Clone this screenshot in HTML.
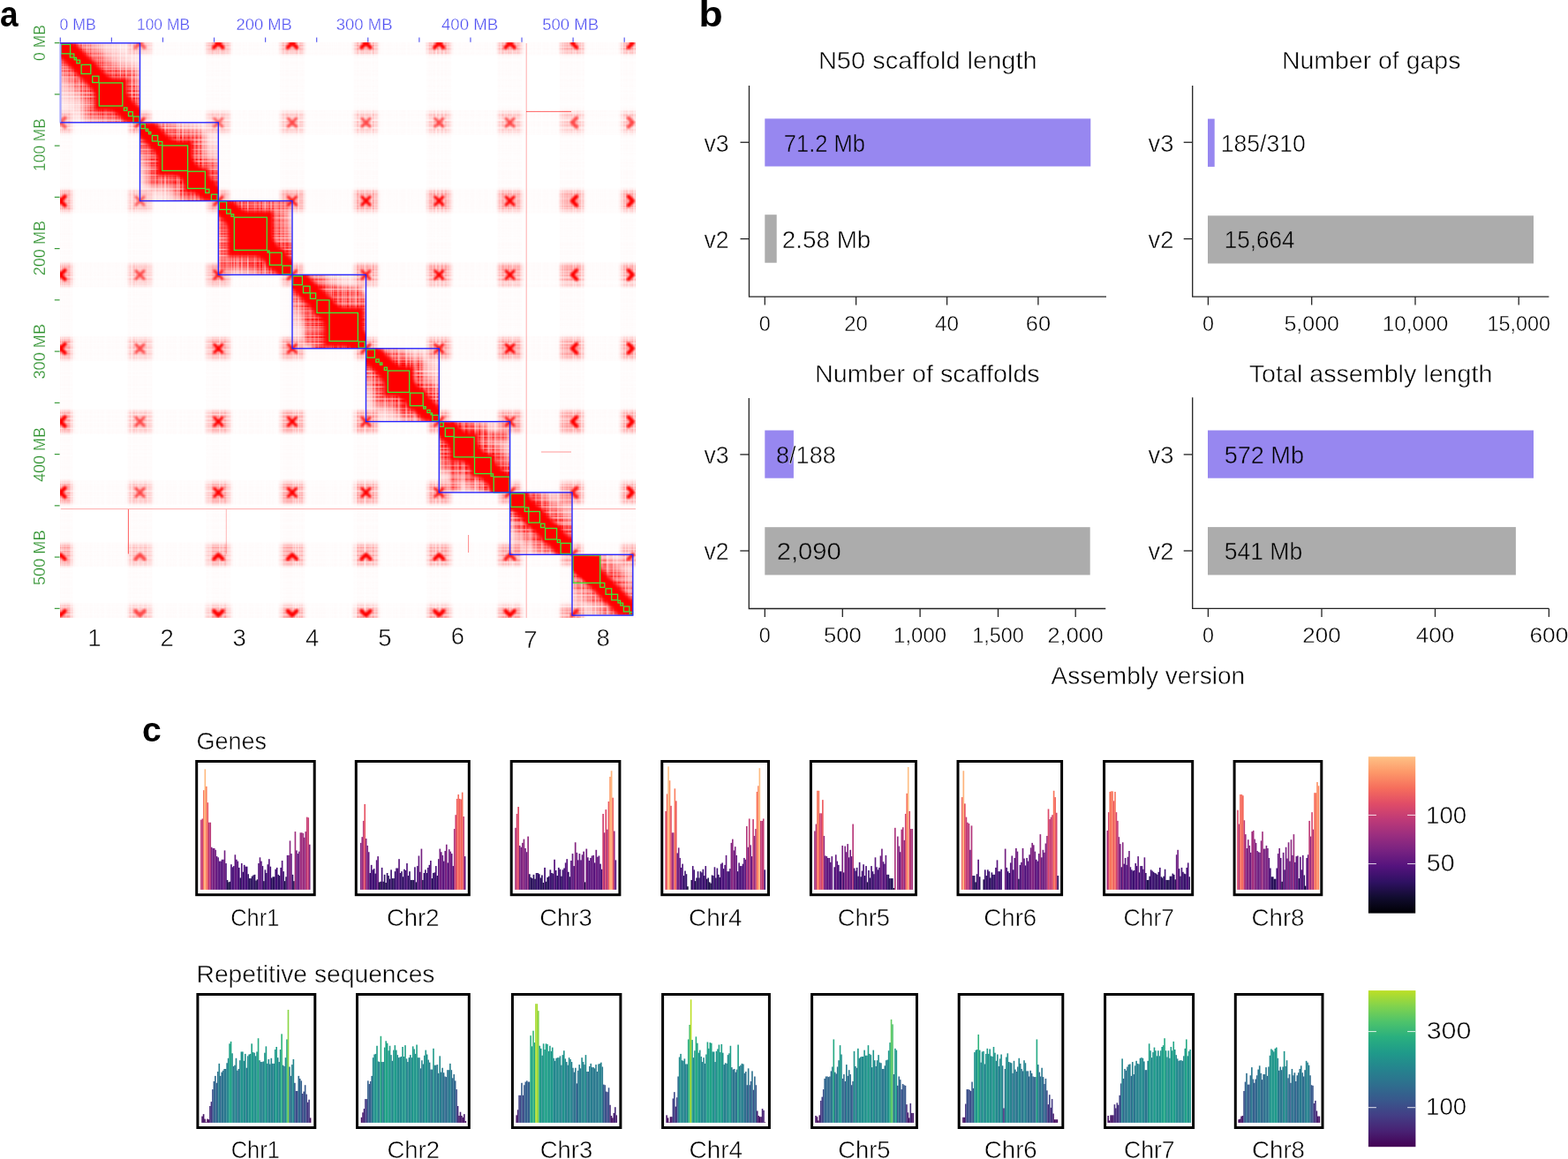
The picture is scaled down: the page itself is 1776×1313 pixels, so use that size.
<!DOCTYPE html>
<html><head><meta charset="utf-8"><title>Figure</title>
<style>html,body{margin:0;padding:0;background:#fff;}svg{display:block;}</style>
</head><body>
<svg width="1776" height="1313" viewBox="0 0 1776 1313" font-family="'Liberation Sans', Arial, sans-serif">
<rect width="1776" height="1313" fill="#fff"/>
<g id="panel-a">
<defs><clipPath id="cmap"><rect x="68.5" y="48.8" width="651.5" height="651.2"/></clipPath>
<filter id="bl1" x="-50%" y="-50%" width="200%" height="200%"><feGaussianBlur stdDeviation="0.8"/></filter>
<filter id="bl2" x="-50%" y="-50%" width="200%" height="200%"><feGaussianBlur stdDeviation="2.2"/></filter>
<filter id="bl4" x="-50%" y="-50%" width="200%" height="200%"><feGaussianBlur stdDeviation="4"/></filter>
<filter id="bl6" x="-50%" y="-50%" width="200%" height="200%"><feGaussianBlur stdDeviation="5"/></filter>
<filter id="bl8" x="-50%" y="-50%" width="200%" height="200%"><feGaussianBlur stdDeviation="9"/></filter>
<filter id="tex" filterUnits="userSpaceOnUse" x="68.5" y="48.8" width="651.5" height="651.2" color-interpolation-filters="sRGB"><feTurbulence type="fractalNoise" baseFrequency="0.45 0.0005" numOctaves="2" seed="7" result="nv"/><feTurbulence type="fractalNoise" baseFrequency="0.0005 0.45" numOctaves="2" seed="11" result="nh"/><feColorMatrix in="nv" type="matrix" values="0 0 0 0 0 0 0 0 0 0 0 0 0 0 0 1.5 0 0 0 0.05" result="av"/><feColorMatrix in="nh" type="matrix" values="0 0 0 0 0 0 0 0 0 0 0 0 0 0 0 1.5 0 0 0 0.05" result="ah"/><feComposite in="av" in2="ah" operator="arithmetic" k1="1.0" k2="0" k3="0" k4="0" result="g"/><feGaussianBlur in="g" stdDeviation="0.6" result="gb"/><feComposite in="SourceGraphic" in2="gb" operator="in"/></filter>
<clipPath id="cb0"><rect x="68.5" y="48.8" width="90.0" height="90.0"/></clipPath>
<clipPath id="cb1"><rect x="158.5" y="138.8" width="88.80000000000001" height="88.80000000000001"/></clipPath>
<clipPath id="cb2"><rect x="247.3" y="227.60000000000002" width="83.69999999999999" height="83.69999999999999"/></clipPath>
<clipPath id="cb3"><rect x="331.0" y="311.3" width="83.5" height="83.5"/></clipPath>
<clipPath id="cb4"><rect x="414.5" y="394.8" width="82.80000000000001" height="82.80000000000001"/></clipPath>
<clipPath id="cb5"><rect x="497.3" y="477.6" width="80.30000000000001" height="80.30000000000001"/></clipPath>
<clipPath id="cb6"><rect x="577.6" y="557.9" width="70.39999999999998" height="70.39999999999998"/></clipPath>
<clipPath id="cb7"><rect x="648.0" y="628.3" width="68.79999999999995" height="68.79999999999995"/></clipPath>
</defs>
<g clip-path="url(#cmap)">
<g filter="url(#tex)">
<rect x="68.5" y="34.8" width="651.5" height="28" fill="#ff0000" opacity="0.02"/>
<rect x="54.5" y="48.8" width="28" height="651.2" fill="#ff0000" opacity="0.02"/>
<rect x="68.5" y="124.80000000000001" width="651.5" height="28" fill="#ff0000" opacity="0.02"/>
<rect x="144.5" y="48.8" width="28" height="651.2" fill="#ff0000" opacity="0.02"/>
<rect x="68.5" y="213.60000000000002" width="651.5" height="28" fill="#ff0000" opacity="0.02"/>
<rect x="233.3" y="48.8" width="28" height="651.2" fill="#ff0000" opacity="0.02"/>
<rect x="68.5" y="297.3" width="651.5" height="28" fill="#ff0000" opacity="0.02"/>
<rect x="317.0" y="48.8" width="28" height="651.2" fill="#ff0000" opacity="0.02"/>
<rect x="68.5" y="380.8" width="651.5" height="28" fill="#ff0000" opacity="0.02"/>
<rect x="400.5" y="48.8" width="28" height="651.2" fill="#ff0000" opacity="0.02"/>
<rect x="68.5" y="463.6" width="651.5" height="28" fill="#ff0000" opacity="0.02"/>
<rect x="483.3" y="48.8" width="28" height="651.2" fill="#ff0000" opacity="0.02"/>
<rect x="68.5" y="543.9" width="651.5" height="28" fill="#ff0000" opacity="0.02"/>
<rect x="563.6" y="48.8" width="28" height="651.2" fill="#ff0000" opacity="0.02"/>
<rect x="68.5" y="614.3" width="651.5" height="28" fill="#ff0000" opacity="0.02"/>
<rect x="634.0" y="48.8" width="28" height="651.2" fill="#ff0000" opacity="0.02"/>
<rect x="68.5" y="683.0999999999999" width="651.5" height="28" fill="#ff0000" opacity="0.02"/>
<rect x="702.8" y="48.8" width="28" height="651.2" fill="#ff0000" opacity="0.02"/>
<rect x="145.5" y="36.8" width="26" height="24" fill="#ff0000" opacity="0.25" filter="url(#bl2)"/>
<rect x="234.3" y="36.8" width="26" height="24" fill="#ff0000" opacity="0.38" filter="url(#bl2)"/>
<rect x="318.0" y="36.8" width="26" height="24" fill="#ff0000" opacity="0.38" filter="url(#bl2)"/>
<rect x="401.5" y="36.8" width="26" height="24" fill="#ff0000" opacity="0.38" filter="url(#bl2)"/>
<rect x="484.3" y="36.8" width="26" height="24" fill="#ff0000" opacity="0.38" filter="url(#bl2)"/>
<rect x="564.6" y="36.8" width="26" height="24" fill="#ff0000" opacity="0.38" filter="url(#bl2)"/>
<rect x="635.0" y="36.8" width="26" height="24" fill="#ff0000" opacity="0.38" filter="url(#bl2)"/>
<rect x="703.8" y="36.8" width="26" height="24" fill="#ff0000" opacity="0.38" filter="url(#bl2)"/>
<rect x="55.5" y="126.80000000000001" width="26" height="24" fill="#ff0000" opacity="0.25" filter="url(#bl2)"/>
<rect x="234.3" y="126.80000000000001" width="26" height="24" fill="#ff0000" opacity="0.25" filter="url(#bl2)"/>
<rect x="318.0" y="126.80000000000001" width="26" height="24" fill="#ff0000" opacity="0.25" filter="url(#bl2)"/>
<rect x="401.5" y="126.80000000000001" width="26" height="24" fill="#ff0000" opacity="0.25" filter="url(#bl2)"/>
<rect x="484.3" y="126.80000000000001" width="26" height="24" fill="#ff0000" opacity="0.25" filter="url(#bl2)"/>
<rect x="564.6" y="126.80000000000001" width="26" height="24" fill="#ff0000" opacity="0.25" filter="url(#bl2)"/>
<rect x="635.0" y="126.80000000000001" width="26" height="24" fill="#ff0000" opacity="0.25" filter="url(#bl2)"/>
<rect x="703.8" y="126.80000000000001" width="26" height="24" fill="#ff0000" opacity="0.25" filter="url(#bl2)"/>
<rect x="55.5" y="215.60000000000002" width="26" height="24" fill="#ff0000" opacity="0.38" filter="url(#bl2)"/>
<rect x="145.5" y="215.60000000000002" width="26" height="24" fill="#ff0000" opacity="0.25" filter="url(#bl2)"/>
<rect x="318.0" y="215.60000000000002" width="26" height="24" fill="#ff0000" opacity="0.38" filter="url(#bl2)"/>
<rect x="401.5" y="215.60000000000002" width="26" height="24" fill="#ff0000" opacity="0.38" filter="url(#bl2)"/>
<rect x="484.3" y="215.60000000000002" width="26" height="24" fill="#ff0000" opacity="0.38" filter="url(#bl2)"/>
<rect x="564.6" y="215.60000000000002" width="26" height="24" fill="#ff0000" opacity="0.38" filter="url(#bl2)"/>
<rect x="635.0" y="215.60000000000002" width="26" height="24" fill="#ff0000" opacity="0.38" filter="url(#bl2)"/>
<rect x="703.8" y="215.60000000000002" width="26" height="24" fill="#ff0000" opacity="0.38" filter="url(#bl2)"/>
<rect x="55.5" y="299.3" width="26" height="24" fill="#ff0000" opacity="0.38" filter="url(#bl2)"/>
<rect x="145.5" y="299.3" width="26" height="24" fill="#ff0000" opacity="0.25" filter="url(#bl2)"/>
<rect x="234.3" y="299.3" width="26" height="24" fill="#ff0000" opacity="0.38" filter="url(#bl2)"/>
<rect x="401.5" y="299.3" width="26" height="24" fill="#ff0000" opacity="0.38" filter="url(#bl2)"/>
<rect x="484.3" y="299.3" width="26" height="24" fill="#ff0000" opacity="0.38" filter="url(#bl2)"/>
<rect x="564.6" y="299.3" width="26" height="24" fill="#ff0000" opacity="0.38" filter="url(#bl2)"/>
<rect x="635.0" y="299.3" width="26" height="24" fill="#ff0000" opacity="0.38" filter="url(#bl2)"/>
<rect x="703.8" y="299.3" width="26" height="24" fill="#ff0000" opacity="0.38" filter="url(#bl2)"/>
<rect x="55.5" y="382.8" width="26" height="24" fill="#ff0000" opacity="0.38" filter="url(#bl2)"/>
<rect x="145.5" y="382.8" width="26" height="24" fill="#ff0000" opacity="0.25" filter="url(#bl2)"/>
<rect x="234.3" y="382.8" width="26" height="24" fill="#ff0000" opacity="0.38" filter="url(#bl2)"/>
<rect x="318.0" y="382.8" width="26" height="24" fill="#ff0000" opacity="0.38" filter="url(#bl2)"/>
<rect x="484.3" y="382.8" width="26" height="24" fill="#ff0000" opacity="0.38" filter="url(#bl2)"/>
<rect x="564.6" y="382.8" width="26" height="24" fill="#ff0000" opacity="0.38" filter="url(#bl2)"/>
<rect x="635.0" y="382.8" width="26" height="24" fill="#ff0000" opacity="0.38" filter="url(#bl2)"/>
<rect x="703.8" y="382.8" width="26" height="24" fill="#ff0000" opacity="0.38" filter="url(#bl2)"/>
<rect x="55.5" y="465.6" width="26" height="24" fill="#ff0000" opacity="0.38" filter="url(#bl2)"/>
<rect x="145.5" y="465.6" width="26" height="24" fill="#ff0000" opacity="0.25" filter="url(#bl2)"/>
<rect x="234.3" y="465.6" width="26" height="24" fill="#ff0000" opacity="0.38" filter="url(#bl2)"/>
<rect x="318.0" y="465.6" width="26" height="24" fill="#ff0000" opacity="0.38" filter="url(#bl2)"/>
<rect x="401.5" y="465.6" width="26" height="24" fill="#ff0000" opacity="0.38" filter="url(#bl2)"/>
<rect x="564.6" y="465.6" width="26" height="24" fill="#ff0000" opacity="0.38" filter="url(#bl2)"/>
<rect x="635.0" y="465.6" width="26" height="24" fill="#ff0000" opacity="0.38" filter="url(#bl2)"/>
<rect x="703.8" y="465.6" width="26" height="24" fill="#ff0000" opacity="0.38" filter="url(#bl2)"/>
<rect x="55.5" y="545.9" width="26" height="24" fill="#ff0000" opacity="0.38" filter="url(#bl2)"/>
<rect x="145.5" y="545.9" width="26" height="24" fill="#ff0000" opacity="0.25" filter="url(#bl2)"/>
<rect x="234.3" y="545.9" width="26" height="24" fill="#ff0000" opacity="0.38" filter="url(#bl2)"/>
<rect x="318.0" y="545.9" width="26" height="24" fill="#ff0000" opacity="0.38" filter="url(#bl2)"/>
<rect x="401.5" y="545.9" width="26" height="24" fill="#ff0000" opacity="0.38" filter="url(#bl2)"/>
<rect x="484.3" y="545.9" width="26" height="24" fill="#ff0000" opacity="0.38" filter="url(#bl2)"/>
<rect x="635.0" y="545.9" width="26" height="24" fill="#ff0000" opacity="0.38" filter="url(#bl2)"/>
<rect x="703.8" y="545.9" width="26" height="24" fill="#ff0000" opacity="0.38" filter="url(#bl2)"/>
<rect x="55.5" y="616.3" width="26" height="24" fill="#ff0000" opacity="0.38" filter="url(#bl2)"/>
<rect x="145.5" y="616.3" width="26" height="24" fill="#ff0000" opacity="0.25" filter="url(#bl2)"/>
<rect x="234.3" y="616.3" width="26" height="24" fill="#ff0000" opacity="0.38" filter="url(#bl2)"/>
<rect x="318.0" y="616.3" width="26" height="24" fill="#ff0000" opacity="0.38" filter="url(#bl2)"/>
<rect x="401.5" y="616.3" width="26" height="24" fill="#ff0000" opacity="0.38" filter="url(#bl2)"/>
<rect x="484.3" y="616.3" width="26" height="24" fill="#ff0000" opacity="0.38" filter="url(#bl2)"/>
<rect x="564.6" y="616.3" width="26" height="24" fill="#ff0000" opacity="0.38" filter="url(#bl2)"/>
<rect x="703.8" y="616.3" width="26" height="24" fill="#ff0000" opacity="0.38" filter="url(#bl2)"/>
<rect x="55.5" y="685.0999999999999" width="26" height="24" fill="#ff0000" opacity="0.38" filter="url(#bl2)"/>
<rect x="145.5" y="685.0999999999999" width="26" height="24" fill="#ff0000" opacity="0.25" filter="url(#bl2)"/>
<rect x="234.3" y="685.0999999999999" width="26" height="24" fill="#ff0000" opacity="0.38" filter="url(#bl2)"/>
<rect x="318.0" y="685.0999999999999" width="26" height="24" fill="#ff0000" opacity="0.38" filter="url(#bl2)"/>
<rect x="401.5" y="685.0999999999999" width="26" height="24" fill="#ff0000" opacity="0.38" filter="url(#bl2)"/>
<rect x="484.3" y="685.0999999999999" width="26" height="24" fill="#ff0000" opacity="0.38" filter="url(#bl2)"/>
<rect x="564.6" y="685.0999999999999" width="26" height="24" fill="#ff0000" opacity="0.38" filter="url(#bl2)"/>
<rect x="635.0" y="685.0999999999999" width="26" height="24" fill="#ff0000" opacity="0.38" filter="url(#bl2)"/>
<rect x="158.5" y="126.80000000000001" width="12" height="12" fill="#ff0000" opacity="0.38" filter="url(#bl2)"/>
<rect x="146.5" y="138.8" width="12" height="12" fill="#ff0000" opacity="0.38" filter="url(#bl2)"/>
<rect x="247.3" y="215.60000000000002" width="12" height="12" fill="#ff0000" opacity="0.38" filter="url(#bl2)"/>
<rect x="235.3" y="227.60000000000002" width="12" height="12" fill="#ff0000" opacity="0.38" filter="url(#bl2)"/>
<rect x="331.0" y="299.3" width="12" height="12" fill="#ff0000" opacity="0.38" filter="url(#bl2)"/>
<rect x="319.0" y="311.3" width="12" height="12" fill="#ff0000" opacity="0.38" filter="url(#bl2)"/>
<rect x="414.5" y="382.8" width="12" height="12" fill="#ff0000" opacity="0.38" filter="url(#bl2)"/>
<rect x="402.5" y="394.8" width="12" height="12" fill="#ff0000" opacity="0.38" filter="url(#bl2)"/>
<rect x="497.3" y="465.6" width="12" height="12" fill="#ff0000" opacity="0.38" filter="url(#bl2)"/>
<rect x="485.3" y="477.6" width="12" height="12" fill="#ff0000" opacity="0.38" filter="url(#bl2)"/>
<rect x="577.6" y="545.9" width="12" height="12" fill="#ff0000" opacity="0.38" filter="url(#bl2)"/>
<rect x="565.6" y="557.9" width="12" height="12" fill="#ff0000" opacity="0.38" filter="url(#bl2)"/>
<rect x="648.0" y="616.3" width="12" height="12" fill="#ff0000" opacity="0.38" filter="url(#bl2)"/>
<rect x="636.0" y="628.3" width="12" height="12" fill="#ff0000" opacity="0.38" filter="url(#bl2)"/>
<g clip-path="url(#cb0)">
<rect x="68.5" y="48.8" width="90.0" height="90.0" fill="#ff0000" opacity="0.08"/>
<polygon points="14.5,48.8 122.5,48.8 212.5,138.8 104.5,138.8" fill="#ff0000" opacity="0.3" filter="url(#bl8)"/>
<polygon points="34.5,48.8 102.5,48.8 192.5,138.8 124.5,138.8" fill="#ff0000" opacity="0.7" filter="url(#bl6)"/>
<rect x="62.6" y="43.9" width="23.3" height="23.2" fill="#ff0000" opacity="0.8" filter="url(#bl4)"/>
<rect x="85.7" y="66.9" width="23.5" height="23.1" fill="#ff0000" opacity="0.8" filter="url(#bl4)"/>
<rect x="100.4" y="82.0" width="15.8" height="15.8" fill="#ff0000" opacity="0.8" filter="url(#bl4)"/>
<rect x="96.4" y="78.0" width="58.3" height="57.9" fill="#ff0000" opacity="0.8" filter="url(#bl4)"/>
<rect x="146.9" y="127.9" width="15.0" height="15.2" fill="#ff0000" opacity="0.8" filter="url(#bl4)"/>
</g>
<g clip-path="url(#cb1)">
<rect x="158.5" y="138.8" width="88.80000000000001" height="88.80000000000001" fill="#ff0000" opacity="0.08"/>
<polygon points="104.5,138.8 212.5,138.8 301.3,227.60000000000002 193.3,227.60000000000002" fill="#ff0000" opacity="0.3" filter="url(#bl8)"/>
<polygon points="124.5,138.8 192.5,138.8 281.3,227.60000000000002 213.3,227.60000000000002" fill="#ff0000" opacity="0.7" filter="url(#bl6)"/>
<rect x="168.6" y="149.7" width="13.9" height="14.0" fill="#ff0000" opacity="0.8" filter="url(#bl4)"/>
<rect x="166.5" y="147.6" width="63.4" height="63.1" fill="#ff0000" opacity="0.8" filter="url(#bl4)"/>
<rect x="200.7" y="182.3" width="43.6" height="43.1" fill="#ff0000" opacity="0.8" filter="url(#bl4)"/>
<rect x="235.4" y="216.2" width="14.7" height="14.7" fill="#ff0000" opacity="0.8" filter="url(#bl4)"/>
</g>
<g clip-path="url(#cb2)">
<rect x="247.3" y="227.60000000000002" width="83.69999999999999" height="83.69999999999999" fill="#ff0000" opacity="0.08"/>
<polygon points="193.3,227.60000000000002 301.3,227.60000000000002 385.0,311.3 277.0,311.3" fill="#ff0000" opacity="0.3" filter="url(#bl8)"/>
<polygon points="213.3,227.60000000000002 281.3,227.60000000000002 365.0,311.3 297.0,311.3" fill="#ff0000" opacity="0.7" filter="url(#bl6)"/>
<rect x="243.3" y="223.6" width="18.3" height="18.8" fill="#ff0000" opacity="0.8" filter="url(#bl4)"/>
<rect x="243.1" y="224.0" width="81.4" height="81.6" fill="#ff0000" opacity="0.8" filter="url(#bl4)"/>
<rect x="297.2" y="278.0" width="30.1" height="30.4" fill="#ff0000" opacity="0.8" filter="url(#bl4)"/>
<rect x="313.8" y="294.9" width="22.2" height="21.6" fill="#ff0000" opacity="0.8" filter="url(#bl4)"/>
</g>
<g clip-path="url(#cb3)">
<rect x="331.0" y="311.3" width="83.5" height="83.5" fill="#ff0000" opacity="0.08"/>
<polygon points="277.0,311.3 385.0,311.3 468.5,394.8 360.5,394.8" fill="#ff0000" opacity="0.3" filter="url(#bl8)"/>
<polygon points="297.0,311.3 365.0,311.3 448.5,394.8 380.5,394.8" fill="#ff0000" opacity="0.7" filter="url(#bl6)"/>
<rect x="345.5" y="333" width="11" height="57" fill="#ff0000" opacity="0.75" filter="url(#bl2)"/>
<rect x="352.7" y="325.8" width="57.0" height="11" fill="#ff0000" opacity="0.75" filter="url(#bl2)"/>
<rect x="325.3" y="306.4" width="23.5" height="22.7" fill="#ff0000" opacity="0.8" filter="url(#bl4)"/>
<rect x="339.0" y="319.7" width="16.5" height="16.6" fill="#ff0000" opacity="0.8" filter="url(#bl4)"/>
<rect x="347.7" y="328.3" width="13.6" height="13.8" fill="#ff0000" opacity="0.8" filter="url(#bl4)"/>
<rect x="350.6" y="331.6" width="30.8" height="31.2" fill="#ff0000" opacity="0.8" filter="url(#bl4)"/>
<rect x="353.6" y="335.0" width="71.3" height="70.9" fill="#ff0000" opacity="0.8" filter="url(#bl4)"/>
<rect x="402.0" y="382.8" width="15.4" height="15.4" fill="#ff0000" opacity="0.8" filter="url(#bl4)"/>
</g>
<g clip-path="url(#cb4)">
<rect x="414.5" y="394.8" width="82.80000000000001" height="82.80000000000001" fill="#ff0000" opacity="0.08"/>
<polygon points="360.5,394.8 468.5,394.8 551.3,477.6 443.3,477.6" fill="#ff0000" opacity="0.3" filter="url(#bl8)"/>
<polygon points="380.5,394.8 448.5,394.8 531.3,477.6 463.3,477.6" fill="#ff0000" opacity="0.7" filter="url(#bl6)"/>
<rect x="409.7" y="390.5" width="20.2" height="20.1" fill="#ff0000" opacity="0.8" filter="url(#bl4)"/>
<rect x="424.7" y="405.4" width="53.7" height="53.7" fill="#ff0000" opacity="0.8" filter="url(#bl4)"/>
<rect x="455.5" y="436.3" width="32.6" height="32.3" fill="#ff0000" opacity="0.8" filter="url(#bl4)"/>
<rect x="485.8" y="466.2" width="15.0" height="14.9" fill="#ff0000" opacity="0.8" filter="url(#bl4)"/>
</g>
<g clip-path="url(#cb5)">
<rect x="497.3" y="477.6" width="80.30000000000001" height="80.30000000000001" fill="#ff0000" opacity="0.08"/>
<polygon points="443.3,477.6 551.3,477.6 631.6,557.9 523.6,557.9" fill="#ff0000" opacity="0.3" filter="url(#bl8)"/>
<polygon points="463.3,477.6 531.3,477.6 611.6,557.9 543.6,557.9" fill="#ff0000" opacity="0.7" filter="url(#bl6)"/>
<rect x="510.0" y="497" width="10" height="59" fill="#ff0000" opacity="0.7" filter="url(#bl2)"/>
<rect x="516.7" y="490.3" width="59.0" height="10" fill="#ff0000" opacity="0.7" filter="url(#bl2)"/>
<rect x="498.4" y="479.1" width="21.8" height="21.4" fill="#ff0000" opacity="0.8" filter="url(#bl4)"/>
<rect x="500.5" y="481.6" width="50.4" height="50.0" fill="#ff0000" opacity="0.8" filter="url(#bl4)"/>
<rect x="526.3" y="507.1" width="40.9" height="40.6" fill="#ff0000" opacity="0.8" filter="url(#bl4)"/>
<rect x="548.5" y="529.5" width="39.4" height="39.2" fill="#ff0000" opacity="0.8" filter="url(#bl4)"/>
</g>
<g clip-path="url(#cb6)">
<rect x="577.6" y="557.9" width="70.39999999999998" height="70.39999999999998" fill="#ff0000" opacity="0.08"/>
<polygon points="523.6,557.9 631.6,557.9 702.0,628.3 594.0,628.3" fill="#ff0000" opacity="0.3" filter="url(#bl8)"/>
<polygon points="543.6,557.9 611.6,557.9 682.0,628.3 614.0,628.3" fill="#ff0000" opacity="0.7" filter="url(#bl6)"/>
<rect x="569.2" y="549.9" width="34.1" height="33.7" fill="#ff0000" opacity="0.8" filter="url(#bl4)"/>
<rect x="591.2" y="571.9" width="27.7" height="27.7" fill="#ff0000" opacity="0.8" filter="url(#bl4)"/>
<rect x="609.8" y="590.7" width="28.6" height="28.1" fill="#ff0000" opacity="0.8" filter="url(#bl4)"/>
<rect x="628.2" y="608.5" width="25.3" height="25.7" fill="#ff0000" opacity="0.8" filter="url(#bl4)"/>
</g>
<g clip-path="url(#cb7)">
<rect x="648.0" y="628.3" width="68.79999999999995" height="68.79999999999995" fill="#ff0000" opacity="0.08"/>
<polygon points="594.0,628.3 702.0,628.3 770.8,697.0999999999999 662.8,697.0999999999999" fill="#ff0000" opacity="0.3" filter="url(#bl8)"/>
<polygon points="614.0,628.3 682.0,628.3 750.8,697.0999999999999 682.8,697.0999999999999" fill="#ff0000" opacity="0.7" filter="url(#bl6)"/>
<rect x="682.1" y="662.8" width="14.5" height="14.4" fill="#ff0000" opacity="0.8" filter="url(#bl4)"/>
<rect x="688.6" y="669.2" width="15.2" height="14.8" fill="#ff0000" opacity="0.8" filter="url(#bl4)"/>
<rect x="702.5" y="683.1" width="14.3" height="13.7" fill="#ff0000" opacity="0.8" filter="url(#bl4)"/>
</g>
</g>
<g clip-path="url(#cb0)">
<polygon points="51.5,48.8 85.5,48.8 175.5,138.8 141.5,138.8" fill="#ff0000" filter="url(#bl2)"/>
<rect x="66.9" y="48.2" width="14.8" height="14.7" fill="#ff0000" filter="url(#bl2)"/>
<rect x="90.0" y="71.2" width="15.0" height="14.6" fill="#ff0000" filter="url(#bl2)"/>
<rect x="103.3" y="84.9" width="10.1" height="10.1" fill="#ff0000" filter="url(#bl2)"/>
<rect x="107.0" y="88.6" width="37.1" height="36.7" fill="#ff0000" filter="url(#bl2)"/>
<rect x="149.6" y="130.6" width="9.5" height="9.7" fill="#ff0000" filter="url(#bl2)"/>
</g>
<g clip-path="url(#cb1)">
<polygon points="141.5,138.8 175.5,138.8 264.3,227.60000000000002 230.3,227.60000000000002" fill="#ff0000" filter="url(#bl2)"/>
<rect x="171.1" y="152.2" width="8.8" height="8.9" fill="#ff0000" filter="url(#bl2)"/>
<rect x="178.0" y="159.1" width="40.3" height="40.0" fill="#ff0000" filter="url(#bl2)"/>
<rect x="208.6" y="190.2" width="27.7" height="27.2" fill="#ff0000" filter="url(#bl2)"/>
<rect x="238.1" y="218.9" width="9.4" height="9.4" fill="#ff0000" filter="url(#bl2)"/>
</g>
<g clip-path="url(#cb2)">
<polygon points="230.3,227.60000000000002 264.3,227.60000000000002 348.0,311.3 314.0,311.3" fill="#ff0000" filter="url(#bl2)"/>
<rect x="246.6" y="226.9" width="11.6" height="12.1" fill="#ff0000" filter="url(#bl2)"/>
<rect x="257.9" y="238.8" width="51.8" height="52.0" fill="#ff0000" filter="url(#bl2)"/>
<rect x="302.7" y="283.5" width="19.2" height="19.5" fill="#ff0000" filter="url(#bl2)"/>
<rect x="317.9" y="299.0" width="14.1" height="13.5" fill="#ff0000" filter="url(#bl2)"/>
</g>
<g clip-path="url(#cb3)">
<polygon points="314.0,311.3 348.0,311.3 431.5,394.8 397.5,394.8" fill="#ff0000" filter="url(#bl2)"/>
<rect x="329.6" y="310.7" width="15.0" height="14.2" fill="#ff0000" filter="url(#bl2)"/>
<rect x="342.0" y="322.7" width="10.5" height="10.6" fill="#ff0000" filter="url(#bl2)"/>
<rect x="350.2" y="330.8" width="8.7" height="8.9" fill="#ff0000" filter="url(#bl2)"/>
<rect x="356.2" y="337.2" width="19.6" height="20.0" fill="#ff0000" filter="url(#bl2)"/>
<rect x="366.5" y="347.9" width="45.4" height="45.0" fill="#ff0000" filter="url(#bl2)"/>
<rect x="404.8" y="385.6" width="9.8" height="9.8" fill="#ff0000" filter="url(#bl2)"/>
</g>
<g clip-path="url(#cb4)">
<polygon points="397.5,394.8 431.5,394.8 514.3,477.6 480.3,477.6" fill="#ff0000" filter="url(#bl2)"/>
<rect x="413.4" y="394.2" width="12.9" height="12.8" fill="#ff0000" filter="url(#bl2)"/>
<rect x="434.4" y="415.1" width="34.2" height="34.2" fill="#ff0000" filter="url(#bl2)"/>
<rect x="461.4" y="442.2" width="20.7" height="20.4" fill="#ff0000" filter="url(#bl2)"/>
<rect x="488.5" y="468.9" width="9.5" height="9.4" fill="#ff0000" filter="url(#bl2)"/>
</g>
<g clip-path="url(#cb5)">
<polygon points="480.3,477.6 514.3,477.6 594.6,557.9 560.6,557.9" fill="#ff0000" filter="url(#bl2)"/>
<rect x="502.3" y="483.0" width="13.9" height="13.5" fill="#ff0000" filter="url(#bl2)"/>
<rect x="509.6" y="490.7" width="32.1" height="31.7" fill="#ff0000" filter="url(#bl2)"/>
<rect x="533.8" y="514.6" width="26.0" height="25.7" fill="#ff0000" filter="url(#bl2)"/>
<rect x="555.6" y="536.6" width="25.1" height="24.9" fill="#ff0000" filter="url(#bl2)"/>
</g>
<g clip-path="url(#cb6)">
<polygon points="560.6,557.9 594.6,557.9 665.0,628.3 631.0,628.3" fill="#ff0000" filter="url(#bl2)"/>
<rect x="575.4" y="556.1" width="21.7" height="21.3" fill="#ff0000" filter="url(#bl2)"/>
<rect x="596.3" y="577.0" width="17.6" height="17.6" fill="#ff0000" filter="url(#bl2)"/>
<rect x="615.0" y="595.9" width="18.2" height="17.7" fill="#ff0000" filter="url(#bl2)"/>
<rect x="632.8" y="613.1" width="16.1" height="16.5" fill="#ff0000" filter="url(#bl2)"/>
</g>
<g clip-path="url(#cb7)">
<polygon points="631.0,628.3 665.0,628.3 733.8,697.0999999999999 699.8,697.0999999999999" fill="#ff0000" filter="url(#bl2)"/>
<rect x="684.8" y="665.5" width="9.2" height="9.1" fill="#ff0000" filter="url(#bl2)"/>
<rect x="691.3" y="671.9" width="9.7" height="9.3" fill="#ff0000" filter="url(#bl2)"/>
<rect x="705.1" y="685.7" width="9.1" height="8.5" fill="#ff0000" filter="url(#bl2)"/>
</g>
<path d="M158.5 48.8l-5.0 -5.0M158.5 48.8l-5.0 5.0M158.5 48.8l5.0 -5.0M158.5 48.8l5.0 5.0" stroke="#ff0000" stroke-width="4.4" stroke-linecap="round" opacity="0.55" filter="url(#bl1)"/>
<path d="M247.3 48.8l-5.0 -5.0M247.3 48.8l-5.0 5.0M247.3 48.8l5.0 -5.0M247.3 48.8l5.0 5.0" stroke="#ff0000" stroke-width="4.4" stroke-linecap="round" opacity="1.00" filter="url(#bl1)"/>
<path d="M331.0 48.8l-5.0 -5.0M331.0 48.8l-5.0 5.0M331.0 48.8l5.0 -5.0M331.0 48.8l5.0 5.0" stroke="#ff0000" stroke-width="4.4" stroke-linecap="round" opacity="1.00" filter="url(#bl1)"/>
<path d="M414.5 48.8l-5.0 -5.0M414.5 48.8l-5.0 5.0M414.5 48.8l5.0 -5.0M414.5 48.8l5.0 5.0" stroke="#ff0000" stroke-width="4.4" stroke-linecap="round" opacity="1.00" filter="url(#bl1)"/>
<path d="M497.3 48.8l-5.0 -5.0M497.3 48.8l-5.0 5.0M497.3 48.8l5.0 -5.0M497.3 48.8l5.0 5.0" stroke="#ff0000" stroke-width="4.4" stroke-linecap="round" opacity="1.00" filter="url(#bl1)"/>
<path d="M577.6 48.8l-5.0 -5.0M577.6 48.8l-5.0 5.0M577.6 48.8l5.0 -5.0M577.6 48.8l5.0 5.0" stroke="#ff0000" stroke-width="4.4" stroke-linecap="round" opacity="1.00" filter="url(#bl1)"/>
<path d="M648.0 48.8l5.0 -5.0M648.0 48.8l5.0 5.0" stroke="#ff0000" stroke-width="4.4" stroke-linecap="round" opacity="1.00" filter="url(#bl1)"/>
<path d="M716.8 48.8l-5.0 -5.0M716.8 48.8l-5.0 5.0" stroke="#ff0000" stroke-width="4.4" stroke-linecap="round" opacity="1.00" filter="url(#bl1)"/>
<path d="M68.5 138.8l-5.0 -5.0M68.5 138.8l-5.0 5.0M68.5 138.8l5.0 -5.0M68.5 138.8l5.0 5.0" stroke="#ff0000" stroke-width="4.4" stroke-linecap="round" opacity="0.55" filter="url(#bl1)"/>
<path d="M247.3 138.8l-4.4 -4.4M247.3 138.8l-4.4 4.4M247.3 138.8l4.4 -4.4M247.3 138.8l4.4 4.4" stroke="#ff0000" stroke-width="3.3" stroke-linecap="round" opacity="0.55" filter="url(#bl1)"/>
<path d="M331.0 138.8l-4.4 -4.4M331.0 138.8l-4.4 4.4M331.0 138.8l4.4 -4.4M331.0 138.8l4.4 4.4" stroke="#ff0000" stroke-width="3.3" stroke-linecap="round" opacity="0.65" filter="url(#bl1)"/>
<path d="M414.5 138.8l-4.4 -4.4M414.5 138.8l-4.4 4.4M414.5 138.8l4.4 -4.4M414.5 138.8l4.4 4.4" stroke="#ff0000" stroke-width="3.3" stroke-linecap="round" opacity="0.65" filter="url(#bl1)"/>
<path d="M497.3 138.8l-4.4 -4.4M497.3 138.8l-4.4 4.4M497.3 138.8l4.4 -4.4M497.3 138.8l4.4 4.4" stroke="#ff0000" stroke-width="3.3" stroke-linecap="round" opacity="0.65" filter="url(#bl1)"/>
<path d="M577.6 138.8l-4.4 -4.4M577.6 138.8l-4.4 4.4M577.6 138.8l4.4 -4.4M577.6 138.8l4.4 4.4" stroke="#ff0000" stroke-width="3.3" stroke-linecap="round" opacity="0.65" filter="url(#bl1)"/>
<path d="M648.0 138.8l5.0 -5.0M648.0 138.8l5.0 5.0" stroke="#ff0000" stroke-width="4.4" stroke-linecap="round" opacity="0.65" filter="url(#bl1)"/>
<path d="M716.8 138.8l-5.0 -5.0M716.8 138.8l-5.0 5.0" stroke="#ff0000" stroke-width="4.4" stroke-linecap="round" opacity="0.65" filter="url(#bl1)"/>
<path d="M68.5 227.6l-5.0 -5.0M68.5 227.6l-5.0 5.0M68.5 227.6l5.0 -5.0M68.5 227.6l5.0 5.0" stroke="#ff0000" stroke-width="4.4" stroke-linecap="round" opacity="1.00" filter="url(#bl1)"/>
<path d="M158.5 227.6l-4.4 -4.4M158.5 227.6l-4.4 4.4M158.5 227.6l4.4 -4.4M158.5 227.6l4.4 4.4" stroke="#ff0000" stroke-width="3.3" stroke-linecap="round" opacity="0.55" filter="url(#bl1)"/>
<path d="M331.0 227.6l-4.4 -4.4M331.0 227.6l-4.4 4.4M331.0 227.6l4.4 -4.4M331.0 227.6l4.4 4.4" stroke="#ff0000" stroke-width="3.3" stroke-linecap="round" opacity="0.85" filter="url(#bl1)"/>
<path d="M414.5 227.6l-4.4 -4.4M414.5 227.6l-4.4 4.4M414.5 227.6l4.4 -4.4M414.5 227.6l4.4 4.4" stroke="#ff0000" stroke-width="3.3" stroke-linecap="round" opacity="1.00" filter="url(#bl1)"/>
<path d="M497.3 227.6l-4.4 -4.4M497.3 227.6l-4.4 4.4M497.3 227.6l4.4 -4.4M497.3 227.6l4.4 4.4" stroke="#ff0000" stroke-width="3.3" stroke-linecap="round" opacity="1.00" filter="url(#bl1)"/>
<path d="M577.6 227.6l-4.4 -4.4M577.6 227.6l-4.4 4.4M577.6 227.6l4.4 -4.4M577.6 227.6l4.4 4.4" stroke="#ff0000" stroke-width="3.3" stroke-linecap="round" opacity="1.00" filter="url(#bl1)"/>
<path d="M648.0 227.6l5.0 -5.0M648.0 227.6l5.0 5.0" stroke="#ff0000" stroke-width="4.4" stroke-linecap="round" opacity="1.00" filter="url(#bl1)"/>
<path d="M716.8 227.6l-5.0 -5.0M716.8 227.6l-5.0 5.0" stroke="#ff0000" stroke-width="4.4" stroke-linecap="round" opacity="1.00" filter="url(#bl1)"/>
<path d="M68.5 311.3l-5.0 -5.0M68.5 311.3l-5.0 5.0M68.5 311.3l5.0 -5.0M68.5 311.3l5.0 5.0" stroke="#ff0000" stroke-width="4.4" stroke-linecap="round" opacity="1.00" filter="url(#bl1)"/>
<path d="M158.5 311.3l-4.4 -4.4M158.5 311.3l-4.4 4.4M158.5 311.3l4.4 -4.4M158.5 311.3l4.4 4.4" stroke="#ff0000" stroke-width="3.3" stroke-linecap="round" opacity="0.65" filter="url(#bl1)"/>
<path d="M247.3 311.3l-4.4 -4.4M247.3 311.3l-4.4 4.4M247.3 311.3l4.4 -4.4M247.3 311.3l4.4 4.4" stroke="#ff0000" stroke-width="3.3" stroke-linecap="round" opacity="0.85" filter="url(#bl1)"/>
<path d="M414.5 311.3l-4.4 -4.4M414.5 311.3l-4.4 4.4M414.5 311.3l4.4 -4.4M414.5 311.3l4.4 4.4" stroke="#ff0000" stroke-width="3.3" stroke-linecap="round" opacity="0.85" filter="url(#bl1)"/>
<path d="M497.3 311.3l-4.4 -4.4M497.3 311.3l-4.4 4.4M497.3 311.3l4.4 -4.4M497.3 311.3l4.4 4.4" stroke="#ff0000" stroke-width="3.3" stroke-linecap="round" opacity="1.00" filter="url(#bl1)"/>
<path d="M577.6 311.3l-4.4 -4.4M577.6 311.3l-4.4 4.4M577.6 311.3l4.4 -4.4M577.6 311.3l4.4 4.4" stroke="#ff0000" stroke-width="3.3" stroke-linecap="round" opacity="1.00" filter="url(#bl1)"/>
<path d="M648.0 311.3l5.0 -5.0M648.0 311.3l5.0 5.0" stroke="#ff0000" stroke-width="4.4" stroke-linecap="round" opacity="1.00" filter="url(#bl1)"/>
<path d="M716.8 311.3l-5.0 -5.0M716.8 311.3l-5.0 5.0" stroke="#ff0000" stroke-width="4.4" stroke-linecap="round" opacity="1.00" filter="url(#bl1)"/>
<path d="M68.5 394.8l-5.0 -5.0M68.5 394.8l-5.0 5.0M68.5 394.8l5.0 -5.0M68.5 394.8l5.0 5.0" stroke="#ff0000" stroke-width="4.4" stroke-linecap="round" opacity="1.00" filter="url(#bl1)"/>
<path d="M158.5 394.8l-4.4 -4.4M158.5 394.8l-4.4 4.4M158.5 394.8l4.4 -4.4M158.5 394.8l4.4 4.4" stroke="#ff0000" stroke-width="3.3" stroke-linecap="round" opacity="0.65" filter="url(#bl1)"/>
<path d="M247.3 394.8l-4.4 -4.4M247.3 394.8l-4.4 4.4M247.3 394.8l4.4 -4.4M247.3 394.8l4.4 4.4" stroke="#ff0000" stroke-width="3.3" stroke-linecap="round" opacity="1.00" filter="url(#bl1)"/>
<path d="M331.0 394.8l-4.4 -4.4M331.0 394.8l-4.4 4.4M331.0 394.8l4.4 -4.4M331.0 394.8l4.4 4.4" stroke="#ff0000" stroke-width="3.3" stroke-linecap="round" opacity="0.85" filter="url(#bl1)"/>
<path d="M497.3 394.8l-4.4 -4.4M497.3 394.8l-4.4 4.4M497.3 394.8l4.4 -4.4M497.3 394.8l4.4 4.4" stroke="#ff0000" stroke-width="3.3" stroke-linecap="round" opacity="0.85" filter="url(#bl1)"/>
<path d="M577.6 394.8l-4.4 -4.4M577.6 394.8l-4.4 4.4M577.6 394.8l4.4 -4.4M577.6 394.8l4.4 4.4" stroke="#ff0000" stroke-width="3.3" stroke-linecap="round" opacity="1.00" filter="url(#bl1)"/>
<path d="M648.0 394.8l5.0 -5.0M648.0 394.8l5.0 5.0" stroke="#ff0000" stroke-width="4.4" stroke-linecap="round" opacity="1.00" filter="url(#bl1)"/>
<path d="M716.8 394.8l-5.0 -5.0M716.8 394.8l-5.0 5.0" stroke="#ff0000" stroke-width="4.4" stroke-linecap="round" opacity="1.00" filter="url(#bl1)"/>
<path d="M68.5 477.6l-5.0 -5.0M68.5 477.6l-5.0 5.0M68.5 477.6l5.0 -5.0M68.5 477.6l5.0 5.0" stroke="#ff0000" stroke-width="4.4" stroke-linecap="round" opacity="1.00" filter="url(#bl1)"/>
<path d="M158.5 477.6l-4.4 -4.4M158.5 477.6l-4.4 4.4M158.5 477.6l4.4 -4.4M158.5 477.6l4.4 4.4" stroke="#ff0000" stroke-width="3.3" stroke-linecap="round" opacity="0.65" filter="url(#bl1)"/>
<path d="M247.3 477.6l-4.4 -4.4M247.3 477.6l-4.4 4.4M247.3 477.6l4.4 -4.4M247.3 477.6l4.4 4.4" stroke="#ff0000" stroke-width="3.3" stroke-linecap="round" opacity="1.00" filter="url(#bl1)"/>
<path d="M331.0 477.6l-4.4 -4.4M331.0 477.6l-4.4 4.4M331.0 477.6l4.4 -4.4M331.0 477.6l4.4 4.4" stroke="#ff0000" stroke-width="3.3" stroke-linecap="round" opacity="1.00" filter="url(#bl1)"/>
<path d="M414.5 477.6l-4.4 -4.4M414.5 477.6l-4.4 4.4M414.5 477.6l4.4 -4.4M414.5 477.6l4.4 4.4" stroke="#ff0000" stroke-width="3.3" stroke-linecap="round" opacity="0.85" filter="url(#bl1)"/>
<path d="M577.6 477.6l-4.4 -4.4M577.6 477.6l-4.4 4.4M577.6 477.6l4.4 -4.4M577.6 477.6l4.4 4.4" stroke="#ff0000" stroke-width="3.3" stroke-linecap="round" opacity="0.85" filter="url(#bl1)"/>
<path d="M648.0 477.6l5.0 -5.0M648.0 477.6l5.0 5.0" stroke="#ff0000" stroke-width="4.4" stroke-linecap="round" opacity="1.00" filter="url(#bl1)"/>
<path d="M716.8 477.6l-5.0 -5.0M716.8 477.6l-5.0 5.0" stroke="#ff0000" stroke-width="4.4" stroke-linecap="round" opacity="1.00" filter="url(#bl1)"/>
<path d="M68.5 557.9l-5.0 -5.0M68.5 557.9l-5.0 5.0M68.5 557.9l5.0 -5.0M68.5 557.9l5.0 5.0" stroke="#ff0000" stroke-width="4.4" stroke-linecap="round" opacity="1.00" filter="url(#bl1)"/>
<path d="M158.5 557.9l-4.4 -4.4M158.5 557.9l-4.4 4.4M158.5 557.9l4.4 -4.4M158.5 557.9l4.4 4.4" stroke="#ff0000" stroke-width="3.3" stroke-linecap="round" opacity="0.65" filter="url(#bl1)"/>
<path d="M247.3 557.9l-4.4 -4.4M247.3 557.9l-4.4 4.4M247.3 557.9l4.4 -4.4M247.3 557.9l4.4 4.4" stroke="#ff0000" stroke-width="3.3" stroke-linecap="round" opacity="1.00" filter="url(#bl1)"/>
<path d="M331.0 557.9l-4.4 -4.4M331.0 557.9l-4.4 4.4M331.0 557.9l4.4 -4.4M331.0 557.9l4.4 4.4" stroke="#ff0000" stroke-width="3.3" stroke-linecap="round" opacity="1.00" filter="url(#bl1)"/>
<path d="M414.5 557.9l-4.4 -4.4M414.5 557.9l-4.4 4.4M414.5 557.9l4.4 -4.4M414.5 557.9l4.4 4.4" stroke="#ff0000" stroke-width="3.3" stroke-linecap="round" opacity="1.00" filter="url(#bl1)"/>
<path d="M497.3 557.9l-4.4 -4.4M497.3 557.9l-4.4 4.4M497.3 557.9l4.4 -4.4M497.3 557.9l4.4 4.4" stroke="#ff0000" stroke-width="3.3" stroke-linecap="round" opacity="0.85" filter="url(#bl1)"/>
<path d="M648.0 557.9l5.0 -5.0M648.0 557.9l5.0 5.0" stroke="#ff0000" stroke-width="4.4" stroke-linecap="round" opacity="0.85" filter="url(#bl1)"/>
<path d="M716.8 557.9l-5.0 -5.0M716.8 557.9l-5.0 5.0" stroke="#ff0000" stroke-width="4.4" stroke-linecap="round" opacity="1.00" filter="url(#bl1)"/>
<path d="M68.5 628.3l-5.0 5.0M68.5 628.3l5.0 5.0" stroke="#ff0000" stroke-width="4.4" stroke-linecap="round" opacity="1.00" filter="url(#bl1)"/>
<path d="M158.5 628.3l-5.0 5.0M158.5 628.3l5.0 5.0" stroke="#ff0000" stroke-width="4.4" stroke-linecap="round" opacity="0.65" filter="url(#bl1)"/>
<path d="M247.3 628.3l-5.0 5.0M247.3 628.3l5.0 5.0" stroke="#ff0000" stroke-width="4.4" stroke-linecap="round" opacity="1.00" filter="url(#bl1)"/>
<path d="M331.0 628.3l-5.0 5.0M331.0 628.3l5.0 5.0" stroke="#ff0000" stroke-width="4.4" stroke-linecap="round" opacity="1.00" filter="url(#bl1)"/>
<path d="M414.5 628.3l-5.0 5.0M414.5 628.3l5.0 5.0" stroke="#ff0000" stroke-width="4.4" stroke-linecap="round" opacity="1.00" filter="url(#bl1)"/>
<path d="M497.3 628.3l-5.0 5.0M497.3 628.3l5.0 5.0" stroke="#ff0000" stroke-width="4.4" stroke-linecap="round" opacity="1.00" filter="url(#bl1)"/>
<path d="M577.6 628.3l-5.0 5.0M577.6 628.3l5.0 5.0" stroke="#ff0000" stroke-width="4.4" stroke-linecap="round" opacity="0.85" filter="url(#bl1)"/>
<path d="M716.8 628.3l-5.0 5.0" stroke="#ff0000" stroke-width="4.4" stroke-linecap="round" opacity="0.85" filter="url(#bl1)"/>
<path d="M68.5 697.1l-5.0 -5.0M68.5 697.1l5.0 -5.0" stroke="#ff0000" stroke-width="4.4" stroke-linecap="round" opacity="1.00" filter="url(#bl1)"/>
<path d="M158.5 697.1l-5.0 -5.0M158.5 697.1l5.0 -5.0" stroke="#ff0000" stroke-width="4.4" stroke-linecap="round" opacity="0.65" filter="url(#bl1)"/>
<path d="M247.3 697.1l-5.0 -5.0M247.3 697.1l5.0 -5.0" stroke="#ff0000" stroke-width="4.4" stroke-linecap="round" opacity="1.00" filter="url(#bl1)"/>
<path d="M331.0 697.1l-5.0 -5.0M331.0 697.1l5.0 -5.0" stroke="#ff0000" stroke-width="4.4" stroke-linecap="round" opacity="1.00" filter="url(#bl1)"/>
<path d="M414.5 697.1l-5.0 -5.0M414.5 697.1l5.0 -5.0" stroke="#ff0000" stroke-width="4.4" stroke-linecap="round" opacity="1.00" filter="url(#bl1)"/>
<path d="M497.3 697.1l-5.0 -5.0M497.3 697.1l5.0 -5.0" stroke="#ff0000" stroke-width="4.4" stroke-linecap="round" opacity="1.00" filter="url(#bl1)"/>
<path d="M577.6 697.1l-5.0 -5.0M577.6 697.1l5.0 -5.0" stroke="#ff0000" stroke-width="4.4" stroke-linecap="round" opacity="1.00" filter="url(#bl1)"/>
<path d="M648.0 697.1l5.0 -5.0" stroke="#ff0000" stroke-width="4.4" stroke-linecap="round" opacity="0.85" filter="url(#bl1)"/>
<path d="M158.5 138.8l4.4 -4.4M158.5 138.8l-4.4 4.4" stroke="#ff0000" stroke-width="3.6" stroke-linecap="round" opacity="0.8" filter="url(#bl1)"/>
<path d="M247.3 227.6l4.4 -4.4M247.3 227.6l-4.4 4.4" stroke="#ff0000" stroke-width="3.6" stroke-linecap="round" opacity="0.8" filter="url(#bl1)"/>
<path d="M331.0 311.3l4.4 -4.4M331.0 311.3l-4.4 4.4" stroke="#ff0000" stroke-width="3.6" stroke-linecap="round" opacity="0.8" filter="url(#bl1)"/>
<path d="M414.5 394.8l4.4 -4.4M414.5 394.8l-4.4 4.4" stroke="#ff0000" stroke-width="3.6" stroke-linecap="round" opacity="0.8" filter="url(#bl1)"/>
<path d="M497.3 477.6l4.4 -4.4M497.3 477.6l-4.4 4.4" stroke="#ff0000" stroke-width="3.6" stroke-linecap="round" opacity="0.8" filter="url(#bl1)"/>
<path d="M577.6 557.9l4.4 -4.4M577.6 557.9l-4.4 4.4" stroke="#ff0000" stroke-width="3.6" stroke-linecap="round" opacity="0.8" filter="url(#bl1)"/>
<path d="M648.0 628.3l4.4 -4.4" stroke="#ff0000" stroke-width="3.6" stroke-linecap="round" opacity="0.8" filter="url(#bl1)"/>
<path d="M596.2 48.8V700.0M68.5 576.6H720.0" stroke="#ff0000" stroke-width="1" opacity="0.33"/>
<path d="M145.4 577V627.5" stroke="#ff0000" stroke-width="0.9" opacity="0.7"/>
<path d="M256.3 577V627.5" stroke="#ff0000" stroke-width="0.8" opacity="0.35"/>
<path d="M613 512H647" stroke="#ff0000" stroke-width="0.9" opacity="0.45"/>
<path d="M530.6 606V626" stroke="#ff0000" stroke-width="0.9" opacity="0.5"/>
<path d="M596 126.4H647" stroke="#ff0000" stroke-width="1" opacity="0.6"/>
</g>
<rect x="69" y="50.3" width="10.6" height="10.5" fill="#ff0000" opacity="1"/>
<rect x="79.4" y="61" width="4.4" height="4.0" fill="#ff0000" opacity="1"/>
<rect x="84.2" y="65.4" width="2.3" height="2.3" fill="#ff0000" opacity="1"/>
<rect x="86.9" y="68.1" width="3.6" height="3.6" fill="#ff0000" opacity="1"/>
<rect x="92.1" y="73.3" width="10.7" height="10.3" fill="#ff0000" opacity="1"/>
<rect x="104.7" y="86.3" width="7.2" height="7.2" fill="#ff0000" opacity="1"/>
<rect x="112.3" y="93.9" width="26.5" height="26.1" fill="#ff0000" opacity="1"/>
<rect x="140.4" y="122" width="3.5" height="3.2" fill="#ff0000" opacity="1"/>
<rect x="145.5" y="126.7" width="4.8" height="4.8" fill="#ff0000" opacity="1"/>
<rect x="151" y="132" width="6.8" height="7.0" fill="#ff0000" opacity="1"/>
<rect x="159.3" y="140.6" width="5.0" height="5.0" fill="#ff0000" opacity="1"/>
<rect x="165.3" y="146.1" width="2.4" height="2.4" fill="#ff0000" opacity="1"/>
<rect x="168.5" y="149.5" width="2.3" height="2.3" fill="#ff0000" opacity="1"/>
<rect x="172.4" y="153.5" width="6.3" height="6.4" fill="#ff0000" opacity="1"/>
<rect x="179.4" y="160.4" width="4.4" height="4.1" fill="#ff0000" opacity="1"/>
<rect x="183.8" y="164.9" width="28.8" height="28.5" fill="#ff0000" opacity="1"/>
<rect x="212.6" y="194.2" width="19.8" height="19.3" fill="#ff0000" opacity="1"/>
<rect x="232.7" y="214.3" width="4.2" height="4.2" fill="#ff0000" opacity="1"/>
<rect x="239.4" y="220.2" width="6.7" height="6.7" fill="#ff0000" opacity="1"/>
<rect x="248.3" y="228.6" width="8.3" height="8.8" fill="#ff0000" opacity="0.8"/>
<rect x="256.6" y="237.4" width="4.6" height="4.6" fill="#ff0000" opacity="1"/>
<rect x="262" y="242.7" width="2.7" height="2.6" fill="#ff0000" opacity="1"/>
<rect x="265.3" y="246.2" width="37.0" height="37.2" fill="#ff0000" opacity="1"/>
<rect x="303" y="284" width="2.0" height="2.0" fill="#ff0000" opacity="1"/>
<rect x="305.4" y="286.2" width="13.7" height="14.0" fill="#ff0000" opacity="1"/>
<rect x="319.9" y="301" width="10.1" height="9.5" fill="#ff0000" opacity="1"/>
<rect x="331.7" y="312.8" width="10.7" height="9.9" fill="#ff0000" opacity="1"/>
<rect x="343.5" y="324.2" width="7.5" height="7.6" fill="#ff0000" opacity="1"/>
<rect x="351.4" y="332" width="6.2" height="6.4" fill="#ff0000" opacity="1"/>
<rect x="359" y="340" width="14.0" height="14.4" fill="#ff0000" opacity="1"/>
<rect x="373" y="354.4" width="32.4" height="32.0" fill="#ff0000" opacity="1"/>
<rect x="406.2" y="387" width="7.0" height="7.0" fill="#ff0000" opacity="1"/>
<rect x="415.2" y="396" width="9.2" height="9.1" fill="#ff0000" opacity="1"/>
<rect x="425.9" y="407" width="3.3" height="3.2" fill="#ff0000" opacity="1"/>
<rect x="430.5" y="411" width="2.3" height="2.3" fill="#ff0000" opacity="1"/>
<rect x="435.3" y="416.2" width="3.1" height="3.1" fill="#ff0000" opacity="1"/>
<rect x="439.3" y="420" width="24.4" height="24.4" fill="#ff0000" opacity="1"/>
<rect x="464.4" y="445.2" width="14.8" height="14.5" fill="#ff0000" opacity="1"/>
<rect x="479.7" y="460.7" width="2.5" height="2.3" fill="#ff0000" opacity="1"/>
<rect x="484" y="464.5" width="3.0" height="3.0" fill="#ff0000" opacity="1"/>
<rect x="488" y="468" width="1.5" height="1.8" fill="#ff0000" opacity="1"/>
<rect x="489.9" y="470.3" width="6.8" height="6.7" fill="#ff0000" opacity="1"/>
<rect x="497.8" y="478.7" width="4.5" height="4.6" fill="#ff0000" opacity="1"/>
<rect x="504.3" y="485" width="9.9" height="9.5" fill="#ff0000" opacity="1"/>
<rect x="514.2" y="495.3" width="22.9" height="22.5" fill="#ff0000" opacity="1"/>
<rect x="537.5" y="518.3" width="18.6" height="18.3" fill="#ff0000" opacity="1"/>
<rect x="556.1" y="536.8" width="2.4" height="2.7" fill="#ff0000" opacity="1"/>
<rect x="559.2" y="540.2" width="17.9" height="17.7" fill="#ff0000" opacity="1"/>
<rect x="578.5" y="559.2" width="15.5" height="15.1" fill="#ff0000" opacity="0.8"/>
<rect x="594.3" y="575" width="4.5" height="4.5" fill="#ff0000" opacity="1"/>
<rect x="598.8" y="579.5" width="12.6" height="12.6" fill="#ff0000" opacity="1"/>
<rect x="612.5" y="593.2" width="4.4" height="4.4" fill="#ff0000" opacity="1"/>
<rect x="617.6" y="598.5" width="13.0" height="12.5" fill="#ff0000" opacity="1"/>
<rect x="631.3" y="611.5" width="3.2" height="3.0" fill="#ff0000" opacity="1"/>
<rect x="635.1" y="615.4" width="11.5" height="11.9" fill="#ff0000" opacity="1"/>
<polygon points="649,629 680,629 680,660.4 666,660.4 649,646" fill="#ff0000" filter="url(#bl1)"/>
<rect x="679.7" y="660.4" width="5.1" height="5.0" fill="#ff0000" opacity="1"/>
<rect x="686.1" y="666.8" width="6.6" height="6.5" fill="#ff0000" opacity="1"/>
<rect x="692.7" y="673.3" width="6.9" height="6.5" fill="#ff0000" opacity="1"/>
<rect x="700" y="680.3" width="2.6" height="2.7" fill="#ff0000" opacity="1"/>
<rect x="702.8" y="683.2" width="2.8" height="2.8" fill="#ff0000" opacity="1"/>
<rect x="706.4" y="687" width="6.5" height="5.9" fill="#ff0000" opacity="1"/>
<rect x="713.5" y="693.5" width="3.0" height="3.0" fill="#ff0000" opacity="1"/>
<rect x="69" y="50.3" width="10.6" height="10.5" fill="none" stroke="#38ee38" stroke-width="1.3"/>
<rect x="79.4" y="61" width="4.4" height="4.0" fill="none" stroke="#38ee38" stroke-width="1.3"/>
<rect x="84.2" y="65.4" width="2.3" height="2.3" fill="none" stroke="#38ee38" stroke-width="1.3"/>
<rect x="86.9" y="68.1" width="3.6" height="3.6" fill="none" stroke="#38ee38" stroke-width="1.3"/>
<rect x="92.1" y="73.3" width="10.7" height="10.3" fill="none" stroke="#38ee38" stroke-width="1.3"/>
<rect x="104.7" y="86.3" width="7.2" height="7.2" fill="none" stroke="#38ee38" stroke-width="1.3"/>
<rect x="112.3" y="93.9" width="26.5" height="26.1" fill="none" stroke="#38ee38" stroke-width="1.3"/>
<rect x="140.4" y="122" width="3.5" height="3.2" fill="none" stroke="#38ee38" stroke-width="1.3"/>
<rect x="145.5" y="126.7" width="4.8" height="4.8" fill="none" stroke="#38ee38" stroke-width="1.3"/>
<rect x="151" y="132" width="6.8" height="7.0" fill="none" stroke="#38ee38" stroke-width="1.3"/>
<rect x="159.3" y="140.6" width="5.0" height="5.0" fill="none" stroke="#38ee38" stroke-width="1.3"/>
<rect x="165.3" y="146.1" width="2.4" height="2.4" fill="none" stroke="#38ee38" stroke-width="1.3"/>
<rect x="168.5" y="149.5" width="2.3" height="2.3" fill="none" stroke="#38ee38" stroke-width="1.3"/>
<rect x="172.4" y="153.5" width="6.3" height="6.4" fill="none" stroke="#38ee38" stroke-width="1.3"/>
<rect x="179.4" y="160.4" width="4.4" height="4.1" fill="none" stroke="#38ee38" stroke-width="1.3"/>
<rect x="183.8" y="164.9" width="28.8" height="28.5" fill="none" stroke="#38ee38" stroke-width="1.3"/>
<rect x="212.6" y="194.2" width="19.8" height="19.3" fill="none" stroke="#38ee38" stroke-width="1.3"/>
<rect x="232.7" y="214.3" width="4.2" height="4.2" fill="none" stroke="#38ee38" stroke-width="1.3"/>
<rect x="239.4" y="220.2" width="6.7" height="6.7" fill="none" stroke="#38ee38" stroke-width="1.3"/>
<rect x="248.3" y="228.6" width="8.3" height="8.8" fill="none" stroke="#38ee38" stroke-width="1.3"/>
<rect x="256.6" y="237.4" width="4.6" height="4.6" fill="none" stroke="#38ee38" stroke-width="1.3"/>
<rect x="262" y="242.7" width="2.7" height="2.6" fill="none" stroke="#38ee38" stroke-width="1.3"/>
<rect x="265.3" y="246.2" width="37.0" height="37.2" fill="none" stroke="#38ee38" stroke-width="1.3"/>
<rect x="303" y="284" width="2.0" height="2.0" fill="none" stroke="#38ee38" stroke-width="1.3"/>
<rect x="305.4" y="286.2" width="13.7" height="14.0" fill="none" stroke="#38ee38" stroke-width="1.3"/>
<rect x="319.9" y="301" width="10.1" height="9.5" fill="none" stroke="#38ee38" stroke-width="1.3"/>
<rect x="331.7" y="312.8" width="10.7" height="9.9" fill="none" stroke="#38ee38" stroke-width="1.3"/>
<rect x="343.5" y="324.2" width="7.5" height="7.6" fill="none" stroke="#38ee38" stroke-width="1.3"/>
<rect x="351.4" y="332" width="6.2" height="6.4" fill="none" stroke="#38ee38" stroke-width="1.3"/>
<rect x="359" y="340" width="14.0" height="14.4" fill="none" stroke="#38ee38" stroke-width="1.3"/>
<rect x="373" y="354.4" width="32.4" height="32.0" fill="none" stroke="#38ee38" stroke-width="1.3"/>
<rect x="406.2" y="387" width="7.0" height="7.0" fill="none" stroke="#38ee38" stroke-width="1.3"/>
<rect x="415.2" y="396" width="9.2" height="9.1" fill="none" stroke="#38ee38" stroke-width="1.3"/>
<rect x="425.9" y="407" width="3.3" height="3.2" fill="none" stroke="#38ee38" stroke-width="1.3"/>
<rect x="430.5" y="411" width="2.3" height="2.3" fill="none" stroke="#38ee38" stroke-width="1.3"/>
<rect x="435.3" y="416.2" width="3.1" height="3.1" fill="none" stroke="#38ee38" stroke-width="1.3"/>
<rect x="439.3" y="420" width="24.4" height="24.4" fill="none" stroke="#38ee38" stroke-width="1.3"/>
<rect x="464.4" y="445.2" width="14.8" height="14.5" fill="none" stroke="#38ee38" stroke-width="1.3"/>
<rect x="479.7" y="460.7" width="2.5" height="2.3" fill="none" stroke="#38ee38" stroke-width="1.3"/>
<rect x="484" y="464.5" width="3.0" height="3.0" fill="none" stroke="#38ee38" stroke-width="1.3"/>
<rect x="488" y="468" width="1.5" height="1.8" fill="none" stroke="#38ee38" stroke-width="1.3"/>
<rect x="489.9" y="470.3" width="6.8" height="6.7" fill="none" stroke="#38ee38" stroke-width="1.3"/>
<rect x="497.8" y="478.7" width="4.5" height="4.6" fill="none" stroke="#38ee38" stroke-width="1.3"/>
<rect x="504.3" y="485" width="9.9" height="9.5" fill="none" stroke="#38ee38" stroke-width="1.3"/>
<rect x="514.2" y="495.3" width="22.9" height="22.5" fill="none" stroke="#38ee38" stroke-width="1.3"/>
<rect x="537.5" y="518.3" width="18.6" height="18.3" fill="none" stroke="#38ee38" stroke-width="1.3"/>
<rect x="556.1" y="536.8" width="2.4" height="2.7" fill="none" stroke="#38ee38" stroke-width="1.3"/>
<rect x="559.2" y="540.2" width="17.9" height="17.7" fill="none" stroke="#38ee38" stroke-width="1.3"/>
<rect x="578.5" y="559.2" width="15.5" height="15.1" fill="none" stroke="#38ee38" stroke-width="1.3"/>
<rect x="594.3" y="575" width="4.5" height="4.5" fill="none" stroke="#38ee38" stroke-width="1.3"/>
<rect x="598.8" y="579.5" width="12.6" height="12.6" fill="none" stroke="#38ee38" stroke-width="1.3"/>
<rect x="612.5" y="593.2" width="4.4" height="4.4" fill="none" stroke="#38ee38" stroke-width="1.3"/>
<rect x="617.6" y="598.5" width="13.0" height="12.5" fill="none" stroke="#38ee38" stroke-width="1.3"/>
<rect x="631.3" y="611.5" width="3.2" height="3.0" fill="none" stroke="#38ee38" stroke-width="1.3"/>
<rect x="635.1" y="615.4" width="11.5" height="11.9" fill="none" stroke="#38ee38" stroke-width="1.3"/>
<rect x="649" y="629" width="30.7" height="31.4" fill="none" stroke="#38ee38" stroke-width="1.3"/>
<rect x="679.7" y="660.4" width="5.1" height="5.0" fill="none" stroke="#38ee38" stroke-width="1.3"/>
<rect x="686.1" y="666.8" width="6.6" height="6.5" fill="none" stroke="#38ee38" stroke-width="1.3"/>
<rect x="692.7" y="673.3" width="6.9" height="6.5" fill="none" stroke="#38ee38" stroke-width="1.3"/>
<rect x="700" y="680.3" width="2.6" height="2.7" fill="none" stroke="#38ee38" stroke-width="1.3"/>
<rect x="702.8" y="683.2" width="2.8" height="2.8" fill="none" stroke="#38ee38" stroke-width="1.3"/>
<rect x="706.4" y="687" width="6.5" height="5.9" fill="none" stroke="#38ee38" stroke-width="1.3"/>
<rect x="713.5" y="693.5" width="3.0" height="3.0" fill="none" stroke="#38ee38" stroke-width="1.3"/>
<rect x="68.5" y="48.8" width="90.0" height="90.0" fill="none" stroke="#2222ff" stroke-width="1.35"/>
<rect x="158.5" y="138.8" width="88.8" height="88.8" fill="none" stroke="#2222ff" stroke-width="1.35"/>
<rect x="247.3" y="227.60000000000002" width="83.7" height="83.7" fill="none" stroke="#2222ff" stroke-width="1.35"/>
<rect x="331.0" y="311.3" width="83.5" height="83.5" fill="none" stroke="#2222ff" stroke-width="1.35"/>
<rect x="414.5" y="394.8" width="82.8" height="82.8" fill="none" stroke="#2222ff" stroke-width="1.35"/>
<rect x="497.3" y="477.6" width="80.3" height="80.3" fill="none" stroke="#2222ff" stroke-width="1.35"/>
<rect x="577.6" y="557.9" width="70.4" height="70.4" fill="none" stroke="#2222ff" stroke-width="1.35"/>
<rect x="648.0" y="628.3" width="68.8" height="68.8" fill="none" stroke="#2222ff" stroke-width="1.35"/>
<path d="M68.5 49.5V138.5" stroke="#a8a8ff" stroke-width="1.6"/>
<path d="M68.30 42.5V47.7" stroke="#5a5af0" stroke-width="1.2"/>
<path d="M126.38 42.5V47.7" stroke="#5a5af0" stroke-width="1.2"/>
<path d="M184.46 42.5V47.7" stroke="#5a5af0" stroke-width="1.2"/>
<path d="M242.54 42.5V47.7" stroke="#5a5af0" stroke-width="1.2"/>
<path d="M300.62 42.5V47.7" stroke="#5a5af0" stroke-width="1.2"/>
<path d="M358.70 42.5V47.7" stroke="#5a5af0" stroke-width="1.2"/>
<path d="M416.78 42.5V47.7" stroke="#5a5af0" stroke-width="1.2"/>
<path d="M474.86 42.5V47.7" stroke="#5a5af0" stroke-width="1.2"/>
<path d="M532.94 42.5V47.7" stroke="#5a5af0" stroke-width="1.2"/>
<path d="M591.02 42.5V47.7" stroke="#5a5af0" stroke-width="1.2"/>
<path d="M649.10 42.5V47.7" stroke="#5a5af0" stroke-width="1.2"/>
<path d="M707.18 42.5V47.7" stroke="#5a5af0" stroke-width="1.2"/>
<path d="M61.8 48.60H67.6" stroke="#3a9a3a" stroke-width="1.2"/>
<path d="M61.8 106.85H67.6" stroke="#3a9a3a" stroke-width="1.2"/>
<path d="M61.8 165.10H67.6" stroke="#3a9a3a" stroke-width="1.2"/>
<path d="M61.8 223.35H67.6" stroke="#3a9a3a" stroke-width="1.2"/>
<path d="M61.8 281.60H67.6" stroke="#3a9a3a" stroke-width="1.2"/>
<path d="M61.8 339.85H67.6" stroke="#3a9a3a" stroke-width="1.2"/>
<path d="M61.8 398.10H67.6" stroke="#3a9a3a" stroke-width="1.2"/>
<path d="M61.8 456.35H67.6" stroke="#3a9a3a" stroke-width="1.2"/>
<path d="M61.8 514.60H67.6" stroke="#3a9a3a" stroke-width="1.2"/>
<path d="M61.8 572.85H67.6" stroke="#3a9a3a" stroke-width="1.2"/>
<path d="M61.8 631.10H67.6" stroke="#3a9a3a" stroke-width="1.2"/>
<path d="M61.8 689.35H67.6" stroke="#3a9a3a" stroke-width="1.2"/>
</g>
<text x="0.00" y="29.50" font-size="40" fill="#000" text-anchor="start" font-weight="bold" textLength="20.6" lengthAdjust="spacingAndGlyphs">a</text>
<text x="67.50" y="34.25" font-size="18" fill="#4f4ff2" text-anchor="start" font-weight="normal" textLength="41.2" lengthAdjust="spacingAndGlyphs" stroke="#fff" stroke-width="0.3">0 MB</text>
<text x="155.00" y="34.25" font-size="18" fill="#4f4ff2" text-anchor="start" font-weight="normal" textLength="60.0" lengthAdjust="spacingAndGlyphs" stroke="#fff" stroke-width="0.3">100 MB</text>
<text x="267.50" y="34.25" font-size="18" fill="#4f4ff2" text-anchor="start" font-weight="normal" textLength="63.2" lengthAdjust="spacingAndGlyphs" stroke="#fff" stroke-width="0.3">200 MB</text>
<text x="380.75" y="34.25" font-size="18" fill="#4f4ff2" text-anchor="start" font-weight="normal" textLength="63.8" lengthAdjust="spacingAndGlyphs" stroke="#fff" stroke-width="0.3">300 MB</text>
<text x="500.00" y="34.25" font-size="18" fill="#4f4ff2" text-anchor="start" font-weight="normal" textLength="64.2" lengthAdjust="spacingAndGlyphs" stroke="#fff" stroke-width="0.3">400 MB</text>
<text x="614.25" y="34.25" font-size="18" fill="#4f4ff2" text-anchor="start" font-weight="normal" textLength="63.8" lengthAdjust="spacingAndGlyphs" stroke="#fff" stroke-width="0.3">500 MB</text>
<text transform="translate(50.9 68.90) rotate(-90)" font-size="18" fill="#2a8f2a" stroke="#fff" stroke-width="0.25" textLength="40.7" lengthAdjust="spacingAndGlyphs">0 MB</text>
<text transform="translate(50.9 193.90) rotate(-90)" font-size="18" fill="#2a8f2a" stroke="#fff" stroke-width="0.25" textLength="59.8" lengthAdjust="spacingAndGlyphs">100 MB</text>
<text transform="translate(50.9 312.20) rotate(-90)" font-size="18" fill="#2a8f2a" stroke="#fff" stroke-width="0.25" textLength="62.2" lengthAdjust="spacingAndGlyphs">200 MB</text>
<text transform="translate(50.9 429.50) rotate(-90)" font-size="18" fill="#2a8f2a" stroke="#fff" stroke-width="0.25" textLength="62.5" lengthAdjust="spacingAndGlyphs">300 MB</text>
<text transform="translate(50.9 546.00) rotate(-90)" font-size="18" fill="#2a8f2a" stroke="#fff" stroke-width="0.25" textLength="62.0" lengthAdjust="spacingAndGlyphs">400 MB</text>
<text transform="translate(50.9 663.00) rotate(-90)" font-size="18" fill="#2a8f2a" stroke="#fff" stroke-width="0.25" textLength="62.5" lengthAdjust="spacingAndGlyphs">500 MB</text>
<text x="106.88" y="732.00" font-size="27.5" fill="#000" text-anchor="middle" font-weight="normal" stroke="#fff" stroke-width="0.5">1</text>
<text x="189.12" y="732.00" font-size="27.5" fill="#000" text-anchor="middle" font-weight="normal" stroke="#fff" stroke-width="0.5">2</text>
<text x="271.25" y="732.00" font-size="27.5" fill="#000" text-anchor="middle" font-weight="normal" stroke="#fff" stroke-width="0.5">3</text>
<text x="353.75" y="732.00" font-size="27.5" fill="#000" text-anchor="middle" font-weight="normal" stroke="#fff" stroke-width="0.5">4</text>
<text x="435.88" y="732.00" font-size="27.5" fill="#000" text-anchor="middle" font-weight="normal" stroke="#fff" stroke-width="0.5">5</text>
<text x="518.50" y="730.00" font-size="27.5" fill="#000" text-anchor="middle" font-weight="normal" stroke="#fff" stroke-width="0.5">6</text>
<text x="600.88" y="733.50" font-size="27.5" fill="#000" text-anchor="middle" font-weight="normal" stroke="#fff" stroke-width="0.5">7</text>
<text x="683.12" y="732.00" font-size="27.5" fill="#000" text-anchor="middle" font-weight="normal" stroke="#fff" stroke-width="0.5">8</text>
<g id="panel-b">
<rect x="866.3" y="134.4" width="369.0" height="54.1" fill="#9787f0"/>
<rect x="866.3" y="243.2" width="13.4" height="54.5" fill="#acacac"/>
<path d="M848.5 96.9V336.1H1253" fill="none" stroke="#222" stroke-width="1.3"/>
<path d="M838.5 161.25H848.5" stroke="#222" stroke-width="1.3"/>
<path d="M838.5 270.6H848.5" stroke="#222" stroke-width="1.3"/>
<path d="M866.3 336.1V345.6" stroke="#222" stroke-width="1.3"/>
<text x="866.30" y="374.90" font-size="23" fill="#000" text-anchor="middle" font-weight="normal" textLength="13.0" lengthAdjust="spacingAndGlyphs" stroke="#fff" stroke-width="0.4">0</text>
<path d="M969.6 336.1V345.6" stroke="#222" stroke-width="1.3"/>
<text x="969.60" y="374.90" font-size="23" fill="#000" text-anchor="middle" font-weight="normal" textLength="26.5" lengthAdjust="spacingAndGlyphs" stroke="#fff" stroke-width="0.4">20</text>
<path d="M1072.6 336.1V345.6" stroke="#222" stroke-width="1.3"/>
<text x="1072.60" y="374.90" font-size="23" fill="#000" text-anchor="middle" font-weight="normal" textLength="27.0" lengthAdjust="spacingAndGlyphs" stroke="#fff" stroke-width="0.4">40</text>
<path d="M1175.9 336.1V345.6" stroke="#222" stroke-width="1.3"/>
<text x="1175.90" y="374.90" font-size="23" fill="#000" text-anchor="middle" font-weight="normal" textLength="28.3" lengthAdjust="spacingAndGlyphs" stroke="#fff" stroke-width="0.4">60</text>
<rect x="1368" y="134.6" width="7.7" height="54.3" fill="#9787f0"/>
<rect x="1368" y="244.3" width="369.0" height="54.2" fill="#acacac"/>
<path d="M1350.7 96.9V336.1H1754.4" fill="none" stroke="#222" stroke-width="1.3"/>
<path d="M1340.7 161.25H1350.7" stroke="#222" stroke-width="1.3"/>
<path d="M1340.7 270.6H1350.7" stroke="#222" stroke-width="1.3"/>
<path d="M1368.4 336.1V345.6" stroke="#222" stroke-width="1.3"/>
<text x="1368.40" y="374.90" font-size="23" fill="#000" text-anchor="middle" font-weight="normal" textLength="13.0" lengthAdjust="spacingAndGlyphs" stroke="#fff" stroke-width="0.4">0</text>
<path d="M1485.7 336.1V345.6" stroke="#222" stroke-width="1.3"/>
<text x="1485.70" y="374.90" font-size="23" fill="#000" text-anchor="middle" font-weight="normal" textLength="62.5" lengthAdjust="spacingAndGlyphs" stroke="#fff" stroke-width="0.4">5,000</text>
<path d="M1603 336.1V345.6" stroke="#222" stroke-width="1.3"/>
<text x="1603.00" y="374.90" font-size="23" fill="#000" text-anchor="middle" font-weight="normal" textLength="74.5" lengthAdjust="spacingAndGlyphs" stroke="#fff" stroke-width="0.4">10,000</text>
<path d="M1720.2 336.1V345.6" stroke="#222" stroke-width="1.3"/>
<text x="1720.20" y="374.90" font-size="23" fill="#000" text-anchor="middle" font-weight="normal" textLength="71.6" lengthAdjust="spacingAndGlyphs" stroke="#fff" stroke-width="0.4">15,000</text>
<rect x="866.3" y="487.5" width="32.6" height="54.2" fill="#9787f0"/>
<rect x="866.3" y="597.2" width="368.4" height="54.2" fill="#acacac"/>
<path d="M848.3 450.9V689.5H1252.3" fill="none" stroke="#222" stroke-width="1.3"/>
<path d="M838.3 514.9H848.3" stroke="#222" stroke-width="1.3"/>
<path d="M838.3 624H848.3" stroke="#222" stroke-width="1.3"/>
<path d="M866.3 689.5V699.0" stroke="#222" stroke-width="1.3"/>
<text x="866.30" y="728.30" font-size="23" fill="#000" text-anchor="middle" font-weight="normal" textLength="13.0" lengthAdjust="spacingAndGlyphs" stroke="#fff" stroke-width="0.4">0</text>
<path d="M954.3 689.5V699.0" stroke="#222" stroke-width="1.3"/>
<text x="954.30" y="728.30" font-size="23" fill="#000" text-anchor="middle" font-weight="normal" textLength="42.7" lengthAdjust="spacingAndGlyphs" stroke="#fff" stroke-width="0.4">500</text>
<path d="M1042.1 689.5V699.0" stroke="#222" stroke-width="1.3"/>
<text x="1042.10" y="728.30" font-size="23" fill="#000" text-anchor="middle" font-weight="normal" textLength="60.0" lengthAdjust="spacingAndGlyphs" stroke="#fff" stroke-width="0.4">1,000</text>
<path d="M1130.5 689.5V699.0" stroke="#222" stroke-width="1.3"/>
<text x="1130.50" y="728.30" font-size="23" fill="#000" text-anchor="middle" font-weight="normal" textLength="58.5" lengthAdjust="spacingAndGlyphs" stroke="#fff" stroke-width="0.4">1,500</text>
<path d="M1218.2 689.5V699.0" stroke="#222" stroke-width="1.3"/>
<text x="1218.20" y="728.30" font-size="23" fill="#000" text-anchor="middle" font-weight="normal" textLength="63.4" lengthAdjust="spacingAndGlyphs" stroke="#fff" stroke-width="0.4">2,000</text>
<rect x="1368" y="487.5" width="369.0" height="54.2" fill="#9787f0"/>
<rect x="1368" y="597.1" width="348.9" height="54.3" fill="#acacac"/>
<path d="M1350.7 450.3V689.4H1754.4" fill="none" stroke="#222" stroke-width="1.3"/>
<path d="M1340.7 514.9H1350.7" stroke="#222" stroke-width="1.3"/>
<path d="M1340.7 624H1350.7" stroke="#222" stroke-width="1.3"/>
<path d="M1368.4 689.4V698.9" stroke="#222" stroke-width="1.3"/>
<text x="1368.40" y="728.20" font-size="23" fill="#000" text-anchor="middle" font-weight="normal" textLength="13.0" lengthAdjust="spacingAndGlyphs" stroke="#fff" stroke-width="0.4">0</text>
<path d="M1497 689.4V698.9" stroke="#222" stroke-width="1.3"/>
<text x="1497.00" y="728.20" font-size="23" fill="#000" text-anchor="middle" font-weight="normal" textLength="43.3" lengthAdjust="spacingAndGlyphs" stroke="#fff" stroke-width="0.4">200</text>
<path d="M1625.5 689.4V698.9" stroke="#222" stroke-width="1.3"/>
<text x="1625.50" y="728.20" font-size="23" fill="#000" text-anchor="middle" font-weight="normal" textLength="43.5" lengthAdjust="spacingAndGlyphs" stroke="#fff" stroke-width="0.4">400</text>
<path d="M1754.4 689.4V698.9" stroke="#222" stroke-width="1.3"/>
<text x="1754.40" y="728.20" font-size="23" fill="#000" text-anchor="middle" font-weight="normal" textLength="44.0" lengthAdjust="spacingAndGlyphs" stroke="#fff" stroke-width="0.4">600</text>
</g>
<text x="791.50" y="29.80" font-size="40" fill="#000" text-anchor="start" font-weight="bold" textLength="27.2" lengthAdjust="spacingAndGlyphs">b</text>
<text x="926.90" y="77.50" font-size="27.5" fill="#000" text-anchor="start" font-weight="normal" textLength="247.7" lengthAdjust="spacingAndGlyphs" stroke="#fff" stroke-width="0.5">N50 scaffold length</text>
<text x="1451.90" y="77.50" font-size="27.5" fill="#000" text-anchor="start" font-weight="normal" textLength="202.5" lengthAdjust="spacingAndGlyphs" stroke="#fff" stroke-width="0.5">Number of gaps</text>
<text x="923.00" y="432.50" font-size="27.5" fill="#000" text-anchor="start" font-weight="normal" textLength="254.7" lengthAdjust="spacingAndGlyphs" stroke="#fff" stroke-width="0.5">Number of scaffolds</text>
<text x="1414.70" y="432.50" font-size="27.5" fill="#000" text-anchor="start" font-weight="normal" textLength="275.7" lengthAdjust="spacingAndGlyphs" stroke="#fff" stroke-width="0.5">Total assembly length</text>
<text x="797.50" y="171.50" font-size="27.5" fill="#000" text-anchor="start" font-weight="normal" textLength="28.1" lengthAdjust="spacingAndGlyphs" stroke="#fff" stroke-width="0.5">v3</text>
<text x="797.50" y="280.80" font-size="27.5" fill="#000" text-anchor="start" font-weight="normal" textLength="28.1" lengthAdjust="spacingAndGlyphs" stroke="#fff" stroke-width="0.5">v2</text>
<text x="1300.50" y="171.50" font-size="27.5" fill="#000" text-anchor="start" font-weight="normal" textLength="28.9" lengthAdjust="spacingAndGlyphs" stroke="#fff" stroke-width="0.5">v3</text>
<text x="1300.50" y="280.80" font-size="27.5" fill="#000" text-anchor="start" font-weight="normal" textLength="28.9" lengthAdjust="spacingAndGlyphs" stroke="#fff" stroke-width="0.5">v2</text>
<text x="797.50" y="525.00" font-size="27.5" fill="#000" text-anchor="start" font-weight="normal" textLength="28.1" lengthAdjust="spacingAndGlyphs" stroke="#fff" stroke-width="0.5">v3</text>
<text x="797.50" y="634.20" font-size="27.5" fill="#000" text-anchor="start" font-weight="normal" textLength="28.1" lengthAdjust="spacingAndGlyphs" stroke="#fff" stroke-width="0.5">v2</text>
<text x="1300.50" y="525.00" font-size="27.5" fill="#000" text-anchor="start" font-weight="normal" textLength="28.9" lengthAdjust="spacingAndGlyphs" stroke="#fff" stroke-width="0.5">v3</text>
<text x="1300.50" y="634.20" font-size="27.5" fill="#000" text-anchor="start" font-weight="normal" textLength="28.9" lengthAdjust="spacingAndGlyphs" stroke="#fff" stroke-width="0.5">v2</text>
<text x="887.75" y="171.50" font-size="27.5" fill="#000" text-anchor="start" font-weight="normal" textLength="92.2" lengthAdjust="spacingAndGlyphs" stroke="#9787f0" stroke-width="0.5">71.2 Mb</text>
<text x="885.80" y="280.80" font-size="27.5" fill="#000" text-anchor="start" font-weight="normal" textLength="100.5" lengthAdjust="spacingAndGlyphs" stroke="#fff" stroke-width="0.5">2.58 Mb</text>
<text x="1382.70" y="171.50" font-size="27.5" fill="#000" text-anchor="start" font-weight="normal" textLength="96.0" lengthAdjust="spacingAndGlyphs" stroke="#fff" stroke-width="0.5">185/310</text>
<text x="1386.70" y="280.80" font-size="27.5" fill="#000" text-anchor="start" font-weight="normal" textLength="79.8" lengthAdjust="spacingAndGlyphs" stroke="#acacac" stroke-width="0.5">15,664</text>
<text x="879.1" y="525.0" font-size="27.5" fill="#000" textLength="67.6" lengthAdjust="spacingAndGlyphs" stroke-width="0.5"><tspan stroke="#9787f0">8</tspan><tspan stroke="#fff">/188</tspan></text>
<text x="879.70" y="634.20" font-size="27.5" fill="#000" text-anchor="start" font-weight="normal" textLength="73.1" lengthAdjust="spacingAndGlyphs" stroke="#acacac" stroke-width="0.5">2,090</text>
<text x="1386.70" y="525.00" font-size="27.5" fill="#000" text-anchor="start" font-weight="normal" textLength="90.3" lengthAdjust="spacingAndGlyphs" stroke="#9787f0" stroke-width="0.5">572 Mb</text>
<text x="1386.70" y="634.20" font-size="27.5" fill="#000" text-anchor="start" font-weight="normal" textLength="88.5" lengthAdjust="spacingAndGlyphs" stroke="#acacac" stroke-width="0.5">541 Mb</text>
<text x="1190.50" y="774.60" font-size="27.5" fill="#000" text-anchor="start" font-weight="normal" textLength="219.6" lengthAdjust="spacingAndGlyphs" stroke="#fff" stroke-width="0.5">Assembly version</text>
<g id="panel-c">
<rect x="227.07" y="928.68" width="1.63" height="79.21" fill="#c23b75"/>
<rect x="228.55" y="927.46" width="1.63" height="80.43" fill="#c53c74"/>
<rect x="230.03" y="895.17" width="1.63" height="112.72" fill="#f9785d"/>
<rect x="231.51" y="871.40" width="1.63" height="136.49" fill="#feb97f"/>
<rect x="232.99" y="890.90" width="1.63" height="116.99" fill="#fb8560"/>
<rect x="234.47" y="909.18" width="1.63" height="98.71" fill="#ea5661"/>
<rect x="235.95" y="931.73" width="1.63" height="76.16" fill="#ba3878"/>
<rect x="237.43" y="931.73" width="1.63" height="76.16" fill="#ba3878"/>
<rect x="238.91" y="959.75" width="1.63" height="48.14" fill="#792282"/>
<rect x="240.39" y="960.97" width="1.63" height="46.92" fill="#762181"/>
<rect x="241.87" y="960.97" width="1.63" height="46.92" fill="#762181"/>
<rect x="243.35" y="962.80" width="1.63" height="45.09" fill="#721f81"/>
<rect x="244.83" y="970.11" width="1.63" height="37.78" fill="#621980"/>
<rect x="246.30" y="971.33" width="1.63" height="36.56" fill="#5f187f"/>
<rect x="247.78" y="975.60" width="1.63" height="32.29" fill="#56147d"/>
<rect x="249.26" y="975.60" width="1.63" height="32.29" fill="#56147d"/>
<rect x="250.74" y="973.77" width="1.63" height="34.12" fill="#59157e"/>
<rect x="252.22" y="973.77" width="1.63" height="34.12" fill="#59157e"/>
<rect x="253.70" y="963.41" width="1.63" height="44.48" fill="#701f81"/>
<rect x="255.18" y="978.03" width="1.63" height="29.86" fill="#4f127b"/>
<rect x="256.66" y="996.92" width="1.63" height="10.97" fill="#221150"/>
<rect x="258.14" y="999.36" width="1.63" height="8.53" fill="#1d1147"/>
<rect x="259.62" y="998.75" width="1.63" height="9.14" fill="#1e1149"/>
<rect x="261.10" y="979.25" width="1.63" height="28.64" fill="#4c117a"/>
<rect x="262.58" y="982.30" width="1.63" height="25.59" fill="#451077"/>
<rect x="264.06" y="981.08" width="1.63" height="26.81" fill="#491078"/>
<rect x="265.54" y="968.29" width="1.63" height="39.61" fill="#651a80"/>
<rect x="267.02" y="973.77" width="1.63" height="34.12" fill="#59157e"/>
<rect x="268.50" y="975.60" width="1.63" height="32.29" fill="#56147d"/>
<rect x="269.98" y="982.91" width="1.63" height="24.98" fill="#440f76"/>
<rect x="271.46" y="994.49" width="1.63" height="13.40" fill="#271258"/>
<rect x="272.94" y="978.03" width="1.63" height="29.86" fill="#4f127b"/>
<rect x="274.42" y="987.78" width="1.63" height="20.11" fill="#38106c"/>
<rect x="275.90" y="979.86" width="1.63" height="28.03" fill="#4c117a"/>
<rect x="277.38" y="981.69" width="1.63" height="26.20" fill="#471078"/>
<rect x="278.86" y="981.69" width="1.63" height="26.20" fill="#471078"/>
<rect x="280.34" y="990.22" width="1.63" height="17.67" fill="#331067"/>
<rect x="281.82" y="995.09" width="1.63" height="12.80" fill="#271258"/>
<rect x="283.30" y="995.09" width="1.63" height="12.80" fill="#271258"/>
<rect x="284.78" y="992.66" width="1.63" height="15.23" fill="#2c115f"/>
<rect x="286.26" y="991.44" width="1.63" height="16.45" fill="#2f1163"/>
<rect x="287.74" y="990.83" width="1.63" height="17.06" fill="#311165"/>
<rect x="289.22" y="997.53" width="1.63" height="10.36" fill="#21114e"/>
<rect x="290.70" y="996.31" width="1.63" height="11.58" fill="#241253"/>
<rect x="292.18" y="978.03" width="1.63" height="29.86" fill="#4f127b"/>
<rect x="293.66" y="971.33" width="1.63" height="36.56" fill="#5f187f"/>
<rect x="295.14" y="975.60" width="1.63" height="32.29" fill="#56147d"/>
<rect x="296.62" y="981.08" width="1.63" height="26.81" fill="#491078"/>
<rect x="298.10" y="998.14" width="1.63" height="9.75" fill="#20114b"/>
<rect x="299.58" y="985.35" width="1.63" height="22.54" fill="#3f0f72"/>
<rect x="301.06" y="989.00" width="1.63" height="18.89" fill="#341069"/>
<rect x="302.54" y="979.25" width="1.63" height="28.64" fill="#4c117a"/>
<rect x="304.02" y="973.16" width="1.63" height="34.73" fill="#5a167e"/>
<rect x="305.49" y="981.69" width="1.63" height="26.20" fill="#471078"/>
<rect x="306.97" y="994.49" width="1.63" height="13.40" fill="#271258"/>
<rect x="308.45" y="993.27" width="1.63" height="14.62" fill="#2a115c"/>
<rect x="309.93" y="993.27" width="1.63" height="14.62" fill="#2a115c"/>
<rect x="311.41" y="984.74" width="1.63" height="23.15" fill="#400f74"/>
<rect x="312.89" y="982.91" width="1.63" height="24.98" fill="#440f76"/>
<rect x="314.37" y="990.83" width="1.63" height="17.06" fill="#311165"/>
<rect x="315.85" y="992.05" width="1.63" height="15.84" fill="#2d1161"/>
<rect x="317.33" y="982.91" width="1.63" height="24.98" fill="#440f76"/>
<rect x="318.81" y="974.99" width="1.63" height="32.90" fill="#57157e"/>
<rect x="320.29" y="987.17" width="1.63" height="20.72" fill="#390f6e"/>
<rect x="321.77" y="998.14" width="1.63" height="9.75" fill="#20114b"/>
<rect x="323.25" y="993.27" width="1.63" height="14.62" fill="#2a115c"/>
<rect x="324.73" y="968.89" width="1.63" height="39.00" fill="#651a80"/>
<rect x="326.21" y="968.89" width="1.63" height="39.00" fill="#651a80"/>
<rect x="327.69" y="952.44" width="1.63" height="55.45" fill="#892881"/>
<rect x="329.17" y="967.07" width="1.63" height="40.82" fill="#681c81"/>
<rect x="330.65" y="990.83" width="1.63" height="17.06" fill="#311165"/>
<rect x="332.13" y="998.14" width="1.63" height="9.75" fill="#20114b"/>
<rect x="333.61" y="942.08" width="1.63" height="65.81" fill="#a1307e"/>
<rect x="335.09" y="963.41" width="1.63" height="44.48" fill="#701f81"/>
<rect x="336.57" y="967.07" width="1.63" height="40.82" fill="#681c81"/>
<rect x="338.05" y="964.63" width="1.63" height="43.26" fill="#6e1e81"/>
<rect x="339.53" y="943.30" width="1.63" height="64.59" fill="#a02f7f"/>
<rect x="341.01" y="943.30" width="1.63" height="64.59" fill="#a02f7f"/>
<rect x="342.49" y="943.91" width="1.63" height="63.98" fill="#9e2f7f"/>
<rect x="343.97" y="948.79" width="1.63" height="59.10" fill="#932b80"/>
<rect x="345.45" y="942.08" width="1.63" height="65.81" fill="#a1307e"/>
<rect x="346.93" y="925.63" width="1.63" height="82.26" fill="#c83e73"/>
<rect x="348.41" y="926.24" width="1.63" height="81.65" fill="#c73d73"/>
<rect x="349.89" y="956.71" width="1.63" height="51.18" fill="#802582"/>
<rect x="407.92" y="954.88" width="1.64" height="53.01" fill="#842681"/>
<rect x="409.41" y="948.18" width="1.64" height="59.71" fill="#942c80"/>
<rect x="410.91" y="929.90" width="1.64" height="77.99" fill="#bf3a77"/>
<rect x="412.40" y="911.01" width="1.64" height="96.88" fill="#e75263"/>
<rect x="413.89" y="950.01" width="1.64" height="57.88" fill="#902a81"/>
<rect x="415.39" y="957.93" width="1.64" height="49.96" fill="#7c2382"/>
<rect x="416.88" y="965.24" width="1.64" height="42.65" fill="#6d1d81"/>
<rect x="418.37" y="989.00" width="1.64" height="18.89" fill="#341069"/>
<rect x="419.86" y="979.86" width="1.64" height="28.03" fill="#4c117a"/>
<rect x="421.36" y="985.35" width="1.64" height="22.54" fill="#3f0f72"/>
<rect x="422.85" y="984.13" width="1.64" height="23.76" fill="#400f74"/>
<rect x="424.34" y="989.61" width="1.64" height="18.28" fill="#331067"/>
<rect x="425.83" y="974.38" width="1.64" height="33.51" fill="#59157e"/>
<rect x="427.33" y="970.11" width="1.64" height="37.78" fill="#621980"/>
<rect x="428.82" y="999.36" width="1.64" height="8.53" fill="#1d1147"/>
<rect x="430.31" y="998.75" width="1.64" height="9.14" fill="#1e1149"/>
<rect x="431.81" y="982.91" width="1.64" height="24.98" fill="#440f76"/>
<rect x="433.30" y="998.75" width="1.64" height="9.14" fill="#1e1149"/>
<rect x="434.79" y="990.83" width="1.64" height="17.06" fill="#311165"/>
<rect x="436.28" y="999.97" width="1.64" height="7.92" fill="#1c1044"/>
<rect x="437.78" y="989.00" width="1.64" height="18.89" fill="#341069"/>
<rect x="439.27" y="992.05" width="1.64" height="15.84" fill="#2d1161"/>
<rect x="440.76" y="995.70" width="1.64" height="12.19" fill="#251255"/>
<rect x="442.26" y="985.35" width="1.64" height="22.54" fill="#3f0f72"/>
<rect x="443.75" y="995.09" width="1.64" height="12.80" fill="#271258"/>
<rect x="445.24" y="995.09" width="1.64" height="12.80" fill="#271258"/>
<rect x="446.73" y="987.17" width="1.64" height="20.72" fill="#390f6e"/>
<rect x="448.23" y="983.52" width="1.64" height="24.37" fill="#420f75"/>
<rect x="449.72" y="983.52" width="1.64" height="24.37" fill="#420f75"/>
<rect x="451.21" y="973.16" width="1.64" height="34.73" fill="#5a167e"/>
<rect x="452.71" y="989.00" width="1.64" height="18.89" fill="#341069"/>
<rect x="454.20" y="987.17" width="1.64" height="20.72" fill="#390f6e"/>
<rect x="455.69" y="993.27" width="1.64" height="14.62" fill="#2a115c"/>
<rect x="457.18" y="984.74" width="1.64" height="23.15" fill="#400f74"/>
<rect x="458.68" y="985.96" width="1.64" height="21.94" fill="#3d0f71"/>
<rect x="460.17" y="978.03" width="1.64" height="29.86" fill="#4f127b"/>
<rect x="461.66" y="992.05" width="1.64" height="15.84" fill="#2d1161"/>
<rect x="463.16" y="987.17" width="1.64" height="20.72" fill="#390f6e"/>
<rect x="464.65" y="996.92" width="1.64" height="10.97" fill="#221150"/>
<rect x="466.14" y="996.92" width="1.64" height="10.97" fill="#221150"/>
<rect x="467.63" y="996.92" width="1.64" height="10.97" fill="#221150"/>
<rect x="469.13" y="982.30" width="1.64" height="25.59" fill="#451077"/>
<rect x="470.62" y="999.36" width="1.64" height="8.53" fill="#1d1147"/>
<rect x="472.11" y="981.08" width="1.64" height="26.81" fill="#491078"/>
<rect x="473.60" y="969.50" width="1.64" height="38.39" fill="#641a80"/>
<rect x="475.10" y="987.78" width="1.64" height="20.11" fill="#38106c"/>
<rect x="476.59" y="961.58" width="1.64" height="46.31" fill="#752181"/>
<rect x="478.08" y="996.92" width="1.64" height="10.97" fill="#221150"/>
<rect x="479.58" y="989.00" width="1.64" height="18.89" fill="#341069"/>
<rect x="481.07" y="985.35" width="1.64" height="22.54" fill="#3f0f72"/>
<rect x="482.56" y="989.00" width="1.64" height="18.89" fill="#341069"/>
<rect x="484.05" y="982.91" width="1.64" height="24.98" fill="#440f76"/>
<rect x="485.55" y="979.86" width="1.64" height="28.03" fill="#4c117a"/>
<rect x="487.04" y="974.99" width="1.64" height="32.90" fill="#57157e"/>
<rect x="488.53" y="995.09" width="1.64" height="12.80" fill="#271258"/>
<rect x="490.03" y="989.00" width="1.64" height="18.89" fill="#341069"/>
<rect x="491.52" y="988.39" width="1.64" height="19.50" fill="#36106b"/>
<rect x="493.01" y="981.08" width="1.64" height="26.81" fill="#491078"/>
<rect x="494.50" y="992.05" width="1.64" height="15.84" fill="#2d1161"/>
<rect x="496.00" y="973.16" width="1.64" height="34.73" fill="#5a167e"/>
<rect x="497.49" y="961.58" width="1.64" height="46.31" fill="#752181"/>
<rect x="498.98" y="965.24" width="1.64" height="42.65" fill="#6d1d81"/>
<rect x="500.48" y="968.89" width="1.64" height="39.00" fill="#651a80"/>
<rect x="501.97" y="975.60" width="1.64" height="32.29" fill="#56147d"/>
<rect x="503.46" y="964.02" width="1.64" height="43.87" fill="#701f81"/>
<rect x="504.95" y="956.71" width="1.64" height="51.18" fill="#802582"/>
<rect x="506.45" y="977.42" width="1.64" height="30.47" fill="#51127c"/>
<rect x="507.94" y="962.19" width="1.64" height="45.70" fill="#732081"/>
<rect x="509.43" y="964.63" width="1.64" height="43.26" fill="#6e1e81"/>
<rect x="510.92" y="967.07" width="1.64" height="40.82" fill="#681c81"/>
<rect x="512.42" y="981.08" width="1.64" height="26.81" fill="#491078"/>
<rect x="513.91" y="939.04" width="1.64" height="68.85" fill="#aa337d"/>
<rect x="515.40" y="923.20" width="1.64" height="84.69" fill="#cf4070"/>
<rect x="516.90" y="904.92" width="1.64" height="102.97" fill="#f05f5e"/>
<rect x="518.39" y="900.04" width="1.64" height="107.85" fill="#f56b5c"/>
<rect x="519.88" y="904.92" width="1.64" height="102.97" fill="#f05f5e"/>
<rect x="521.37" y="905.53" width="1.64" height="102.36" fill="#ef5d5e"/>
<rect x="522.87" y="897.61" width="1.64" height="110.29" fill="#f7725c"/>
<rect x="524.36" y="925.02" width="1.64" height="82.87" fill="#ca3e72"/>
<rect x="525.85" y="970.11" width="1.64" height="37.78" fill="#621980"/>
<rect x="583.14" y="937.82" width="1.72" height="70.07" fill="#ad347c"/>
<rect x="584.71" y="921.98" width="1.72" height="85.91" fill="#d2426f"/>
<rect x="586.29" y="914.06" width="1.72" height="93.83" fill="#e24d66"/>
<rect x="587.86" y="957.93" width="1.72" height="49.96" fill="#7c2382"/>
<rect x="589.44" y="959.75" width="1.72" height="48.14" fill="#792282"/>
<rect x="591.01" y="954.88" width="1.72" height="53.01" fill="#842681"/>
<rect x="592.58" y="950.62" width="1.72" height="57.28" fill="#8e2a81"/>
<rect x="594.16" y="960.97" width="1.72" height="46.92" fill="#762181"/>
<rect x="595.73" y="965.24" width="1.72" height="42.65" fill="#6d1d81"/>
<rect x="597.31" y="947.57" width="1.72" height="60.32" fill="#942c80"/>
<rect x="598.88" y="990.22" width="1.72" height="17.67" fill="#331067"/>
<rect x="600.46" y="993.88" width="1.72" height="14.01" fill="#29115a"/>
<rect x="602.03" y="995.09" width="1.72" height="12.80" fill="#271258"/>
<rect x="603.60" y="990.83" width="1.72" height="17.06" fill="#311165"/>
<rect x="605.18" y="995.70" width="1.72" height="12.19" fill="#251255"/>
<rect x="606.75" y="989.00" width="1.72" height="18.89" fill="#341069"/>
<rect x="608.33" y="989.00" width="1.72" height="18.89" fill="#341069"/>
<rect x="609.90" y="990.22" width="1.72" height="17.67" fill="#331067"/>
<rect x="611.48" y="994.49" width="1.72" height="13.40" fill="#271258"/>
<rect x="613.05" y="991.44" width="1.72" height="16.45" fill="#2f1163"/>
<rect x="614.62" y="999.97" width="1.72" height="7.92" fill="#1c1044"/>
<rect x="616.20" y="982.91" width="1.72" height="24.98" fill="#440f76"/>
<rect x="617.77" y="998.75" width="1.72" height="9.14" fill="#1e1149"/>
<rect x="619.35" y="993.88" width="1.72" height="14.01" fill="#29115a"/>
<rect x="620.92" y="992.66" width="1.72" height="15.23" fill="#2c115f"/>
<rect x="622.49" y="985.35" width="1.72" height="22.54" fill="#3f0f72"/>
<rect x="624.07" y="989.00" width="1.72" height="18.89" fill="#341069"/>
<rect x="625.64" y="989.61" width="1.72" height="18.28" fill="#331067"/>
<rect x="627.22" y="973.77" width="1.72" height="34.12" fill="#59157e"/>
<rect x="628.79" y="985.96" width="1.72" height="21.94" fill="#3d0f71"/>
<rect x="630.37" y="992.05" width="1.72" height="15.84" fill="#2d1161"/>
<rect x="631.94" y="982.91" width="1.72" height="24.98" fill="#440f76"/>
<rect x="633.51" y="984.74" width="1.72" height="23.15" fill="#400f74"/>
<rect x="635.09" y="992.66" width="1.72" height="15.23" fill="#2c115f"/>
<rect x="636.66" y="985.35" width="1.72" height="22.54" fill="#3f0f72"/>
<rect x="638.24" y="983.52" width="1.72" height="24.37" fill="#420f75"/>
<rect x="639.81" y="977.42" width="1.72" height="30.47" fill="#51127c"/>
<rect x="641.38" y="973.16" width="1.72" height="34.73" fill="#5a167e"/>
<rect x="642.96" y="987.78" width="1.72" height="20.11" fill="#38106c"/>
<rect x="644.53" y="993.27" width="1.72" height="14.62" fill="#2a115c"/>
<rect x="646.11" y="974.99" width="1.72" height="32.90" fill="#57157e"/>
<rect x="647.68" y="967.07" width="1.72" height="40.82" fill="#681c81"/>
<rect x="649.26" y="981.08" width="1.72" height="26.81" fill="#491078"/>
<rect x="650.83" y="954.27" width="1.72" height="53.62" fill="#862781"/>
<rect x="652.40" y="965.85" width="1.72" height="42.04" fill="#6b1d81"/>
<rect x="653.98" y="974.38" width="1.72" height="33.51" fill="#59157e"/>
<rect x="655.55" y="967.07" width="1.72" height="40.82" fill="#681c81"/>
<rect x="657.13" y="974.38" width="1.72" height="33.51" fill="#59157e"/>
<rect x="658.70" y="968.29" width="1.72" height="39.61" fill="#651a80"/>
<rect x="660.27" y="964.63" width="1.72" height="43.26" fill="#6e1e81"/>
<rect x="661.85" y="999.36" width="1.72" height="8.53" fill="#1d1147"/>
<rect x="663.42" y="961.58" width="1.72" height="46.31" fill="#752181"/>
<rect x="665.00" y="971.33" width="1.72" height="36.56" fill="#5f187f"/>
<rect x="666.57" y="974.99" width="1.72" height="32.90" fill="#57157e"/>
<rect x="668.15" y="971.94" width="1.72" height="35.95" fill="#5d177f"/>
<rect x="669.72" y="969.50" width="1.72" height="38.39" fill="#641a80"/>
<rect x="671.29" y="968.89" width="1.72" height="39.00" fill="#651a80"/>
<rect x="672.87" y="977.42" width="1.72" height="30.47" fill="#51127c"/>
<rect x="674.44" y="962.80" width="1.72" height="45.09" fill="#721f81"/>
<rect x="676.02" y="970.72" width="1.72" height="37.17" fill="#601880"/>
<rect x="677.59" y="969.50" width="1.72" height="38.39" fill="#641a80"/>
<rect x="679.17" y="978.64" width="1.72" height="29.25" fill="#4e117b"/>
<rect x="680.74" y="984.74" width="1.72" height="23.15" fill="#400f74"/>
<rect x="682.31" y="921.98" width="1.72" height="85.91" fill="#d2426f"/>
<rect x="683.89" y="943.30" width="1.72" height="64.59" fill="#a02f7f"/>
<rect x="685.46" y="917.10" width="1.72" height="90.79" fill="#dc4869"/>
<rect x="687.04" y="939.65" width="1.72" height="68.24" fill="#a8327d"/>
<rect x="688.61" y="907.96" width="1.72" height="99.93" fill="#ec5860"/>
<rect x="690.18" y="879.94" width="1.72" height="127.96" fill="#fea16e"/>
<rect x="691.76" y="873.23" width="1.72" height="134.66" fill="#feb47b"/>
<rect x="693.33" y="903.70" width="1.72" height="104.19" fill="#f2625d"/>
<rect x="694.91" y="941.48" width="1.72" height="66.41" fill="#a3307e"/>
<rect x="696.48" y="974.38" width="1.72" height="33.51" fill="#59157e"/>
<rect x="753.38" y="918.93" width="1.60" height="88.96" fill="#d8456c"/>
<rect x="754.84" y="899.43" width="1.60" height="108.46" fill="#f66c5c"/>
<rect x="756.29" y="868.36" width="1.60" height="139.53" fill="#fec185"/>
<rect x="757.75" y="884.20" width="1.60" height="123.69" fill="#fd9668"/>
<rect x="759.20" y="912.84" width="1.60" height="95.05" fill="#e44f64"/>
<rect x="760.66" y="943.30" width="1.60" height="64.59" fill="#a02f7f"/>
<rect x="762.11" y="943.30" width="1.60" height="64.59" fill="#a02f7f"/>
<rect x="763.57" y="893.34" width="1.60" height="114.55" fill="#fa7d5e"/>
<rect x="765.02" y="907.35" width="1.60" height="100.54" fill="#ed5a5f"/>
<rect x="766.47" y="966.46" width="1.60" height="41.43" fill="#6a1c81"/>
<rect x="767.93" y="960.36" width="1.60" height="47.53" fill="#782281"/>
<rect x="769.38" y="971.94" width="1.60" height="35.95" fill="#5d177f"/>
<rect x="770.84" y="982.91" width="1.60" height="24.98" fill="#440f76"/>
<rect x="772.29" y="978.64" width="1.60" height="29.25" fill="#4e117b"/>
<rect x="773.75" y="992.05" width="1.60" height="15.84" fill="#2d1161"/>
<rect x="775.20" y="986.56" width="1.60" height="21.33" fill="#3b0f70"/>
<rect x="776.66" y="990.22" width="1.60" height="17.67" fill="#331067"/>
<rect x="778.11" y="1004.23" width="1.60" height="3.66" fill="#140e36"/>
<rect x="782.47" y="996.92" width="1.60" height="10.97" fill="#221150"/>
<rect x="783.93" y="981.08" width="1.60" height="26.81" fill="#491078"/>
<rect x="785.38" y="985.35" width="1.60" height="22.54" fill="#3f0f72"/>
<rect x="786.84" y="998.14" width="1.60" height="9.75" fill="#20114b"/>
<rect x="788.29" y="994.49" width="1.60" height="13.40" fill="#271258"/>
<rect x="789.75" y="987.17" width="1.60" height="20.72" fill="#390f6e"/>
<rect x="791.20" y="994.49" width="1.60" height="13.40" fill="#271258"/>
<rect x="792.66" y="987.17" width="1.60" height="20.72" fill="#390f6e"/>
<rect x="794.11" y="988.39" width="1.60" height="19.50" fill="#36106b"/>
<rect x="795.56" y="984.74" width="1.60" height="23.15" fill="#400f74"/>
<rect x="797.02" y="992.05" width="1.60" height="15.84" fill="#2d1161"/>
<rect x="798.47" y="981.08" width="1.60" height="26.81" fill="#491078"/>
<rect x="799.93" y="995.70" width="1.60" height="12.19" fill="#251255"/>
<rect x="801.38" y="994.49" width="1.60" height="13.40" fill="#271258"/>
<rect x="802.84" y="999.36" width="1.60" height="8.53" fill="#1d1147"/>
<rect x="804.29" y="1000.58" width="1.60" height="7.31" fill="#1c1044"/>
<rect x="805.75" y="991.44" width="1.60" height="16.45" fill="#2f1163"/>
<rect x="807.20" y="992.05" width="1.60" height="15.84" fill="#2d1161"/>
<rect x="808.66" y="982.30" width="1.60" height="25.59" fill="#451077"/>
<rect x="810.11" y="994.49" width="1.60" height="13.40" fill="#271258"/>
<rect x="811.56" y="983.52" width="1.60" height="24.37" fill="#420f75"/>
<rect x="813.02" y="990.83" width="1.60" height="17.06" fill="#311165"/>
<rect x="814.47" y="993.88" width="1.60" height="14.01" fill="#29115a"/>
<rect x="815.93" y="978.64" width="1.60" height="29.25" fill="#4e117b"/>
<rect x="817.38" y="977.42" width="1.60" height="30.47" fill="#51127c"/>
<rect x="818.84" y="984.13" width="1.60" height="23.76" fill="#400f74"/>
<rect x="820.29" y="979.86" width="1.60" height="28.03" fill="#4c117a"/>
<rect x="821.75" y="968.89" width="1.60" height="39.00" fill="#651a80"/>
<rect x="823.20" y="987.17" width="1.60" height="20.72" fill="#390f6e"/>
<rect x="824.66" y="987.17" width="1.60" height="20.72" fill="#390f6e"/>
<rect x="826.11" y="984.13" width="1.60" height="23.76" fill="#400f74"/>
<rect x="827.56" y="954.88" width="1.60" height="53.01" fill="#842681"/>
<rect x="829.02" y="950.62" width="1.60" height="57.28" fill="#8e2a81"/>
<rect x="830.47" y="963.41" width="1.60" height="44.48" fill="#701f81"/>
<rect x="831.93" y="959.15" width="1.60" height="48.74" fill="#7b2382"/>
<rect x="833.38" y="968.89" width="1.60" height="39.00" fill="#651a80"/>
<rect x="834.84" y="987.17" width="1.60" height="20.72" fill="#390f6e"/>
<rect x="836.29" y="977.42" width="1.60" height="30.47" fill="#51127c"/>
<rect x="837.75" y="981.08" width="1.60" height="26.81" fill="#491078"/>
<rect x="839.20" y="981.08" width="1.60" height="26.81" fill="#491078"/>
<rect x="840.66" y="978.64" width="1.60" height="29.25" fill="#4e117b"/>
<rect x="842.11" y="971.94" width="1.60" height="35.95" fill="#5d177f"/>
<rect x="843.56" y="973.77" width="1.60" height="34.12" fill="#59157e"/>
<rect x="845.02" y="935.99" width="1.60" height="71.90" fill="#b0357b"/>
<rect x="846.47" y="959.75" width="1.60" height="48.14" fill="#792282"/>
<rect x="847.93" y="927.46" width="1.60" height="80.43" fill="#c53c74"/>
<rect x="849.38" y="957.32" width="1.60" height="50.57" fill="#7e2482"/>
<rect x="850.84" y="970.11" width="1.60" height="37.78" fill="#621980"/>
<rect x="852.29" y="928.07" width="1.60" height="79.82" fill="#c43c75"/>
<rect x="853.75" y="946.96" width="1.60" height="60.93" fill="#962c80"/>
<rect x="855.20" y="939.04" width="1.60" height="68.85" fill="#aa337d"/>
<rect x="856.66" y="897.00" width="1.60" height="110.89" fill="#f8745c"/>
<rect x="858.11" y="890.29" width="1.60" height="117.60" fill="#fb8560"/>
<rect x="859.56" y="870.19" width="1.60" height="137.70" fill="#febd82"/>
<rect x="861.02" y="929.90" width="1.60" height="77.99" fill="#bf3a77"/>
<rect x="862.47" y="929.90" width="1.60" height="77.99" fill="#bf3a77"/>
<rect x="863.93" y="927.46" width="1.60" height="80.43" fill="#c53c74"/>
<rect x="865.38" y="985.35" width="1.60" height="22.54" fill="#3f0f72"/>
<rect x="922.11" y="941.48" width="1.64" height="66.41" fill="#a3307e"/>
<rect x="923.60" y="933.55" width="1.64" height="74.34" fill="#b73779"/>
<rect x="925.09" y="895.78" width="1.64" height="112.11" fill="#f8765c"/>
<rect x="926.58" y="895.78" width="1.64" height="112.11" fill="#f8765c"/>
<rect x="928.07" y="921.37" width="1.64" height="86.52" fill="#d2426f"/>
<rect x="929.56" y="921.37" width="1.64" height="86.52" fill="#d2426f"/>
<rect x="931.05" y="906.14" width="1.64" height="101.75" fill="#ee5b5e"/>
<rect x="932.54" y="946.96" width="1.64" height="60.93" fill="#962c80"/>
<rect x="934.03" y="969.50" width="1.64" height="38.39" fill="#641a80"/>
<rect x="935.52" y="970.11" width="1.64" height="37.78" fill="#621980"/>
<rect x="937.01" y="971.94" width="1.64" height="35.95" fill="#5d177f"/>
<rect x="938.50" y="971.94" width="1.64" height="35.95" fill="#5d177f"/>
<rect x="939.99" y="976.82" width="1.64" height="31.07" fill="#52137c"/>
<rect x="941.48" y="970.11" width="1.64" height="37.78" fill="#621980"/>
<rect x="944.46" y="982.30" width="1.64" height="25.59" fill="#451077"/>
<rect x="945.95" y="968.29" width="1.64" height="39.61" fill="#651a80"/>
<rect x="947.44" y="975.60" width="1.64" height="32.29" fill="#56147d"/>
<rect x="948.93" y="979.86" width="1.64" height="28.03" fill="#4c117a"/>
<rect x="950.42" y="987.17" width="1.64" height="20.72" fill="#390f6e"/>
<rect x="951.91" y="987.17" width="1.64" height="20.72" fill="#390f6e"/>
<rect x="953.40" y="957.93" width="1.64" height="49.96" fill="#7c2382"/>
<rect x="954.89" y="988.39" width="1.64" height="19.50" fill="#36106b"/>
<rect x="956.38" y="958.54" width="1.64" height="49.35" fill="#7c2382"/>
<rect x="957.87" y="965.24" width="1.64" height="42.65" fill="#6d1d81"/>
<rect x="959.36" y="956.10" width="1.64" height="51.79" fill="#812581"/>
<rect x="960.85" y="971.33" width="1.64" height="36.56" fill="#5f187f"/>
<rect x="962.34" y="962.80" width="1.64" height="45.09" fill="#721f81"/>
<rect x="963.83" y="970.11" width="1.64" height="37.78" fill="#621980"/>
<rect x="965.32" y="933.55" width="1.64" height="74.34" fill="#b73779"/>
<rect x="966.81" y="983.52" width="1.64" height="24.37" fill="#420f75"/>
<rect x="968.30" y="986.56" width="1.64" height="21.33" fill="#3b0f70"/>
<rect x="969.79" y="982.91" width="1.64" height="24.98" fill="#440f76"/>
<rect x="971.28" y="992.66" width="1.64" height="15.23" fill="#2c115f"/>
<rect x="972.77" y="976.82" width="1.64" height="31.07" fill="#52137c"/>
<rect x="974.26" y="993.27" width="1.64" height="14.62" fill="#2a115c"/>
<rect x="975.75" y="986.56" width="1.64" height="21.33" fill="#3b0f70"/>
<rect x="977.24" y="979.25" width="1.64" height="28.64" fill="#4c117a"/>
<rect x="978.73" y="992.05" width="1.64" height="15.84" fill="#2d1161"/>
<rect x="980.22" y="981.08" width="1.64" height="26.81" fill="#491078"/>
<rect x="981.71" y="999.36" width="1.64" height="8.53" fill="#1d1147"/>
<rect x="983.20" y="985.96" width="1.64" height="21.94" fill="#3d0f71"/>
<rect x="984.69" y="994.49" width="1.64" height="13.40" fill="#271258"/>
<rect x="986.18" y="981.08" width="1.64" height="26.81" fill="#491078"/>
<rect x="987.67" y="987.17" width="1.64" height="20.72" fill="#390f6e"/>
<rect x="989.16" y="990.22" width="1.64" height="17.67" fill="#331067"/>
<rect x="990.65" y="971.33" width="1.64" height="36.56" fill="#5f187f"/>
<rect x="992.14" y="982.30" width="1.64" height="25.59" fill="#451077"/>
<rect x="993.63" y="985.35" width="1.64" height="22.54" fill="#3f0f72"/>
<rect x="995.12" y="982.91" width="1.64" height="24.98" fill="#440f76"/>
<rect x="996.61" y="969.50" width="1.64" height="38.39" fill="#641a80"/>
<rect x="998.10" y="961.58" width="1.64" height="46.31" fill="#752181"/>
<rect x="999.59" y="976.21" width="1.64" height="31.68" fill="#54137d"/>
<rect x="1001.08" y="978.64" width="1.64" height="29.25" fill="#4e117b"/>
<rect x="1002.57" y="968.89" width="1.64" height="39.00" fill="#651a80"/>
<rect x="1004.06" y="990.83" width="1.64" height="17.06" fill="#311165"/>
<rect x="1005.55" y="990.83" width="1.64" height="17.06" fill="#311165"/>
<rect x="1007.04" y="995.09" width="1.64" height="12.80" fill="#271258"/>
<rect x="1008.53" y="995.09" width="1.64" height="12.80" fill="#271258"/>
<rect x="1010.02" y="995.09" width="1.64" height="12.80" fill="#271258"/>
<rect x="1011.51" y="1006.06" width="1.64" height="1.83" fill="#120d31"/>
<rect x="1013.00" y="937.82" width="1.64" height="70.07" fill="#ad347c"/>
<rect x="1015.98" y="947.57" width="1.64" height="60.32" fill="#942c80"/>
<rect x="1017.47" y="958.54" width="1.64" height="49.35" fill="#7c2382"/>
<rect x="1018.96" y="965.24" width="1.64" height="42.65" fill="#6d1d81"/>
<rect x="1020.45" y="939.65" width="1.64" height="68.24" fill="#a8327d"/>
<rect x="1021.94" y="937.21" width="1.64" height="70.68" fill="#ad347c"/>
<rect x="1023.43" y="951.83" width="1.64" height="56.06" fill="#8b2981"/>
<rect x="1024.92" y="921.98" width="1.64" height="85.91" fill="#d2426f"/>
<rect x="1026.41" y="898.82" width="1.64" height="109.07" fill="#f66e5c"/>
<rect x="1027.90" y="868.97" width="1.64" height="138.92" fill="#febf84"/>
<rect x="1029.39" y="918.93" width="1.64" height="88.96" fill="#d8456c"/>
<rect x="1030.88" y="939.04" width="1.64" height="68.85" fill="#aa337d"/>
<rect x="1032.37" y="939.04" width="1.64" height="68.85" fill="#aa337d"/>
<rect x="1088.97" y="903.09" width="1.68" height="104.80" fill="#f2645c"/>
<rect x="1090.49" y="873.23" width="1.68" height="134.66" fill="#feb47b"/>
<rect x="1092.02" y="910.40" width="1.68" height="97.49" fill="#e85362"/>
<rect x="1093.55" y="925.63" width="1.68" height="82.26" fill="#c83e73"/>
<rect x="1095.07" y="931.73" width="1.68" height="76.16" fill="#ba3878"/>
<rect x="1096.60" y="932.95" width="1.68" height="74.95" fill="#b83779"/>
<rect x="1098.13" y="962.80" width="1.68" height="45.09" fill="#721f81"/>
<rect x="1099.65" y="935.38" width="1.68" height="72.51" fill="#b2357b"/>
<rect x="1101.18" y="992.05" width="1.68" height="15.84" fill="#2d1161"/>
<rect x="1102.71" y="992.05" width="1.68" height="15.84" fill="#2d1161"/>
<rect x="1104.23" y="999.36" width="1.68" height="8.53" fill="#1d1147"/>
<rect x="1105.76" y="990.22" width="1.68" height="17.67" fill="#331067"/>
<rect x="1107.29" y="973.77" width="1.68" height="34.12" fill="#59157e"/>
<rect x="1108.81" y="993.27" width="1.68" height="14.62" fill="#2a115c"/>
<rect x="1113.39" y="996.31" width="1.68" height="11.58" fill="#241253"/>
<rect x="1114.92" y="985.35" width="1.68" height="22.54" fill="#3f0f72"/>
<rect x="1116.45" y="992.05" width="1.68" height="15.84" fill="#2d1161"/>
<rect x="1117.97" y="985.35" width="1.68" height="22.54" fill="#3f0f72"/>
<rect x="1119.50" y="987.17" width="1.68" height="20.72" fill="#390f6e"/>
<rect x="1121.03" y="994.49" width="1.68" height="13.40" fill="#271258"/>
<rect x="1122.55" y="988.39" width="1.68" height="19.50" fill="#36106b"/>
<rect x="1124.08" y="990.83" width="1.68" height="17.06" fill="#311165"/>
<rect x="1125.61" y="990.83" width="1.68" height="17.06" fill="#311165"/>
<rect x="1127.13" y="982.91" width="1.68" height="24.98" fill="#440f76"/>
<rect x="1128.66" y="974.38" width="1.68" height="33.51" fill="#59157e"/>
<rect x="1130.19" y="987.17" width="1.68" height="20.72" fill="#390f6e"/>
<rect x="1131.71" y="987.17" width="1.68" height="20.72" fill="#390f6e"/>
<rect x="1133.24" y="984.74" width="1.68" height="23.15" fill="#400f74"/>
<rect x="1137.82" y="961.58" width="1.68" height="46.31" fill="#752181"/>
<rect x="1139.35" y="982.91" width="1.68" height="24.98" fill="#440f76"/>
<rect x="1140.87" y="987.17" width="1.68" height="20.72" fill="#390f6e"/>
<rect x="1142.40" y="989.00" width="1.68" height="18.89" fill="#341069"/>
<rect x="1143.93" y="977.42" width="1.68" height="30.47" fill="#51127c"/>
<rect x="1145.45" y="969.50" width="1.68" height="38.39" fill="#641a80"/>
<rect x="1146.98" y="985.35" width="1.68" height="22.54" fill="#3f0f72"/>
<rect x="1148.51" y="971.94" width="1.68" height="35.95" fill="#5d177f"/>
<rect x="1150.03" y="960.97" width="1.68" height="46.92" fill="#762181"/>
<rect x="1151.56" y="964.63" width="1.68" height="43.26" fill="#6e1e81"/>
<rect x="1153.09" y="995.70" width="1.68" height="12.19" fill="#251255"/>
<rect x="1154.61" y="979.86" width="1.68" height="28.03" fill="#4c117a"/>
<rect x="1156.14" y="976.82" width="1.68" height="31.07" fill="#52137c"/>
<rect x="1157.67" y="960.97" width="1.68" height="46.92" fill="#762181"/>
<rect x="1159.19" y="972.55" width="1.68" height="35.34" fill="#5c167f"/>
<rect x="1160.72" y="980.47" width="1.68" height="27.42" fill="#4a1079"/>
<rect x="1162.25" y="971.94" width="1.68" height="35.95" fill="#5d177f"/>
<rect x="1163.77" y="975.60" width="1.68" height="32.29" fill="#56147d"/>
<rect x="1165.30" y="968.29" width="1.68" height="39.61" fill="#651a80"/>
<rect x="1166.83" y="960.36" width="1.68" height="47.53" fill="#782281"/>
<rect x="1168.35" y="954.88" width="1.68" height="53.01" fill="#842681"/>
<rect x="1169.88" y="957.32" width="1.68" height="50.57" fill="#7e2482"/>
<rect x="1171.41" y="964.63" width="1.68" height="43.26" fill="#6e1e81"/>
<rect x="1172.93" y="973.77" width="1.68" height="34.12" fill="#59157e"/>
<rect x="1174.46" y="975.60" width="1.68" height="32.29" fill="#56147d"/>
<rect x="1175.99" y="967.07" width="1.68" height="40.82" fill="#681c81"/>
<rect x="1177.51" y="945.13" width="1.68" height="62.76" fill="#9b2e7f"/>
<rect x="1179.04" y="971.33" width="1.68" height="36.56" fill="#5f187f"/>
<rect x="1180.57" y="962.80" width="1.68" height="45.09" fill="#721f81"/>
<rect x="1182.09" y="965.85" width="1.68" height="42.04" fill="#6b1d81"/>
<rect x="1183.62" y="955.49" width="1.68" height="52.40" fill="#832681"/>
<rect x="1185.15" y="946.96" width="1.68" height="60.93" fill="#962c80"/>
<rect x="1186.67" y="916.49" width="1.68" height="91.40" fill="#dc4869"/>
<rect x="1188.20" y="928.07" width="1.68" height="79.82" fill="#c43c75"/>
<rect x="1189.73" y="925.63" width="1.68" height="82.26" fill="#c83e73"/>
<rect x="1191.25" y="923.20" width="1.68" height="84.69" fill="#cf4070"/>
<rect x="1192.78" y="895.78" width="1.68" height="112.11" fill="#f8765c"/>
<rect x="1194.31" y="903.09" width="1.68" height="104.80" fill="#f2645c"/>
<rect x="1195.83" y="920.76" width="1.68" height="87.13" fill="#d3436e"/>
<rect x="1197.36" y="992.05" width="1.68" height="15.84" fill="#2d1161"/>
<rect x="1253.51" y="940.87" width="1.60" height="67.02" fill="#a5317e"/>
<rect x="1254.96" y="920.15" width="1.60" height="87.74" fill="#d5446d"/>
<rect x="1256.41" y="897.00" width="1.60" height="110.89" fill="#f8745c"/>
<rect x="1257.86" y="896.39" width="1.60" height="111.50" fill="#f8765c"/>
<rect x="1259.31" y="896.39" width="1.60" height="111.50" fill="#f8765c"/>
<rect x="1260.76" y="907.35" width="1.60" height="100.54" fill="#ed5a5f"/>
<rect x="1262.21" y="897.00" width="1.60" height="110.89" fill="#f8745c"/>
<rect x="1263.66" y="920.15" width="1.60" height="87.74" fill="#d5446d"/>
<rect x="1265.11" y="929.90" width="1.60" height="77.99" fill="#bf3a77"/>
<rect x="1266.57" y="948.18" width="1.60" height="59.71" fill="#942c80"/>
<rect x="1268.02" y="956.10" width="1.60" height="51.79" fill="#812581"/>
<rect x="1269.47" y="982.30" width="1.60" height="25.59" fill="#451077"/>
<rect x="1270.92" y="954.27" width="1.60" height="53.62" fill="#862781"/>
<rect x="1272.37" y="978.64" width="1.60" height="29.25" fill="#4e117b"/>
<rect x="1273.82" y="971.94" width="1.60" height="35.95" fill="#5d177f"/>
<rect x="1275.27" y="979.86" width="1.60" height="28.03" fill="#4c117a"/>
<rect x="1276.72" y="970.72" width="1.60" height="37.17" fill="#601880"/>
<rect x="1278.17" y="964.02" width="1.60" height="43.87" fill="#701f81"/>
<rect x="1279.62" y="982.30" width="1.60" height="25.59" fill="#451077"/>
<rect x="1281.08" y="985.35" width="1.60" height="22.54" fill="#3f0f72"/>
<rect x="1282.53" y="986.56" width="1.60" height="21.33" fill="#3b0f70"/>
<rect x="1283.98" y="985.96" width="1.60" height="21.94" fill="#3d0f71"/>
<rect x="1285.43" y="978.03" width="1.60" height="29.86" fill="#4f127b"/>
<rect x="1286.88" y="981.08" width="1.60" height="26.81" fill="#491078"/>
<rect x="1288.33" y="970.11" width="1.60" height="37.78" fill="#621980"/>
<rect x="1289.78" y="988.39" width="1.60" height="19.50" fill="#36106b"/>
<rect x="1291.23" y="981.08" width="1.60" height="26.81" fill="#491078"/>
<rect x="1292.68" y="981.08" width="1.60" height="26.81" fill="#491078"/>
<rect x="1294.14" y="984.74" width="1.60" height="23.15" fill="#400f74"/>
<rect x="1295.59" y="971.33" width="1.60" height="36.56" fill="#5f187f"/>
<rect x="1297.04" y="989.00" width="1.60" height="18.89" fill="#341069"/>
<rect x="1298.49" y="996.92" width="1.60" height="10.97" fill="#221150"/>
<rect x="1299.94" y="996.92" width="1.60" height="10.97" fill="#221150"/>
<rect x="1301.39" y="992.66" width="1.60" height="15.23" fill="#2c115f"/>
<rect x="1302.84" y="985.35" width="1.60" height="22.54" fill="#3f0f72"/>
<rect x="1304.29" y="986.56" width="1.60" height="21.33" fill="#3b0f70"/>
<rect x="1305.74" y="987.78" width="1.60" height="20.11" fill="#38106c"/>
<rect x="1307.20" y="989.00" width="1.60" height="18.89" fill="#341069"/>
<rect x="1308.65" y="989.61" width="1.60" height="18.28" fill="#331067"/>
<rect x="1310.10" y="990.83" width="1.60" height="17.06" fill="#311165"/>
<rect x="1311.55" y="987.78" width="1.60" height="20.11" fill="#38106c"/>
<rect x="1313.00" y="982.91" width="1.60" height="24.98" fill="#440f76"/>
<rect x="1314.45" y="993.27" width="1.60" height="14.62" fill="#2a115c"/>
<rect x="1315.90" y="994.49" width="1.60" height="13.40" fill="#271258"/>
<rect x="1317.35" y="992.66" width="1.60" height="15.23" fill="#2c115f"/>
<rect x="1318.80" y="984.74" width="1.60" height="23.15" fill="#400f74"/>
<rect x="1320.26" y="996.92" width="1.60" height="10.97" fill="#221150"/>
<rect x="1321.71" y="996.92" width="1.60" height="10.97" fill="#221150"/>
<rect x="1323.16" y="996.92" width="1.60" height="10.97" fill="#221150"/>
<rect x="1324.61" y="992.66" width="1.60" height="15.23" fill="#2c115f"/>
<rect x="1326.06" y="992.66" width="1.60" height="15.23" fill="#2c115f"/>
<rect x="1327.51" y="989.61" width="1.60" height="18.28" fill="#331067"/>
<rect x="1328.96" y="990.83" width="1.60" height="17.06" fill="#311165"/>
<rect x="1330.41" y="996.31" width="1.60" height="11.58" fill="#241253"/>
<rect x="1331.86" y="968.29" width="1.60" height="39.61" fill="#651a80"/>
<rect x="1333.32" y="962.80" width="1.60" height="45.09" fill="#721f81"/>
<rect x="1334.77" y="984.13" width="1.60" height="23.76" fill="#400f74"/>
<rect x="1336.22" y="992.66" width="1.60" height="15.23" fill="#2c115f"/>
<rect x="1337.67" y="982.91" width="1.60" height="24.98" fill="#440f76"/>
<rect x="1339.12" y="987.78" width="1.60" height="20.11" fill="#38106c"/>
<rect x="1340.57" y="989.61" width="1.60" height="18.28" fill="#331067"/>
<rect x="1342.02" y="990.22" width="1.60" height="17.67" fill="#331067"/>
<rect x="1343.47" y="982.91" width="1.60" height="24.98" fill="#440f76"/>
<rect x="1344.92" y="977.42" width="1.60" height="30.47" fill="#51127c"/>
<rect x="1346.38" y="993.27" width="1.60" height="14.62" fill="#2a115c"/>
<rect x="1401.14" y="917.71" width="1.63" height="90.18" fill="#db476a"/>
<rect x="1402.62" y="933.55" width="1.63" height="74.34" fill="#b73779"/>
<rect x="1404.09" y="900.04" width="1.63" height="107.85" fill="#f56b5c"/>
<rect x="1405.57" y="900.04" width="1.63" height="107.85" fill="#f56b5c"/>
<rect x="1407.04" y="901.26" width="1.63" height="106.63" fill="#f4695c"/>
<rect x="1408.52" y="929.29" width="1.63" height="78.60" fill="#c03a76"/>
<rect x="1409.99" y="945.13" width="1.63" height="62.76" fill="#9b2e7f"/>
<rect x="1411.47" y="960.97" width="1.63" height="46.92" fill="#762181"/>
<rect x="1412.95" y="951.22" width="1.63" height="56.67" fill="#8c2981"/>
<rect x="1414.42" y="957.93" width="1.63" height="49.96" fill="#7c2382"/>
<rect x="1415.90" y="965.85" width="1.63" height="42.04" fill="#6b1d81"/>
<rect x="1417.37" y="942.08" width="1.63" height="65.81" fill="#a1307e"/>
<rect x="1418.85" y="940.87" width="1.63" height="67.02" fill="#a5317e"/>
<rect x="1420.33" y="950.62" width="1.63" height="57.28" fill="#8e2a81"/>
<rect x="1421.80" y="954.88" width="1.63" height="53.01" fill="#842681"/>
<rect x="1423.28" y="964.02" width="1.63" height="43.87" fill="#701f81"/>
<rect x="1424.75" y="965.24" width="1.63" height="42.65" fill="#6d1d81"/>
<rect x="1426.23" y="965.85" width="1.63" height="42.04" fill="#6b1d81"/>
<rect x="1427.71" y="952.44" width="1.63" height="55.45" fill="#892881"/>
<rect x="1429.18" y="942.08" width="1.63" height="65.81" fill="#a1307e"/>
<rect x="1430.66" y="961.58" width="1.63" height="46.31" fill="#752181"/>
<rect x="1432.13" y="961.58" width="1.63" height="46.31" fill="#752181"/>
<rect x="1433.61" y="957.93" width="1.63" height="49.96" fill="#7c2382"/>
<rect x="1435.09" y="960.97" width="1.63" height="46.92" fill="#762181"/>
<rect x="1436.56" y="971.94" width="1.63" height="35.95" fill="#5d177f"/>
<rect x="1438.04" y="983.52" width="1.63" height="24.37" fill="#420f75"/>
<rect x="1439.51" y="993.27" width="1.63" height="14.62" fill="#2a115c"/>
<rect x="1440.99" y="993.27" width="1.63" height="14.62" fill="#2a115c"/>
<rect x="1442.46" y="995.70" width="1.63" height="12.19" fill="#251255"/>
<rect x="1443.94" y="995.70" width="1.63" height="12.19" fill="#251255"/>
<rect x="1445.42" y="983.52" width="1.63" height="24.37" fill="#420f75"/>
<rect x="1446.89" y="967.07" width="1.63" height="40.82" fill="#681c81"/>
<rect x="1448.37" y="960.97" width="1.63" height="46.92" fill="#762181"/>
<rect x="1449.84" y="971.94" width="1.63" height="35.95" fill="#5d177f"/>
<rect x="1451.32" y="998.75" width="1.63" height="9.14" fill="#1e1149"/>
<rect x="1452.80" y="965.85" width="1.63" height="42.04" fill="#6b1d81"/>
<rect x="1454.27" y="985.35" width="1.63" height="22.54" fill="#3f0f72"/>
<rect x="1455.75" y="959.75" width="1.63" height="48.14" fill="#792282"/>
<rect x="1457.22" y="972.55" width="1.63" height="35.34" fill="#5c167f"/>
<rect x="1458.70" y="954.27" width="1.63" height="53.62" fill="#862781"/>
<rect x="1460.18" y="975.60" width="1.63" height="32.29" fill="#56147d"/>
<rect x="1461.65" y="951.22" width="1.63" height="56.67" fill="#8c2981"/>
<rect x="1463.13" y="968.89" width="1.63" height="39.00" fill="#651a80"/>
<rect x="1464.60" y="945.13" width="1.63" height="62.76" fill="#9b2e7f"/>
<rect x="1466.08" y="976.82" width="1.63" height="31.07" fill="#52137c"/>
<rect x="1467.55" y="970.11" width="1.63" height="37.78" fill="#621980"/>
<rect x="1469.03" y="969.50" width="1.63" height="38.39" fill="#641a80"/>
<rect x="1470.51" y="995.09" width="1.63" height="12.80" fill="#271258"/>
<rect x="1471.98" y="970.72" width="1.63" height="37.17" fill="#601880"/>
<rect x="1473.46" y="985.35" width="1.63" height="22.54" fill="#3f0f72"/>
<rect x="1474.93" y="968.89" width="1.63" height="39.00" fill="#651a80"/>
<rect x="1476.41" y="991.44" width="1.63" height="16.45" fill="#2f1163"/>
<rect x="1477.89" y="1003.63" width="1.63" height="4.27" fill="#150e38"/>
<rect x="1479.36" y="971.94" width="1.63" height="35.95" fill="#5d177f"/>
<rect x="1480.84" y="968.29" width="1.63" height="39.61" fill="#651a80"/>
<rect x="1482.31" y="929.90" width="1.63" height="77.99" fill="#bf3a77"/>
<rect x="1483.79" y="947.57" width="1.63" height="60.32" fill="#942c80"/>
<rect x="1485.27" y="920.15" width="1.63" height="87.74" fill="#d5446d"/>
<rect x="1486.74" y="939.65" width="1.63" height="68.24" fill="#a8327d"/>
<rect x="1488.22" y="898.21" width="1.63" height="109.68" fill="#f7705c"/>
<rect x="1489.69" y="898.21" width="1.63" height="109.68" fill="#f7705c"/>
<rect x="1491.17" y="886.03" width="1.63" height="121.86" fill="#fd9266"/>
<rect x="1492.64" y="890.29" width="1.63" height="117.60" fill="#fb8560"/>
<rect x="228.29" y="1264.58" width="1.63" height="7.31" fill="#471365"/>
<rect x="229.76" y="1262.14" width="1.63" height="9.75" fill="#48186a"/>
<rect x="231.24" y="1267.63" width="1.63" height="4.27" fill="#460b5e"/>
<rect x="232.71" y="1271.28" width="1.63" height="0.61" fill="#440256"/>
<rect x="234.19" y="1267.63" width="1.63" height="4.27" fill="#460b5e"/>
<rect x="235.66" y="1268.23" width="1.63" height="3.66" fill="#460a5d"/>
<rect x="237.14" y="1253.00" width="1.63" height="18.89" fill="#472c7a"/>
<rect x="238.61" y="1248.13" width="1.63" height="23.76" fill="#453581"/>
<rect x="240.09" y="1234.11" width="1.63" height="37.78" fill="#3c508b"/>
<rect x="241.57" y="1224.97" width="1.63" height="46.92" fill="#34608d"/>
<rect x="243.04" y="1218.88" width="1.63" height="53.01" fill="#306a8e"/>
<rect x="244.52" y="1226.80" width="1.63" height="45.09" fill="#365d8d"/>
<rect x="245.99" y="1214.01" width="1.63" height="57.88" fill="#2c718e"/>
<rect x="247.47" y="1204.87" width="1.63" height="67.02" fill="#27808e"/>
<rect x="248.94" y="1218.88" width="1.63" height="53.01" fill="#306a8e"/>
<rect x="250.42" y="1214.62" width="1.63" height="57.28" fill="#2d718e"/>
<rect x="251.89" y="1212.79" width="1.63" height="59.10" fill="#2c738e"/>
<rect x="253.37" y="1210.96" width="1.63" height="60.93" fill="#2a768e"/>
<rect x="254.84" y="1210.96" width="1.63" height="60.93" fill="#2a768e"/>
<rect x="256.32" y="1204.26" width="1.63" height="67.63" fill="#26818e"/>
<rect x="257.79" y="1198.77" width="1.63" height="73.12" fill="#23898e"/>
<rect x="259.27" y="1182.32" width="1.63" height="89.57" fill="#1fa287"/>
<rect x="260.75" y="1179.88" width="1.63" height="92.01" fill="#21a685"/>
<rect x="262.22" y="1193.29" width="1.63" height="78.60" fill="#20928c"/>
<rect x="263.70" y="1207.91" width="1.63" height="63.98" fill="#297b8e"/>
<rect x="265.17" y="1206.69" width="1.63" height="65.20" fill="#287d8e"/>
<rect x="266.65" y="1198.77" width="1.63" height="73.12" fill="#23898e"/>
<rect x="268.12" y="1212.79" width="1.63" height="59.10" fill="#2c738e"/>
<rect x="269.60" y="1210.96" width="1.63" height="60.93" fill="#2a768e"/>
<rect x="271.07" y="1201.21" width="1.63" height="70.68" fill="#25858e"/>
<rect x="272.55" y="1191.46" width="1.63" height="80.43" fill="#1f948c"/>
<rect x="274.02" y="1191.46" width="1.63" height="80.43" fill="#1f948c"/>
<rect x="275.50" y="1201.82" width="1.63" height="70.07" fill="#25848e"/>
<rect x="276.97" y="1193.90" width="1.63" height="77.99" fill="#21918c"/>
<rect x="278.45" y="1209.74" width="1.63" height="62.15" fill="#2a788e"/>
<rect x="279.93" y="1196.34" width="1.63" height="75.55" fill="#228d8d"/>
<rect x="281.40" y="1194.51" width="1.63" height="77.38" fill="#21908d"/>
<rect x="282.88" y="1193.90" width="1.63" height="77.99" fill="#21918c"/>
<rect x="284.35" y="1182.32" width="1.63" height="89.57" fill="#1fa287"/>
<rect x="285.83" y="1192.07" width="1.63" height="79.82" fill="#20938c"/>
<rect x="287.30" y="1192.68" width="1.63" height="79.21" fill="#20928c"/>
<rect x="288.78" y="1196.34" width="1.63" height="75.55" fill="#228d8d"/>
<rect x="290.25" y="1191.46" width="1.63" height="80.43" fill="#1f948c"/>
<rect x="291.73" y="1176.23" width="1.63" height="95.66" fill="#25ac82"/>
<rect x="293.20" y="1201.21" width="1.63" height="70.68" fill="#25858e"/>
<rect x="294.68" y="1203.04" width="1.63" height="68.85" fill="#26828e"/>
<rect x="296.16" y="1203.04" width="1.63" height="68.85" fill="#26828e"/>
<rect x="297.63" y="1202.43" width="1.63" height="69.46" fill="#25838e"/>
<rect x="299.11" y="1192.68" width="1.63" height="79.21" fill="#20928c"/>
<rect x="300.58" y="1185.37" width="1.63" height="86.52" fill="#1f9e89"/>
<rect x="302.06" y="1204.87" width="1.63" height="67.02" fill="#27808e"/>
<rect x="303.53" y="1199.99" width="1.63" height="71.90" fill="#24878e"/>
<rect x="305.01" y="1205.48" width="1.63" height="66.41" fill="#277f8e"/>
<rect x="306.48" y="1198.77" width="1.63" height="73.12" fill="#23898e"/>
<rect x="307.96" y="1204.87" width="1.63" height="67.02" fill="#27808e"/>
<rect x="309.43" y="1204.87" width="1.63" height="67.02" fill="#27808e"/>
<rect x="310.91" y="1189.02" width="1.63" height="82.87" fill="#1f988b"/>
<rect x="312.38" y="1185.98" width="1.63" height="85.91" fill="#1e9d89"/>
<rect x="313.86" y="1198.16" width="1.63" height="73.73" fill="#238a8d"/>
<rect x="315.34" y="1203.04" width="1.63" height="68.85" fill="#26828e"/>
<rect x="316.81" y="1189.02" width="1.63" height="82.87" fill="#1f988b"/>
<rect x="318.29" y="1171.35" width="1.63" height="100.54" fill="#2fb47c"/>
<rect x="319.76" y="1206.69" width="1.63" height="65.20" fill="#287d8e"/>
<rect x="321.24" y="1207.91" width="1.63" height="63.98" fill="#297b8e"/>
<rect x="322.71" y="1198.16" width="1.63" height="73.73" fill="#238a8d"/>
<rect x="324.19" y="1177.45" width="1.63" height="94.44" fill="#24aa83"/>
<rect x="325.66" y="1143.94" width="1.63" height="127.96" fill="#8bd646"/>
<rect x="327.14" y="1208.52" width="1.63" height="63.37" fill="#297a8e"/>
<rect x="328.61" y="1218.88" width="1.63" height="53.01" fill="#306a8e"/>
<rect x="330.09" y="1206.08" width="1.63" height="65.81" fill="#277e8e"/>
<rect x="331.56" y="1199.99" width="1.63" height="71.90" fill="#24878e"/>
<rect x="333.04" y="1226.80" width="1.63" height="45.09" fill="#365d8d"/>
<rect x="334.52" y="1235.94" width="1.63" height="35.95" fill="#3d4d8a"/>
<rect x="335.99" y="1235.94" width="1.63" height="35.95" fill="#3d4d8a"/>
<rect x="337.47" y="1218.88" width="1.63" height="53.01" fill="#306a8e"/>
<rect x="338.94" y="1221.93" width="1.63" height="49.96" fill="#32658e"/>
<rect x="340.42" y="1224.36" width="1.63" height="47.53" fill="#34618d"/>
<rect x="341.89" y="1238.99" width="1.63" height="32.90" fill="#3f4788"/>
<rect x="343.37" y="1236.55" width="1.63" height="35.34" fill="#3e4c8a"/>
<rect x="344.84" y="1229.24" width="1.63" height="42.65" fill="#38598c"/>
<rect x="346.32" y="1239.60" width="1.63" height="32.29" fill="#404688"/>
<rect x="347.79" y="1248.74" width="1.63" height="23.15" fill="#463480"/>
<rect x="349.27" y="1245.69" width="1.63" height="26.20" fill="#443a83"/>
<rect x="350.74" y="1266.41" width="1.63" height="5.48" fill="#470e61"/>
<rect x="408.77" y="1265.80" width="1.60" height="6.09" fill="#471063"/>
<rect x="410.23" y="1260.31" width="1.60" height="11.58" fill="#481c6e"/>
<rect x="411.68" y="1256.05" width="1.60" height="15.84" fill="#482576"/>
<rect x="413.13" y="1245.08" width="1.60" height="26.81" fill="#443b84"/>
<rect x="414.59" y="1245.08" width="1.60" height="26.81" fill="#443b84"/>
<rect x="416.04" y="1224.36" width="1.60" height="47.53" fill="#34618d"/>
<rect x="417.49" y="1228.02" width="1.60" height="43.87" fill="#375b8d"/>
<rect x="418.95" y="1224.97" width="1.60" height="46.92" fill="#34608d"/>
<rect x="420.40" y="1218.88" width="1.60" height="53.01" fill="#306a8e"/>
<rect x="421.85" y="1198.16" width="1.60" height="73.73" fill="#238a8d"/>
<rect x="423.31" y="1194.51" width="1.60" height="77.38" fill="#21908d"/>
<rect x="424.76" y="1193.90" width="1.60" height="77.99" fill="#21918c"/>
<rect x="426.22" y="1184.76" width="1.60" height="87.13" fill="#1f9f88"/>
<rect x="427.67" y="1202.43" width="1.60" height="69.46" fill="#25838e"/>
<rect x="429.12" y="1203.04" width="1.60" height="68.85" fill="#26828e"/>
<rect x="430.58" y="1173.79" width="1.60" height="98.10" fill="#29af7f"/>
<rect x="432.03" y="1203.04" width="1.60" height="68.85" fill="#26828e"/>
<rect x="433.48" y="1203.04" width="1.60" height="68.85" fill="#26828e"/>
<rect x="434.94" y="1186.59" width="1.60" height="85.30" fill="#1e9c89"/>
<rect x="436.39" y="1179.28" width="1.60" height="92.62" fill="#22a785"/>
<rect x="437.84" y="1181.71" width="1.60" height="90.18" fill="#20a386"/>
<rect x="439.30" y="1190.24" width="1.60" height="81.65" fill="#1f968b"/>
<rect x="440.75" y="1184.76" width="1.60" height="87.13" fill="#1f9f88"/>
<rect x="442.20" y="1195.12" width="1.60" height="76.77" fill="#218f8d"/>
<rect x="443.66" y="1201.82" width="1.60" height="70.07" fill="#25848e"/>
<rect x="445.11" y="1189.63" width="1.60" height="82.26" fill="#1f978b"/>
<rect x="446.56" y="1184.15" width="1.60" height="87.74" fill="#1fa088"/>
<rect x="448.02" y="1189.63" width="1.60" height="82.26" fill="#1f978b"/>
<rect x="449.47" y="1195.12" width="1.60" height="76.77" fill="#218f8d"/>
<rect x="450.92" y="1198.16" width="1.60" height="73.73" fill="#238a8d"/>
<rect x="452.38" y="1197.55" width="1.60" height="74.34" fill="#228b8d"/>
<rect x="453.83" y="1196.95" width="1.60" height="74.95" fill="#228c8d"/>
<rect x="455.28" y="1185.98" width="1.60" height="85.91" fill="#1e9d89"/>
<rect x="456.74" y="1196.95" width="1.60" height="74.95" fill="#228c8d"/>
<rect x="458.19" y="1184.15" width="1.60" height="87.74" fill="#1fa088"/>
<rect x="459.64" y="1199.38" width="1.60" height="72.51" fill="#23888e"/>
<rect x="461.10" y="1203.04" width="1.60" height="68.85" fill="#26828e"/>
<rect x="462.55" y="1198.16" width="1.60" height="73.73" fill="#238a8d"/>
<rect x="464.00" y="1195.12" width="1.60" height="76.77" fill="#218f8d"/>
<rect x="465.46" y="1198.16" width="1.60" height="73.73" fill="#238a8d"/>
<rect x="466.91" y="1185.37" width="1.60" height="86.52" fill="#1f9e89"/>
<rect x="468.36" y="1188.41" width="1.60" height="83.48" fill="#1f998a"/>
<rect x="469.82" y="1193.90" width="1.60" height="77.99" fill="#21918c"/>
<rect x="471.27" y="1183.54" width="1.60" height="88.35" fill="#1fa188"/>
<rect x="472.72" y="1198.16" width="1.60" height="73.73" fill="#238a8d"/>
<rect x="474.18" y="1198.16" width="1.60" height="73.73" fill="#238a8d"/>
<rect x="475.63" y="1210.35" width="1.60" height="61.54" fill="#2a778e"/>
<rect x="477.09" y="1201.21" width="1.60" height="70.68" fill="#25858e"/>
<rect x="478.54" y="1205.48" width="1.60" height="66.41" fill="#277f8e"/>
<rect x="479.99" y="1195.73" width="1.60" height="76.16" fill="#218e8d"/>
<rect x="481.45" y="1189.63" width="1.60" height="82.26" fill="#1f978b"/>
<rect x="482.90" y="1194.51" width="1.60" height="77.38" fill="#21908d"/>
<rect x="484.35" y="1200.60" width="1.60" height="71.29" fill="#24868e"/>
<rect x="485.81" y="1203.65" width="1.60" height="68.24" fill="#26828e"/>
<rect x="487.26" y="1211.57" width="1.60" height="60.32" fill="#2b758e"/>
<rect x="488.71" y="1211.57" width="1.60" height="60.32" fill="#2b758e"/>
<rect x="490.17" y="1187.81" width="1.60" height="84.08" fill="#1f9a8a"/>
<rect x="491.62" y="1206.69" width="1.60" height="65.20" fill="#287d8e"/>
<rect x="493.07" y="1206.69" width="1.60" height="65.20" fill="#287d8e"/>
<rect x="494.53" y="1206.08" width="1.60" height="65.81" fill="#277e8e"/>
<rect x="495.98" y="1215.83" width="1.60" height="56.06" fill="#2e6f8e"/>
<rect x="497.43" y="1196.34" width="1.60" height="75.55" fill="#228d8d"/>
<rect x="498.89" y="1214.62" width="1.60" height="57.28" fill="#2d718e"/>
<rect x="500.34" y="1209.74" width="1.60" height="62.15" fill="#2a788e"/>
<rect x="501.79" y="1215.22" width="1.60" height="56.67" fill="#2d708e"/>
<rect x="503.25" y="1219.49" width="1.60" height="52.40" fill="#30698e"/>
<rect x="504.70" y="1220.10" width="1.60" height="51.79" fill="#31688e"/>
<rect x="506.15" y="1212.18" width="1.60" height="59.71" fill="#2b748e"/>
<rect x="507.61" y="1212.18" width="1.60" height="59.71" fill="#2b748e"/>
<rect x="509.06" y="1204.87" width="1.60" height="67.02" fill="#27808e"/>
<rect x="510.51" y="1212.18" width="1.60" height="59.71" fill="#2b748e"/>
<rect x="511.97" y="1221.32" width="1.60" height="50.57" fill="#31668e"/>
<rect x="513.42" y="1217.05" width="1.60" height="54.84" fill="#2e6d8e"/>
<rect x="514.87" y="1224.36" width="1.60" height="47.53" fill="#34618d"/>
<rect x="516.33" y="1234.11" width="1.60" height="37.78" fill="#3c508b"/>
<rect x="517.78" y="1253.00" width="1.60" height="18.89" fill="#472c7a"/>
<rect x="519.23" y="1263.97" width="1.60" height="7.92" fill="#481467"/>
<rect x="520.69" y="1259.70" width="1.60" height="12.19" fill="#481d6f"/>
<rect x="522.14" y="1263.97" width="1.60" height="7.92" fill="#481467"/>
<rect x="523.59" y="1265.80" width="1.60" height="6.09" fill="#471063"/>
<rect x="525.05" y="1262.14" width="1.60" height="9.75" fill="#48186a"/>
<rect x="526.50" y="1270.06" width="1.60" height="1.83" fill="#450559"/>
<rect x="584.36" y="1263.36" width="1.60" height="8.53" fill="#481668"/>
<rect x="585.81" y="1257.27" width="1.60" height="14.62" fill="#482374"/>
<rect x="587.26" y="1240.82" width="1.60" height="31.07" fill="#414487"/>
<rect x="588.71" y="1240.82" width="1.60" height="31.07" fill="#414487"/>
<rect x="590.16" y="1226.80" width="1.60" height="45.09" fill="#365d8d"/>
<rect x="591.61" y="1240.82" width="1.60" height="31.07" fill="#414487"/>
<rect x="593.06" y="1229.24" width="1.60" height="42.65" fill="#38598c"/>
<rect x="594.51" y="1225.58" width="1.60" height="46.31" fill="#355f8d"/>
<rect x="595.96" y="1224.36" width="1.60" height="47.53" fill="#34618d"/>
<rect x="597.41" y="1225.58" width="1.60" height="46.31" fill="#355f8d"/>
<rect x="598.86" y="1225.58" width="1.60" height="46.31" fill="#355f8d"/>
<rect x="600.31" y="1173.18" width="1.60" height="98.71" fill="#2ab07f"/>
<rect x="601.76" y="1185.37" width="1.60" height="86.52" fill="#1f9e89"/>
<rect x="603.21" y="1167.70" width="1.60" height="104.19" fill="#38b977"/>
<rect x="604.66" y="1181.10" width="1.60" height="90.79" fill="#20a486"/>
<rect x="606.11" y="1137.23" width="1.60" height="134.66" fill="#a8db34"/>
<rect x="607.56" y="1137.23" width="1.60" height="134.66" fill="#a8db34"/>
<rect x="609.01" y="1145.15" width="1.60" height="126.74" fill="#86d549"/>
<rect x="610.46" y="1184.76" width="1.60" height="87.13" fill="#1f9f88"/>
<rect x="611.91" y="1187.81" width="1.60" height="84.08" fill="#1f9a8a"/>
<rect x="613.36" y="1195.73" width="1.60" height="76.16" fill="#218e8d"/>
<rect x="614.81" y="1182.32" width="1.60" height="89.57" fill="#1fa287"/>
<rect x="616.26" y="1189.02" width="1.60" height="82.87" fill="#1f988b"/>
<rect x="617.71" y="1182.32" width="1.60" height="89.57" fill="#1fa287"/>
<rect x="619.16" y="1182.93" width="1.60" height="88.96" fill="#1fa187"/>
<rect x="620.61" y="1190.85" width="1.60" height="81.04" fill="#1f958b"/>
<rect x="622.06" y="1184.76" width="1.60" height="87.13" fill="#1f9f88"/>
<rect x="623.51" y="1190.85" width="1.60" height="81.04" fill="#1f958b"/>
<rect x="624.96" y="1186.59" width="1.60" height="85.30" fill="#1e9c89"/>
<rect x="626.41" y="1198.77" width="1.60" height="73.12" fill="#23898e"/>
<rect x="627.86" y="1201.82" width="1.60" height="70.07" fill="#25848e"/>
<rect x="629.31" y="1198.77" width="1.60" height="73.12" fill="#23898e"/>
<rect x="630.76" y="1198.16" width="1.60" height="73.73" fill="#238a8d"/>
<rect x="632.21" y="1198.16" width="1.60" height="73.73" fill="#238a8d"/>
<rect x="633.66" y="1196.34" width="1.60" height="75.55" fill="#228d8d"/>
<rect x="635.11" y="1206.69" width="1.60" height="65.20" fill="#287d8e"/>
<rect x="636.56" y="1195.12" width="1.60" height="76.77" fill="#218f8d"/>
<rect x="638.01" y="1190.24" width="1.60" height="81.65" fill="#1f968b"/>
<rect x="639.46" y="1199.38" width="1.60" height="72.51" fill="#23888e"/>
<rect x="640.91" y="1203.04" width="1.60" height="68.85" fill="#26828e"/>
<rect x="642.36" y="1206.69" width="1.60" height="65.20" fill="#287d8e"/>
<rect x="643.81" y="1198.16" width="1.60" height="73.73" fill="#238a8d"/>
<rect x="645.26" y="1199.99" width="1.60" height="71.90" fill="#24878e"/>
<rect x="646.71" y="1203.04" width="1.60" height="68.85" fill="#26828e"/>
<rect x="648.16" y="1209.74" width="1.60" height="62.15" fill="#2a788e"/>
<rect x="649.61" y="1214.62" width="1.60" height="57.28" fill="#2d718e"/>
<rect x="651.06" y="1209.74" width="1.60" height="62.15" fill="#2a788e"/>
<rect x="652.51" y="1227.41" width="1.60" height="44.48" fill="#365c8d"/>
<rect x="653.96" y="1212.79" width="1.60" height="59.10" fill="#2c738e"/>
<rect x="655.41" y="1206.08" width="1.60" height="65.81" fill="#277e8e"/>
<rect x="656.86" y="1210.35" width="1.60" height="61.54" fill="#2a778e"/>
<rect x="658.31" y="1198.16" width="1.60" height="73.73" fill="#238a8d"/>
<rect x="659.76" y="1203.04" width="1.60" height="68.85" fill="#26828e"/>
<rect x="661.21" y="1206.08" width="1.60" height="65.81" fill="#277e8e"/>
<rect x="662.66" y="1195.12" width="1.60" height="76.77" fill="#218f8d"/>
<rect x="664.11" y="1214.01" width="1.60" height="57.88" fill="#2c718e"/>
<rect x="665.56" y="1214.01" width="1.60" height="57.88" fill="#2c718e"/>
<rect x="667.01" y="1207.91" width="1.60" height="63.98" fill="#297b8e"/>
<rect x="668.46" y="1204.87" width="1.60" height="67.02" fill="#27808e"/>
<rect x="669.91" y="1209.13" width="1.60" height="62.76" fill="#29798e"/>
<rect x="671.36" y="1209.13" width="1.60" height="62.76" fill="#29798e"/>
<rect x="672.81" y="1210.35" width="1.60" height="61.54" fill="#2a778e"/>
<rect x="674.26" y="1206.08" width="1.60" height="65.81" fill="#277e8e"/>
<rect x="675.71" y="1214.01" width="1.60" height="57.88" fill="#2c718e"/>
<rect x="677.16" y="1205.48" width="1.60" height="66.41" fill="#277f8e"/>
<rect x="678.61" y="1204.87" width="1.60" height="67.02" fill="#27808e"/>
<rect x="680.06" y="1203.65" width="1.60" height="68.24" fill="#26828e"/>
<rect x="681.51" y="1208.52" width="1.60" height="63.37" fill="#297a8e"/>
<rect x="682.96" y="1228.63" width="1.60" height="43.26" fill="#375a8c"/>
<rect x="684.41" y="1229.24" width="1.60" height="42.65" fill="#38598c"/>
<rect x="685.86" y="1236.55" width="1.60" height="35.34" fill="#3e4c8a"/>
<rect x="687.31" y="1237.16" width="1.60" height="34.73" fill="#3e4a89"/>
<rect x="688.76" y="1232.29" width="1.60" height="39.61" fill="#3a538b"/>
<rect x="690.21" y="1251.78" width="1.60" height="20.11" fill="#472e7c"/>
<rect x="691.66" y="1263.97" width="1.60" height="7.92" fill="#481467"/>
<rect x="693.11" y="1266.41" width="1.60" height="5.48" fill="#470e61"/>
<rect x="694.56" y="1260.92" width="1.60" height="10.97" fill="#481b6d"/>
<rect x="696.01" y="1254.22" width="1.60" height="17.67" fill="#482979"/>
<rect x="697.46" y="1263.36" width="1.60" height="8.53" fill="#481668"/>
<rect x="754.36" y="1263.36" width="1.60" height="8.53" fill="#481668"/>
<rect x="755.80" y="1266.41" width="1.60" height="5.48" fill="#470e61"/>
<rect x="757.25" y="1271.28" width="1.60" height="0.61" fill="#440256"/>
<rect x="758.69" y="1265.19" width="1.60" height="6.70" fill="#471164"/>
<rect x="760.14" y="1265.19" width="1.60" height="6.70" fill="#471164"/>
<rect x="761.58" y="1244.47" width="1.60" height="27.42" fill="#433d84"/>
<rect x="763.03" y="1237.16" width="1.60" height="34.73" fill="#3e4a89"/>
<rect x="764.47" y="1253.61" width="1.60" height="18.28" fill="#472a7a"/>
<rect x="765.92" y="1243.25" width="1.60" height="28.64" fill="#423f85"/>
<rect x="767.36" y="1219.49" width="1.60" height="52.40" fill="#30698e"/>
<rect x="768.81" y="1197.55" width="1.60" height="74.34" fill="#228b8d"/>
<rect x="770.26" y="1193.90" width="1.60" height="77.99" fill="#21918c"/>
<rect x="771.70" y="1201.21" width="1.60" height="70.68" fill="#25858e"/>
<rect x="773.15" y="1201.82" width="1.60" height="70.07" fill="#25848e"/>
<rect x="774.59" y="1199.38" width="1.60" height="72.51" fill="#23888e"/>
<rect x="776.04" y="1205.48" width="1.60" height="66.41" fill="#277f8e"/>
<rect x="777.48" y="1205.48" width="1.60" height="66.41" fill="#277f8e"/>
<rect x="778.93" y="1177.45" width="1.60" height="94.44" fill="#24aa83"/>
<rect x="780.37" y="1161.00" width="1.60" height="110.89" fill="#4cc26c"/>
<rect x="781.82" y="1132.36" width="1.60" height="139.53" fill="#bddf26"/>
<rect x="783.26" y="1178.06" width="1.60" height="93.83" fill="#23a983"/>
<rect x="784.71" y="1198.16" width="1.60" height="73.73" fill="#238a8d"/>
<rect x="786.15" y="1190.24" width="1.60" height="81.65" fill="#1f968b"/>
<rect x="787.60" y="1174.40" width="1.60" height="97.49" fill="#28ae80"/>
<rect x="789.04" y="1181.71" width="1.60" height="90.18" fill="#20a386"/>
<rect x="790.49" y="1192.68" width="1.60" height="79.21" fill="#20928c"/>
<rect x="791.93" y="1189.63" width="1.60" height="82.26" fill="#1f978b"/>
<rect x="793.38" y="1196.95" width="1.60" height="74.95" fill="#228c8d"/>
<rect x="794.82" y="1203.04" width="1.60" height="68.85" fill="#26828e"/>
<rect x="796.27" y="1198.16" width="1.60" height="73.73" fill="#238a8d"/>
<rect x="797.71" y="1204.87" width="1.60" height="67.02" fill="#27808e"/>
<rect x="799.16" y="1194.51" width="1.60" height="77.38" fill="#21908d"/>
<rect x="800.60" y="1180.49" width="1.60" height="91.40" fill="#21a585"/>
<rect x="802.05" y="1187.81" width="1.60" height="84.08" fill="#1f9a8a"/>
<rect x="803.49" y="1181.10" width="1.60" height="90.79" fill="#20a486"/>
<rect x="804.94" y="1181.71" width="1.60" height="90.18" fill="#20a386"/>
<rect x="806.38" y="1191.46" width="1.60" height="80.43" fill="#1f948c"/>
<rect x="807.83" y="1191.46" width="1.60" height="80.43" fill="#1f948c"/>
<rect x="809.27" y="1203.04" width="1.60" height="68.85" fill="#26828e"/>
<rect x="810.72" y="1190.85" width="1.60" height="81.04" fill="#1f958b"/>
<rect x="812.16" y="1188.41" width="1.60" height="83.48" fill="#1f998a"/>
<rect x="813.61" y="1183.54" width="1.60" height="88.35" fill="#1fa188"/>
<rect x="815.05" y="1192.07" width="1.60" height="79.82" fill="#20938c"/>
<rect x="816.50" y="1182.93" width="1.60" height="88.96" fill="#1fa187"/>
<rect x="817.95" y="1192.68" width="1.60" height="79.21" fill="#20928c"/>
<rect x="819.39" y="1206.08" width="1.60" height="65.81" fill="#277e8e"/>
<rect x="820.84" y="1204.26" width="1.60" height="67.63" fill="#26818e"/>
<rect x="822.28" y="1204.87" width="1.60" height="67.02" fill="#27808e"/>
<rect x="823.73" y="1195.12" width="1.60" height="76.77" fill="#218f8d"/>
<rect x="825.17" y="1193.29" width="1.60" height="78.60" fill="#20928c"/>
<rect x="826.62" y="1184.76" width="1.60" height="87.13" fill="#1f9f88"/>
<rect x="828.06" y="1209.13" width="1.60" height="62.76" fill="#29798e"/>
<rect x="829.51" y="1211.57" width="1.60" height="60.32" fill="#2b758e"/>
<rect x="830.95" y="1210.96" width="1.60" height="60.93" fill="#2a768e"/>
<rect x="832.40" y="1214.62" width="1.60" height="57.28" fill="#2d718e"/>
<rect x="833.84" y="1211.57" width="1.60" height="60.32" fill="#2b758e"/>
<rect x="835.29" y="1183.54" width="1.60" height="88.35" fill="#1fa188"/>
<rect x="836.73" y="1207.91" width="1.60" height="63.98" fill="#297b8e"/>
<rect x="838.18" y="1206.69" width="1.60" height="65.20" fill="#287d8e"/>
<rect x="839.62" y="1204.87" width="1.60" height="67.02" fill="#27808e"/>
<rect x="841.07" y="1205.48" width="1.60" height="66.41" fill="#277f8e"/>
<rect x="842.51" y="1215.83" width="1.60" height="56.06" fill="#2e6f8e"/>
<rect x="843.96" y="1214.01" width="1.60" height="57.88" fill="#2c718e"/>
<rect x="845.40" y="1229.24" width="1.60" height="42.65" fill="#38598c"/>
<rect x="846.85" y="1210.35" width="1.60" height="61.54" fill="#2a778e"/>
<rect x="848.29" y="1229.24" width="1.60" height="42.65" fill="#38598c"/>
<rect x="849.74" y="1224.97" width="1.60" height="46.92" fill="#34608d"/>
<rect x="851.18" y="1213.40" width="1.60" height="58.49" fill="#2c728e"/>
<rect x="852.63" y="1234.72" width="1.60" height="37.17" fill="#3c4f8a"/>
<rect x="854.07" y="1219.49" width="1.60" height="52.40" fill="#30698e"/>
<rect x="855.52" y="1229.24" width="1.60" height="42.65" fill="#38598c"/>
<rect x="856.96" y="1258.49" width="1.60" height="13.40" fill="#482071"/>
<rect x="858.41" y="1263.97" width="1.60" height="7.92" fill="#481467"/>
<rect x="859.85" y="1265.19" width="1.60" height="6.70" fill="#471164"/>
<rect x="861.30" y="1265.19" width="1.60" height="6.70" fill="#471164"/>
<rect x="862.75" y="1256.05" width="1.60" height="15.84" fill="#482576"/>
<rect x="864.19" y="1257.88" width="1.60" height="14.01" fill="#482173"/>
<rect x="865.64" y="1271.28" width="1.60" height="0.61" fill="#440256"/>
<rect x="923.21" y="1263.97" width="1.60" height="7.92" fill="#481467"/>
<rect x="924.66" y="1265.19" width="1.60" height="6.70" fill="#471164"/>
<rect x="926.11" y="1269.45" width="1.60" height="2.44" fill="#46075a"/>
<rect x="927.56" y="1263.36" width="1.60" height="8.53" fill="#481668"/>
<rect x="929.01" y="1246.91" width="1.60" height="24.98" fill="#453882"/>
<rect x="930.46" y="1242.64" width="1.60" height="29.25" fill="#424086"/>
<rect x="931.91" y="1234.11" width="1.60" height="37.78" fill="#3c508b"/>
<rect x="933.36" y="1221.93" width="1.60" height="49.96" fill="#32658e"/>
<rect x="934.81" y="1219.49" width="1.60" height="52.40" fill="#30698e"/>
<rect x="936.26" y="1219.49" width="1.60" height="52.40" fill="#30698e"/>
<rect x="937.71" y="1220.10" width="1.60" height="51.79" fill="#31688e"/>
<rect x="939.16" y="1219.49" width="1.60" height="52.40" fill="#30698e"/>
<rect x="940.61" y="1213.40" width="1.60" height="58.49" fill="#2c728e"/>
<rect x="942.06" y="1208.52" width="1.60" height="63.37" fill="#297a8e"/>
<rect x="943.51" y="1177.45" width="1.60" height="94.44" fill="#24aa83"/>
<rect x="944.96" y="1214.62" width="1.60" height="57.28" fill="#2d718e"/>
<rect x="946.41" y="1216.44" width="1.60" height="55.45" fill="#2e6e8e"/>
<rect x="947.86" y="1208.52" width="1.60" height="63.37" fill="#297a8e"/>
<rect x="949.31" y="1201.21" width="1.60" height="70.68" fill="#25858e"/>
<rect x="950.76" y="1184.15" width="1.60" height="87.74" fill="#1fa088"/>
<rect x="952.20" y="1194.51" width="1.60" height="77.38" fill="#21908d"/>
<rect x="953.65" y="1221.93" width="1.60" height="49.96" fill="#32658e"/>
<rect x="955.10" y="1217.05" width="1.60" height="54.84" fill="#2e6d8e"/>
<rect x="956.55" y="1224.97" width="1.60" height="46.92" fill="#34608d"/>
<rect x="958.00" y="1206.08" width="1.60" height="65.81" fill="#277e8e"/>
<rect x="959.45" y="1218.88" width="1.60" height="53.01" fill="#306a8e"/>
<rect x="960.90" y="1212.18" width="1.60" height="59.71" fill="#2b748e"/>
<rect x="962.35" y="1217.05" width="1.60" height="54.84" fill="#2e6d8e"/>
<rect x="963.80" y="1229.24" width="1.60" height="42.65" fill="#38598c"/>
<rect x="965.25" y="1224.97" width="1.60" height="46.92" fill="#34608d"/>
<rect x="966.70" y="1190.85" width="1.60" height="81.04" fill="#1f958b"/>
<rect x="968.15" y="1207.91" width="1.60" height="63.98" fill="#297b8e"/>
<rect x="969.60" y="1209.74" width="1.60" height="62.15" fill="#2a788e"/>
<rect x="971.05" y="1187.81" width="1.60" height="84.08" fill="#1f9a8a"/>
<rect x="972.50" y="1198.77" width="1.60" height="73.12" fill="#23898e"/>
<rect x="973.95" y="1197.55" width="1.60" height="74.34" fill="#228b8d"/>
<rect x="975.40" y="1196.95" width="1.60" height="74.95" fill="#228c8d"/>
<rect x="976.85" y="1196.95" width="1.60" height="74.95" fill="#228c8d"/>
<rect x="978.30" y="1189.63" width="1.60" height="82.26" fill="#1f978b"/>
<rect x="979.75" y="1195.73" width="1.60" height="76.16" fill="#218e8d"/>
<rect x="981.20" y="1195.73" width="1.60" height="76.16" fill="#218e8d"/>
<rect x="982.65" y="1184.15" width="1.60" height="87.74" fill="#1fa088"/>
<rect x="984.10" y="1193.90" width="1.60" height="77.99" fill="#21918c"/>
<rect x="985.55" y="1195.12" width="1.60" height="76.77" fill="#218f8d"/>
<rect x="987.00" y="1209.13" width="1.60" height="62.76" fill="#29798e"/>
<rect x="988.45" y="1189.63" width="1.60" height="82.26" fill="#1f978b"/>
<rect x="989.90" y="1201.21" width="1.60" height="70.68" fill="#25858e"/>
<rect x="991.35" y="1207.91" width="1.60" height="63.98" fill="#297b8e"/>
<rect x="992.80" y="1201.21" width="1.60" height="70.68" fill="#25858e"/>
<rect x="994.25" y="1195.12" width="1.60" height="76.77" fill="#218f8d"/>
<rect x="995.70" y="1203.65" width="1.60" height="68.24" fill="#26828e"/>
<rect x="997.15" y="1204.26" width="1.60" height="67.63" fill="#26818e"/>
<rect x="998.59" y="1210.96" width="1.60" height="60.93" fill="#2a768e"/>
<rect x="1000.04" y="1210.96" width="1.60" height="60.93" fill="#2a768e"/>
<rect x="1001.49" y="1207.30" width="1.60" height="64.59" fill="#287c8e"/>
<rect x="1002.94" y="1201.21" width="1.60" height="70.68" fill="#25858e"/>
<rect x="1004.39" y="1200.60" width="1.60" height="71.29" fill="#24868e"/>
<rect x="1005.84" y="1190.24" width="1.60" height="81.65" fill="#1f968b"/>
<rect x="1007.29" y="1181.10" width="1.60" height="90.79" fill="#20a486"/>
<rect x="1008.74" y="1154.90" width="1.60" height="116.99" fill="#60ca60"/>
<rect x="1010.19" y="1160.39" width="1.60" height="111.50" fill="#4ec36b"/>
<rect x="1011.64" y="1217.05" width="1.60" height="54.84" fill="#2e6d8e"/>
<rect x="1013.09" y="1187.81" width="1.60" height="84.08" fill="#1f9a8a"/>
<rect x="1014.54" y="1189.63" width="1.60" height="82.26" fill="#1f978b"/>
<rect x="1015.99" y="1229.85" width="1.60" height="42.04" fill="#38588c"/>
<rect x="1017.44" y="1219.49" width="1.60" height="52.40" fill="#30698e"/>
<rect x="1018.89" y="1223.15" width="1.60" height="48.74" fill="#33638d"/>
<rect x="1020.34" y="1234.11" width="1.60" height="37.78" fill="#3c508b"/>
<rect x="1021.79" y="1228.02" width="1.60" height="43.87" fill="#375b8d"/>
<rect x="1023.24" y="1229.24" width="1.60" height="42.65" fill="#38598c"/>
<rect x="1024.69" y="1229.85" width="1.60" height="42.04" fill="#38588c"/>
<rect x="1026.14" y="1251.17" width="1.60" height="20.72" fill="#472f7d"/>
<rect x="1027.59" y="1260.31" width="1.60" height="11.58" fill="#481c6e"/>
<rect x="1029.04" y="1266.41" width="1.60" height="5.48" fill="#470e61"/>
<rect x="1030.49" y="1249.96" width="1.60" height="21.94" fill="#46327e"/>
<rect x="1031.94" y="1260.92" width="1.60" height="10.97" fill="#481b6d"/>
<rect x="1033.39" y="1260.92" width="1.60" height="10.97" fill="#481b6d"/>
<rect x="1090.19" y="1265.80" width="1.59" height="6.09" fill="#471063"/>
<rect x="1091.62" y="1265.80" width="1.59" height="6.09" fill="#471063"/>
<rect x="1093.06" y="1250.56" width="1.59" height="21.33" fill="#46307e"/>
<rect x="1094.50" y="1234.11" width="1.59" height="37.78" fill="#3c508b"/>
<rect x="1095.94" y="1234.11" width="1.59" height="37.78" fill="#3c508b"/>
<rect x="1097.38" y="1234.72" width="1.59" height="37.17" fill="#3c4f8a"/>
<rect x="1098.81" y="1235.94" width="1.59" height="35.95" fill="#3d4d8a"/>
<rect x="1100.25" y="1225.58" width="1.59" height="46.31" fill="#355f8d"/>
<rect x="1101.69" y="1232.89" width="1.59" height="39.00" fill="#3b528b"/>
<rect x="1103.13" y="1192.07" width="1.59" height="79.82" fill="#20938c"/>
<rect x="1104.57" y="1189.63" width="1.59" height="82.26" fill="#1f978b"/>
<rect x="1106.00" y="1189.02" width="1.59" height="82.87" fill="#1f988b"/>
<rect x="1107.44" y="1171.96" width="1.59" height="99.93" fill="#2eb37c"/>
<rect x="1108.88" y="1189.63" width="1.59" height="82.26" fill="#1f978b"/>
<rect x="1110.32" y="1203.65" width="1.59" height="68.24" fill="#26828e"/>
<rect x="1111.76" y="1191.46" width="1.59" height="80.43" fill="#1f948c"/>
<rect x="1113.19" y="1190.85" width="1.59" height="81.04" fill="#1f958b"/>
<rect x="1114.63" y="1205.48" width="1.59" height="66.41" fill="#277f8e"/>
<rect x="1116.07" y="1193.90" width="1.59" height="77.99" fill="#21918c"/>
<rect x="1117.51" y="1187.81" width="1.59" height="84.08" fill="#1f9a8a"/>
<rect x="1118.95" y="1193.90" width="1.59" height="77.99" fill="#21918c"/>
<rect x="1120.38" y="1188.41" width="1.59" height="83.48" fill="#1f998a"/>
<rect x="1121.82" y="1196.34" width="1.59" height="75.55" fill="#228d8d"/>
<rect x="1123.26" y="1196.95" width="1.59" height="74.95" fill="#228c8d"/>
<rect x="1124.70" y="1185.98" width="1.59" height="85.91" fill="#1e9d89"/>
<rect x="1126.14" y="1192.68" width="1.59" height="79.21" fill="#20928c"/>
<rect x="1127.57" y="1201.82" width="1.59" height="70.07" fill="#25848e"/>
<rect x="1129.01" y="1194.51" width="1.59" height="77.38" fill="#21908d"/>
<rect x="1130.45" y="1207.91" width="1.59" height="63.98" fill="#297b8e"/>
<rect x="1131.89" y="1199.38" width="1.59" height="72.51" fill="#23888e"/>
<rect x="1133.33" y="1194.51" width="1.59" height="77.38" fill="#21908d"/>
<rect x="1134.76" y="1207.30" width="1.59" height="64.59" fill="#287c8e"/>
<rect x="1136.20" y="1255.44" width="1.59" height="16.45" fill="#482677"/>
<rect x="1137.64" y="1210.96" width="1.59" height="60.93" fill="#2a768e"/>
<rect x="1139.08" y="1197.55" width="1.59" height="74.34" fill="#228b8d"/>
<rect x="1140.52" y="1193.29" width="1.59" height="78.60" fill="#20928c"/>
<rect x="1141.95" y="1203.04" width="1.59" height="68.85" fill="#26828e"/>
<rect x="1143.39" y="1203.65" width="1.59" height="68.24" fill="#26828e"/>
<rect x="1144.83" y="1204.26" width="1.59" height="67.63" fill="#26818e"/>
<rect x="1146.27" y="1215.83" width="1.59" height="56.06" fill="#2e6f8e"/>
<rect x="1147.71" y="1201.82" width="1.59" height="70.07" fill="#25848e"/>
<rect x="1149.14" y="1211.57" width="1.59" height="60.32" fill="#2b758e"/>
<rect x="1150.58" y="1214.01" width="1.59" height="57.88" fill="#2c718e"/>
<rect x="1152.02" y="1208.52" width="1.59" height="63.37" fill="#297a8e"/>
<rect x="1153.46" y="1198.77" width="1.59" height="73.12" fill="#23898e"/>
<rect x="1154.89" y="1204.87" width="1.59" height="67.02" fill="#27808e"/>
<rect x="1156.33" y="1210.96" width="1.59" height="60.93" fill="#2a768e"/>
<rect x="1157.77" y="1213.40" width="1.59" height="58.49" fill="#2c728e"/>
<rect x="1159.21" y="1201.21" width="1.59" height="70.68" fill="#25858e"/>
<rect x="1160.65" y="1204.26" width="1.59" height="67.63" fill="#26818e"/>
<rect x="1162.08" y="1213.40" width="1.59" height="58.49" fill="#2c728e"/>
<rect x="1163.52" y="1213.40" width="1.59" height="58.49" fill="#2c728e"/>
<rect x="1164.96" y="1219.49" width="1.59" height="52.40" fill="#30698e"/>
<rect x="1166.40" y="1212.79" width="1.59" height="59.10" fill="#2c738e"/>
<rect x="1167.84" y="1215.83" width="1.59" height="56.06" fill="#2e6f8e"/>
<rect x="1169.27" y="1219.49" width="1.59" height="52.40" fill="#30698e"/>
<rect x="1170.71" y="1220.10" width="1.59" height="51.79" fill="#31688e"/>
<rect x="1172.15" y="1220.10" width="1.59" height="51.79" fill="#31688e"/>
<rect x="1173.59" y="1177.45" width="1.59" height="94.44" fill="#24aa83"/>
<rect x="1175.03" y="1206.08" width="1.59" height="65.81" fill="#277e8e"/>
<rect x="1176.46" y="1214.62" width="1.59" height="57.28" fill="#2d718e"/>
<rect x="1177.90" y="1219.49" width="1.59" height="52.40" fill="#30698e"/>
<rect x="1179.34" y="1209.74" width="1.59" height="62.15" fill="#2a788e"/>
<rect x="1180.78" y="1220.10" width="1.59" height="51.79" fill="#31688e"/>
<rect x="1182.22" y="1228.02" width="1.59" height="43.87" fill="#375b8d"/>
<rect x="1183.65" y="1221.93" width="1.59" height="49.96" fill="#32658e"/>
<rect x="1185.09" y="1235.33" width="1.59" height="36.56" fill="#3d4e8a"/>
<rect x="1186.53" y="1251.17" width="1.59" height="20.72" fill="#472f7d"/>
<rect x="1187.97" y="1240.21" width="1.59" height="31.68" fill="#404588"/>
<rect x="1189.41" y="1254.83" width="1.59" height="17.06" fill="#482878"/>
<rect x="1190.84" y="1245.08" width="1.59" height="26.81" fill="#443b84"/>
<rect x="1192.28" y="1261.53" width="1.59" height="10.36" fill="#481a6c"/>
<rect x="1193.72" y="1268.23" width="1.59" height="3.66" fill="#460a5d"/>
<rect x="1195.16" y="1268.23" width="1.59" height="3.66" fill="#460a5d"/>
<rect x="1196.60" y="1268.23" width="1.59" height="3.66" fill="#460a5d"/>
<rect x="1254.36" y="1263.97" width="1.60" height="7.92" fill="#481467"/>
<rect x="1255.81" y="1269.45" width="1.60" height="2.44" fill="#46075a"/>
<rect x="1257.26" y="1263.36" width="1.60" height="8.53" fill="#481668"/>
<rect x="1258.72" y="1263.36" width="1.60" height="8.53" fill="#481668"/>
<rect x="1260.17" y="1263.36" width="1.60" height="8.53" fill="#481668"/>
<rect x="1261.62" y="1251.17" width="1.60" height="20.72" fill="#472f7d"/>
<rect x="1263.08" y="1255.44" width="1.60" height="16.45" fill="#482677"/>
<rect x="1264.53" y="1249.35" width="1.60" height="22.54" fill="#46337f"/>
<rect x="1265.98" y="1251.78" width="1.60" height="20.11" fill="#472e7c"/>
<rect x="1267.44" y="1240.82" width="1.60" height="31.07" fill="#414487"/>
<rect x="1268.89" y="1227.41" width="1.60" height="44.48" fill="#365c8d"/>
<rect x="1270.34" y="1199.38" width="1.60" height="72.51" fill="#23888e"/>
<rect x="1271.79" y="1221.93" width="1.60" height="49.96" fill="#32658e"/>
<rect x="1273.25" y="1210.96" width="1.60" height="60.93" fill="#2a768e"/>
<rect x="1274.70" y="1212.79" width="1.60" height="59.10" fill="#2c738e"/>
<rect x="1276.15" y="1208.52" width="1.60" height="63.37" fill="#297a8e"/>
<rect x="1277.61" y="1206.08" width="1.60" height="65.81" fill="#277e8e"/>
<rect x="1279.06" y="1205.48" width="1.60" height="66.41" fill="#277f8e"/>
<rect x="1280.51" y="1218.88" width="1.60" height="53.01" fill="#306a8e"/>
<rect x="1281.96" y="1203.04" width="1.60" height="68.85" fill="#26828e"/>
<rect x="1283.42" y="1217.05" width="1.60" height="54.84" fill="#2e6d8e"/>
<rect x="1284.87" y="1207.30" width="1.60" height="64.59" fill="#287c8e"/>
<rect x="1286.32" y="1201.82" width="1.60" height="70.07" fill="#25848e"/>
<rect x="1287.78" y="1204.87" width="1.60" height="67.02" fill="#27808e"/>
<rect x="1289.23" y="1205.48" width="1.60" height="66.41" fill="#277f8e"/>
<rect x="1290.68" y="1198.77" width="1.60" height="73.12" fill="#23898e"/>
<rect x="1292.14" y="1198.16" width="1.60" height="73.73" fill="#238a8d"/>
<rect x="1293.59" y="1198.77" width="1.60" height="73.12" fill="#23898e"/>
<rect x="1295.04" y="1202.43" width="1.60" height="69.46" fill="#25838e"/>
<rect x="1296.49" y="1212.18" width="1.60" height="59.71" fill="#2b748e"/>
<rect x="1297.95" y="1212.18" width="1.60" height="59.71" fill="#2b748e"/>
<rect x="1299.40" y="1201.82" width="1.60" height="70.07" fill="#25848e"/>
<rect x="1300.85" y="1182.32" width="1.60" height="89.57" fill="#1fa287"/>
<rect x="1302.31" y="1190.24" width="1.60" height="81.65" fill="#1f968b"/>
<rect x="1303.76" y="1198.16" width="1.60" height="73.73" fill="#238a8d"/>
<rect x="1305.21" y="1192.07" width="1.60" height="79.82" fill="#20938c"/>
<rect x="1306.67" y="1186.59" width="1.60" height="85.30" fill="#1e9c89"/>
<rect x="1308.12" y="1190.24" width="1.60" height="81.65" fill="#1f968b"/>
<rect x="1309.57" y="1196.34" width="1.60" height="75.55" fill="#228d8d"/>
<rect x="1311.02" y="1190.24" width="1.60" height="81.65" fill="#1f968b"/>
<rect x="1312.48" y="1196.34" width="1.60" height="75.55" fill="#228d8d"/>
<rect x="1313.93" y="1190.24" width="1.60" height="81.65" fill="#1f968b"/>
<rect x="1315.38" y="1185.98" width="1.60" height="85.91" fill="#1e9d89"/>
<rect x="1316.84" y="1184.15" width="1.60" height="87.74" fill="#1fa088"/>
<rect x="1318.29" y="1176.23" width="1.60" height="95.66" fill="#25ac82"/>
<rect x="1319.74" y="1190.24" width="1.60" height="81.65" fill="#1f968b"/>
<rect x="1321.19" y="1197.55" width="1.60" height="74.34" fill="#228b8d"/>
<rect x="1322.65" y="1190.24" width="1.60" height="81.65" fill="#1f968b"/>
<rect x="1324.10" y="1198.77" width="1.60" height="73.12" fill="#23898e"/>
<rect x="1325.55" y="1185.98" width="1.60" height="85.91" fill="#1e9d89"/>
<rect x="1327.01" y="1190.24" width="1.60" height="81.65" fill="#1f968b"/>
<rect x="1328.46" y="1179.88" width="1.60" height="92.01" fill="#21a685"/>
<rect x="1329.91" y="1189.02" width="1.60" height="82.87" fill="#1f988b"/>
<rect x="1331.37" y="1195.12" width="1.60" height="76.77" fill="#218f8d"/>
<rect x="1332.82" y="1199.38" width="1.60" height="72.51" fill="#23888e"/>
<rect x="1334.27" y="1201.82" width="1.60" height="70.07" fill="#25848e"/>
<rect x="1335.72" y="1201.21" width="1.60" height="70.68" fill="#25858e"/>
<rect x="1337.18" y="1201.21" width="1.60" height="70.68" fill="#25858e"/>
<rect x="1338.63" y="1201.82" width="1.60" height="70.07" fill="#25848e"/>
<rect x="1340.08" y="1196.34" width="1.60" height="75.55" fill="#228d8d"/>
<rect x="1341.54" y="1187.81" width="1.60" height="84.08" fill="#1f9a8a"/>
<rect x="1342.99" y="1177.45" width="1.60" height="94.44" fill="#24aa83"/>
<rect x="1344.44" y="1196.34" width="1.60" height="75.55" fill="#228d8d"/>
<rect x="1345.90" y="1190.85" width="1.60" height="81.04" fill="#1f958b"/>
<rect x="1347.35" y="1189.02" width="1.60" height="82.87" fill="#1f988b"/>
<rect x="1402.36" y="1268.23" width="1.62" height="3.66" fill="#460a5d"/>
<rect x="1403.83" y="1267.63" width="1.62" height="4.27" fill="#460b5e"/>
<rect x="1405.30" y="1264.58" width="1.62" height="7.31" fill="#471365"/>
<rect x="1406.77" y="1263.97" width="1.62" height="7.92" fill="#481467"/>
<rect x="1408.24" y="1235.94" width="1.62" height="35.95" fill="#3d4d8a"/>
<rect x="1409.71" y="1225.58" width="1.62" height="46.31" fill="#355f8d"/>
<rect x="1411.18" y="1215.83" width="1.62" height="56.06" fill="#2e6f8e"/>
<rect x="1412.65" y="1228.63" width="1.62" height="43.26" fill="#375a8c"/>
<rect x="1414.12" y="1228.63" width="1.62" height="43.26" fill="#375a8c"/>
<rect x="1415.59" y="1218.27" width="1.62" height="53.62" fill="#2f6b8e"/>
<rect x="1417.06" y="1209.13" width="1.62" height="62.76" fill="#29798e"/>
<rect x="1418.53" y="1222.54" width="1.62" height="49.35" fill="#32648e"/>
<rect x="1420.00" y="1226.80" width="1.62" height="45.09" fill="#365d8d"/>
<rect x="1421.47" y="1222.54" width="1.62" height="49.35" fill="#32648e"/>
<rect x="1422.94" y="1218.27" width="1.62" height="53.62" fill="#2f6b8e"/>
<rect x="1424.41" y="1211.57" width="1.62" height="60.32" fill="#2b758e"/>
<rect x="1425.88" y="1207.30" width="1.62" height="64.59" fill="#287c8e"/>
<rect x="1427.35" y="1215.83" width="1.62" height="56.06" fill="#2e6f8e"/>
<rect x="1428.82" y="1223.15" width="1.62" height="48.74" fill="#33638d"/>
<rect x="1430.29" y="1217.05" width="1.62" height="54.84" fill="#2e6d8e"/>
<rect x="1431.76" y="1217.05" width="1.62" height="54.84" fill="#2e6d8e"/>
<rect x="1433.23" y="1209.13" width="1.62" height="62.76" fill="#29798e"/>
<rect x="1434.70" y="1218.88" width="1.62" height="53.01" fill="#306a8e"/>
<rect x="1436.17" y="1208.52" width="1.62" height="63.37" fill="#297a8e"/>
<rect x="1437.64" y="1195.73" width="1.62" height="76.16" fill="#218e8d"/>
<rect x="1439.11" y="1188.41" width="1.62" height="83.48" fill="#1f998a"/>
<rect x="1440.58" y="1189.63" width="1.62" height="82.26" fill="#1f978b"/>
<rect x="1442.05" y="1191.46" width="1.62" height="80.43" fill="#1f948c"/>
<rect x="1443.52" y="1187.81" width="1.62" height="84.08" fill="#1f9a8a"/>
<rect x="1444.99" y="1186.59" width="1.62" height="85.30" fill="#1e9c89"/>
<rect x="1446.46" y="1198.77" width="1.62" height="73.12" fill="#23898e"/>
<rect x="1447.93" y="1212.79" width="1.62" height="59.10" fill="#2c738e"/>
<rect x="1449.40" y="1208.52" width="1.62" height="63.37" fill="#297a8e"/>
<rect x="1450.87" y="1212.18" width="1.62" height="59.71" fill="#2b748e"/>
<rect x="1452.34" y="1208.52" width="1.62" height="63.37" fill="#297a8e"/>
<rect x="1453.81" y="1190.85" width="1.62" height="81.04" fill="#1f958b"/>
<rect x="1455.28" y="1207.91" width="1.62" height="63.98" fill="#297b8e"/>
<rect x="1456.75" y="1201.21" width="1.62" height="70.68" fill="#25858e"/>
<rect x="1458.22" y="1221.32" width="1.62" height="50.57" fill="#31668e"/>
<rect x="1459.69" y="1217.05" width="1.62" height="54.84" fill="#2e6d8e"/>
<rect x="1461.16" y="1226.80" width="1.62" height="45.09" fill="#365d8d"/>
<rect x="1462.63" y="1210.96" width="1.62" height="60.93" fill="#2a768e"/>
<rect x="1464.10" y="1218.27" width="1.62" height="53.62" fill="#2f6b8e"/>
<rect x="1465.57" y="1215.22" width="1.62" height="56.67" fill="#2d708e"/>
<rect x="1467.04" y="1224.97" width="1.62" height="46.92" fill="#34608d"/>
<rect x="1468.51" y="1218.27" width="1.62" height="53.62" fill="#2f6b8e"/>
<rect x="1469.98" y="1215.22" width="1.62" height="56.67" fill="#2d708e"/>
<rect x="1471.45" y="1210.96" width="1.62" height="60.93" fill="#2a768e"/>
<rect x="1472.92" y="1207.30" width="1.62" height="64.59" fill="#287c8e"/>
<rect x="1474.39" y="1215.22" width="1.62" height="56.67" fill="#2d708e"/>
<rect x="1475.86" y="1219.49" width="1.62" height="52.40" fill="#30698e"/>
<rect x="1477.33" y="1212.18" width="1.62" height="59.71" fill="#2b748e"/>
<rect x="1478.80" y="1201.82" width="1.62" height="70.07" fill="#25848e"/>
<rect x="1480.27" y="1203.65" width="1.62" height="68.24" fill="#26828e"/>
<rect x="1481.74" y="1206.69" width="1.62" height="65.20" fill="#287d8e"/>
<rect x="1483.21" y="1218.27" width="1.62" height="53.62" fill="#2f6b8e"/>
<rect x="1484.68" y="1229.24" width="1.62" height="42.65" fill="#38598c"/>
<rect x="1486.15" y="1229.85" width="1.62" height="42.04" fill="#38588c"/>
<rect x="1487.62" y="1249.96" width="1.62" height="21.94" fill="#46327e"/>
<rect x="1489.09" y="1246.91" width="1.62" height="24.98" fill="#453882"/>
<rect x="1490.56" y="1258.49" width="1.62" height="13.40" fill="#482071"/>
<rect x="1492.03" y="1264.58" width="1.62" height="7.31" fill="#471365"/>
<rect x="1493.50" y="1264.58" width="1.62" height="7.31" fill="#471365"/>
<rect x="222.70" y="862.50" width="133.50" height="151.20" fill="none" stroke="#000" stroke-width="3"/>
<rect x="403.30" y="862.50" width="128.00" height="151.20" fill="none" stroke="#000" stroke-width="3"/>
<rect x="579.20" y="862.50" width="122.70" height="151.20" fill="none" stroke="#000" stroke-width="3"/>
<rect x="749.80" y="862.50" width="120.70" height="151.20" fill="none" stroke="#000" stroke-width="3"/>
<rect x="918.40" y="862.50" width="119.10" height="151.20" fill="none" stroke="#000" stroke-width="3"/>
<rect x="1085.00" y="862.50" width="117.60" height="151.20" fill="none" stroke="#000" stroke-width="3"/>
<rect x="1250.60" y="862.50" width="100.10" height="151.20" fill="none" stroke="#000" stroke-width="3"/>
<rect x="1398.10" y="862.50" width="98.70" height="151.20" fill="none" stroke="#000" stroke-width="3"/>
<rect x="223.90" y="1126.50" width="132.90" height="151.00" fill="none" stroke="#000" stroke-width="3"/>
<rect x="404.50" y="1126.50" width="126.80" height="151.00" fill="none" stroke="#000" stroke-width="3"/>
<rect x="580.40" y="1126.50" width="122.50" height="151.00" fill="none" stroke="#000" stroke-width="3"/>
<rect x="750.60" y="1126.50" width="120.80" height="151.00" fill="none" stroke="#000" stroke-width="3"/>
<rect x="919.60" y="1126.50" width="118.90" height="151.00" fill="none" stroke="#000" stroke-width="3"/>
<rect x="1086.20" y="1126.50" width="117.60" height="151.00" fill="none" stroke="#000" stroke-width="3"/>
<rect x="1251.60" y="1126.50" width="100.00" height="151.00" fill="none" stroke="#000" stroke-width="3"/>
<rect x="1399.30" y="1126.50" width="98.70" height="151.00" fill="none" stroke="#000" stroke-width="3"/>
<defs><linearGradient id="gmag" x1="0" y1="1" x2="0" y2="0">
<stop offset="0.00" stop-color="#000004"/>
<stop offset="0.10" stop-color="#110c2f"/>
<stop offset="0.20" stop-color="#2f1163"/>
<stop offset="0.30" stop-color="#54137d"/>
<stop offset="0.40" stop-color="#782281"/>
<stop offset="0.50" stop-color="#9b2e7f"/>
<stop offset="0.60" stop-color="#bf3a77"/>
<stop offset="0.70" stop-color="#e04c67"/>
<stop offset="0.80" stop-color="#f66e5c"/>
<stop offset="0.90" stop-color="#fd9869"/>
<stop offset="1.00" stop-color="#fec185"/>
</linearGradient><linearGradient id="gvir" x1="0" y1="1" x2="0" y2="0">
<stop offset="0.00" stop-color="#440154"/>
<stop offset="0.10" stop-color="#482173"/>
<stop offset="0.20" stop-color="#433e85"/>
<stop offset="0.30" stop-color="#38588c"/>
<stop offset="0.40" stop-color="#2e6f8e"/>
<stop offset="0.50" stop-color="#25848e"/>
<stop offset="0.60" stop-color="#1f9a8a"/>
<stop offset="0.70" stop-color="#29af7f"/>
<stop offset="0.80" stop-color="#4ec36b"/>
<stop offset="0.90" stop-color="#81d34d"/>
<stop offset="1.00" stop-color="#bddf26"/>
</linearGradient></defs>
<rect x="1549.9" y="857.2" width="53.3" height="177.4" fill="url(#gmag)"/>
<rect x="1549.9" y="1122.1" width="53.5" height="177.1" fill="url(#gvir)"/>
<path d="M1549.9 923.4h9M1594.1 923.4h9" stroke="#fff" stroke-width="1" opacity="0.85"/>
<path d="M1549.9 978.6h9M1594.1 978.6h9" stroke="#fff" stroke-width="1" opacity="0.85"/>
<path d="M1549.9 1168.6h9M1594.1 1168.6h9" stroke="#fff" stroke-width="1" opacity="0.85"/>
<path d="M1549.9 1254.7h9M1594.1 1254.7h9" stroke="#fff" stroke-width="1" opacity="0.85"/>
</g>
<text x="161.00" y="839.50" font-size="39" fill="#000" text-anchor="start" font-weight="bold">c</text>
<text x="222.50" y="848.75" font-size="28" fill="#000" text-anchor="start" font-weight="normal" textLength="79.5" lengthAdjust="spacingAndGlyphs" stroke="#fff" stroke-width="0.5">Genes</text>
<text x="222.50" y="1112.50" font-size="28" fill="#000" text-anchor="start" font-weight="normal" textLength="270.0" lengthAdjust="spacingAndGlyphs" stroke="#fff" stroke-width="0.5">Repetitive sequences</text>
<text x="261.25" y="1048.75" font-size="28" fill="#000" text-anchor="start" font-weight="normal" textLength="55.0" lengthAdjust="spacingAndGlyphs" stroke="#fff" stroke-width="0.5">Chr1</text>
<text x="261.75" y="1311.60" font-size="28" fill="#000" text-anchor="start" font-weight="normal" textLength="55.0" lengthAdjust="spacingAndGlyphs" stroke="#fff" stroke-width="0.5">Chr1</text>
<text x="438.00" y="1048.75" font-size="28" fill="#000" text-anchor="start" font-weight="normal" textLength="59.5" lengthAdjust="spacingAndGlyphs" stroke="#fff" stroke-width="0.5">Chr2</text>
<text x="438.50" y="1311.60" font-size="28" fill="#000" text-anchor="start" font-weight="normal" textLength="59.5" lengthAdjust="spacingAndGlyphs" stroke="#fff" stroke-width="0.5">Chr2</text>
<text x="611.25" y="1048.75" font-size="28" fill="#000" text-anchor="start" font-weight="normal" textLength="59.5" lengthAdjust="spacingAndGlyphs" stroke="#fff" stroke-width="0.5">Chr3</text>
<text x="611.75" y="1311.60" font-size="28" fill="#000" text-anchor="start" font-weight="normal" textLength="59.5" lengthAdjust="spacingAndGlyphs" stroke="#fff" stroke-width="0.5">Chr3</text>
<text x="780.00" y="1048.75" font-size="28" fill="#000" text-anchor="start" font-weight="normal" textLength="60.5" lengthAdjust="spacingAndGlyphs" stroke="#fff" stroke-width="0.5">Chr4</text>
<text x="780.50" y="1311.60" font-size="28" fill="#000" text-anchor="start" font-weight="normal" textLength="60.5" lengthAdjust="spacingAndGlyphs" stroke="#fff" stroke-width="0.5">Chr4</text>
<text x="948.75" y="1048.75" font-size="28" fill="#000" text-anchor="start" font-weight="normal" textLength="59.2" lengthAdjust="spacingAndGlyphs" stroke="#fff" stroke-width="0.5">Chr5</text>
<text x="949.25" y="1311.60" font-size="28" fill="#000" text-anchor="start" font-weight="normal" textLength="59.2" lengthAdjust="spacingAndGlyphs" stroke="#fff" stroke-width="0.5">Chr5</text>
<text x="1114.25" y="1048.75" font-size="28" fill="#000" text-anchor="start" font-weight="normal" textLength="60.0" lengthAdjust="spacingAndGlyphs" stroke="#fff" stroke-width="0.5">Chr6</text>
<text x="1114.75" y="1311.60" font-size="28" fill="#000" text-anchor="start" font-weight="normal" textLength="60.0" lengthAdjust="spacingAndGlyphs" stroke="#fff" stroke-width="0.5">Chr6</text>
<text x="1272.50" y="1048.75" font-size="28" fill="#000" text-anchor="start" font-weight="normal" textLength="57.5" lengthAdjust="spacingAndGlyphs" stroke="#fff" stroke-width="0.5">Chr7</text>
<text x="1273.00" y="1311.60" font-size="28" fill="#000" text-anchor="start" font-weight="normal" textLength="57.5" lengthAdjust="spacingAndGlyphs" stroke="#fff" stroke-width="0.5">Chr7</text>
<text x="1417.50" y="1048.75" font-size="28" fill="#000" text-anchor="start" font-weight="normal" textLength="60.0" lengthAdjust="spacingAndGlyphs" stroke="#fff" stroke-width="0.5">Chr8</text>
<text x="1418.00" y="1311.60" font-size="28" fill="#000" text-anchor="start" font-weight="normal" textLength="60.0" lengthAdjust="spacingAndGlyphs" stroke="#fff" stroke-width="0.5">Chr8</text>
<text x="1615.00" y="932.50" font-size="27" fill="#000" text-anchor="start" font-weight="normal" textLength="46.2" lengthAdjust="spacingAndGlyphs" stroke="#fff" stroke-width="0.5">100</text>
<text x="1615.75" y="987.00" font-size="27" fill="#000" text-anchor="start" font-weight="normal" textLength="31.8" lengthAdjust="spacingAndGlyphs" stroke="#fff" stroke-width="0.5">50</text>
<text x="1615.70" y="1177.00" font-size="27" fill="#000" text-anchor="start" font-weight="normal" textLength="50.8" lengthAdjust="spacingAndGlyphs" stroke="#fff" stroke-width="0.5">300</text>
<text x="1615.10" y="1263.20" font-size="27" fill="#000" text-anchor="start" font-weight="normal" textLength="46.0" lengthAdjust="spacingAndGlyphs" stroke="#fff" stroke-width="0.5">100</text>
</svg>
</body></html>
